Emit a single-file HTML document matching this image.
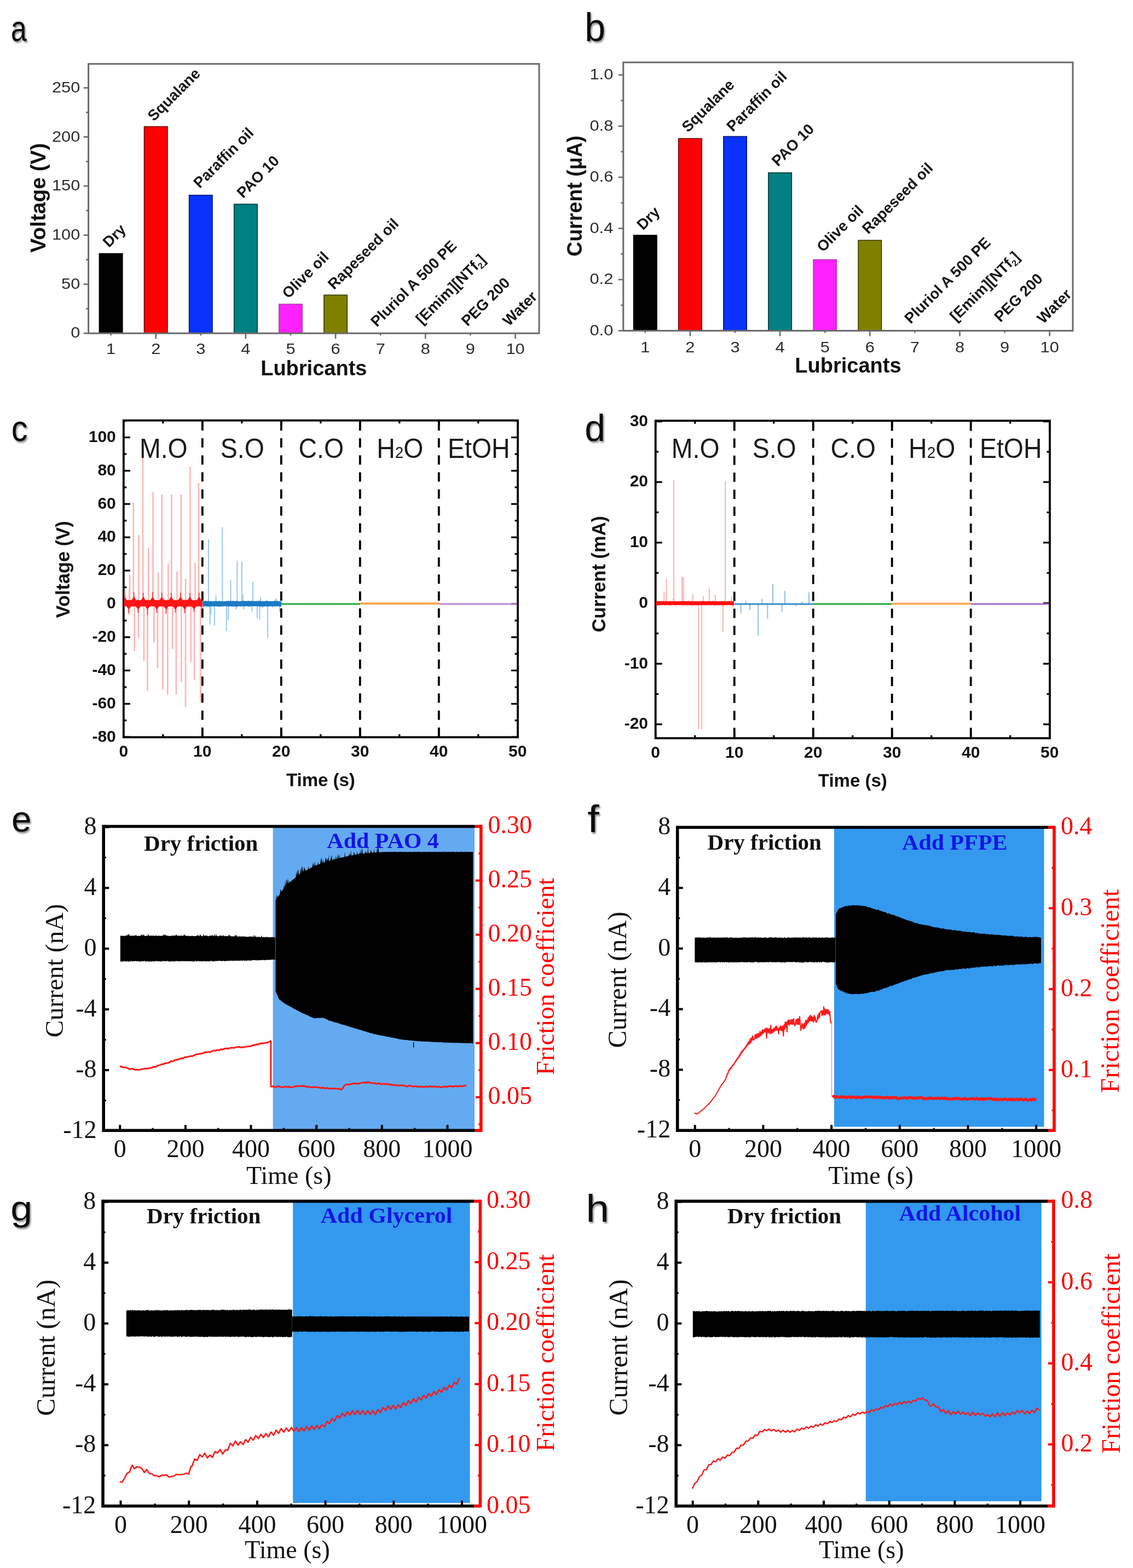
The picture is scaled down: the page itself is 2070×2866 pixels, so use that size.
<!DOCTYPE html>
<html><head><meta charset="utf-8"><title>Figure</title>
<style>html,body{margin:0;padding:0;background:#fff;}svg{display:block;}</style></head>
<body><svg xmlns="http://www.w3.org/2000/svg" width="2070" height="2866" viewBox="0 0 2070 2866">
<defs><filter id="sh" x="-30%" y="-30%" width="160%" height="160%"><feGaussianBlur in="SourceAlpha" stdDeviation="1.6"/><feOffset dx="2" dy="2.5" result="o"/><feComponentTransfer><feFuncA type="linear" slope="0.45"/></feComponentTransfer><feMerge><feMergeNode/><feMergeNode in="SourceGraphic"/></feMerge></filter></defs>
<rect width="2070" height="2866" fill="#fff"/>
<rect x="181.4" y="463.5" width="42.4" height="145.7" fill="#000000" stroke="#000000" stroke-width="1.6"/>
<rect x="263.5" y="231.4" width="42.4" height="377.8" fill="#ff0000" stroke="#720000" stroke-width="1.6"/>
<rect x="345.6" y="356.8" width="42.4" height="252.4" fill="#0a32ff" stroke="#041672" stroke-width="1.6"/>
<rect x="427.7" y="373.2" width="42.4" height="236" fill="#008080" stroke="#003939" stroke-width="1.6"/>
<rect x="509.8" y="555.9" width="42.4" height="53.3" fill="#ff22ff" stroke="#b040b0" stroke-width="1.6"/>
<rect x="591.9" y="539.3" width="42.4" height="69.9" fill="#808000" stroke="#393900" stroke-width="1.6"/>
<rect x="161.6" y="116.8" width="823.4" height="492.4" fill="none" stroke="#6a6a6a" stroke-width="3"/>
<line x1="152.6" y1="609.2" x2="161.6" y2="609.2" stroke="#6a6a6a" stroke-width="2.6"/>
<text transform="translate(146.3,617.4) scale(1.100,1)" font-family="'Liberation Sans', Arial, sans-serif" font-size="28" fill="#2b2b2b" text-anchor="end">0</text>
<line x1="152.6" y1="519.5" x2="161.6" y2="519.5" stroke="#6a6a6a" stroke-width="2.6"/>
<text transform="translate(146.3,527.7) scale(1.100,1)" font-family="'Liberation Sans', Arial, sans-serif" font-size="28" fill="#2b2b2b" text-anchor="end">50</text>
<line x1="152.6" y1="429.8" x2="161.6" y2="429.8" stroke="#6a6a6a" stroke-width="2.6"/>
<text transform="translate(146.3,438) scale(1.100,1)" font-family="'Liberation Sans', Arial, sans-serif" font-size="28" fill="#2b2b2b" text-anchor="end">100</text>
<line x1="152.6" y1="340" x2="161.6" y2="340" stroke="#6a6a6a" stroke-width="2.6"/>
<text transform="translate(146.3,348.2) scale(1.100,1)" font-family="'Liberation Sans', Arial, sans-serif" font-size="28" fill="#2b2b2b" text-anchor="end">150</text>
<line x1="152.6" y1="250.3" x2="161.6" y2="250.3" stroke="#6a6a6a" stroke-width="2.6"/>
<text transform="translate(146.3,258.5) scale(1.100,1)" font-family="'Liberation Sans', Arial, sans-serif" font-size="28" fill="#2b2b2b" text-anchor="end">200</text>
<line x1="152.6" y1="160.6" x2="161.6" y2="160.6" stroke="#6a6a6a" stroke-width="2.6"/>
<text transform="translate(146.3,168.8) scale(1.100,1)" font-family="'Liberation Sans', Arial, sans-serif" font-size="28" fill="#2b2b2b" text-anchor="end">250</text>
<line x1="157.1" y1="564.3" x2="161.6" y2="564.3" stroke="#6a6a6a" stroke-width="2.6"/>
<line x1="157.1" y1="474.6" x2="161.6" y2="474.6" stroke="#6a6a6a" stroke-width="2.6"/>
<line x1="157.1" y1="384.9" x2="161.6" y2="384.9" stroke="#6a6a6a" stroke-width="2.6"/>
<line x1="157.1" y1="295.2" x2="161.6" y2="295.2" stroke="#6a6a6a" stroke-width="2.6"/>
<line x1="157.1" y1="205.5" x2="161.6" y2="205.5" stroke="#6a6a6a" stroke-width="2.6"/>
<line x1="202.6" y1="609.2" x2="202.6" y2="613.2" stroke="#6a6a6a" stroke-width="2.6"/>
<text transform="translate(202.6,647.2) scale(1.100,1)" font-family="'Liberation Sans', Arial, sans-serif" font-size="28" fill="#2b2b2b" text-anchor="middle">1</text>
<line x1="284.7" y1="609.2" x2="284.7" y2="619.2" stroke="#6a6a6a" stroke-width="2.6"/>
<text transform="translate(284.7,647.2) scale(1.100,1)" font-family="'Liberation Sans', Arial, sans-serif" font-size="28" fill="#2b2b2b" text-anchor="middle">2</text>
<line x1="366.8" y1="609.2" x2="366.8" y2="613.2" stroke="#6a6a6a" stroke-width="2.6"/>
<text transform="translate(366.8,647.2) scale(1.100,1)" font-family="'Liberation Sans', Arial, sans-serif" font-size="28" fill="#2b2b2b" text-anchor="middle">3</text>
<line x1="448.9" y1="609.2" x2="448.9" y2="619.2" stroke="#6a6a6a" stroke-width="2.6"/>
<text transform="translate(448.9,647.2) scale(1.100,1)" font-family="'Liberation Sans', Arial, sans-serif" font-size="28" fill="#2b2b2b" text-anchor="middle">4</text>
<line x1="531" y1="609.2" x2="531" y2="613.2" stroke="#6a6a6a" stroke-width="2.6"/>
<text transform="translate(531,647.2) scale(1.100,1)" font-family="'Liberation Sans', Arial, sans-serif" font-size="28" fill="#2b2b2b" text-anchor="middle">5</text>
<line x1="613.1" y1="609.2" x2="613.1" y2="619.2" stroke="#6a6a6a" stroke-width="2.6"/>
<text transform="translate(613.1,647.2) scale(1.100,1)" font-family="'Liberation Sans', Arial, sans-serif" font-size="28" fill="#2b2b2b" text-anchor="middle">6</text>
<line x1="695.2" y1="609.2" x2="695.2" y2="613.2" stroke="#6a6a6a" stroke-width="2.6"/>
<text transform="translate(695.2,647.2) scale(1.100,1)" font-family="'Liberation Sans', Arial, sans-serif" font-size="28" fill="#2b2b2b" text-anchor="middle">7</text>
<line x1="777.3" y1="609.2" x2="777.3" y2="619.2" stroke="#6a6a6a" stroke-width="2.6"/>
<text transform="translate(777.3,647.2) scale(1.100,1)" font-family="'Liberation Sans', Arial, sans-serif" font-size="28" fill="#2b2b2b" text-anchor="middle">8</text>
<line x1="859.4" y1="609.2" x2="859.4" y2="613.2" stroke="#6a6a6a" stroke-width="2.6"/>
<text transform="translate(859.4,647.2) scale(1.100,1)" font-family="'Liberation Sans', Arial, sans-serif" font-size="28" fill="#2b2b2b" text-anchor="middle">9</text>
<line x1="941.5" y1="609.2" x2="941.5" y2="619.2" stroke="#6a6a6a" stroke-width="2.6"/>
<text transform="translate(941.5,647.2) scale(1.100,1)" font-family="'Liberation Sans', Arial, sans-serif" font-size="28" fill="#2b2b2b" text-anchor="middle">10</text>
<text transform="translate(199.1,453.5) rotate(-45)" font-family="'Liberation Sans', Arial, sans-serif" font-size="27.5" font-weight="bold" fill="#151515" text-anchor="start">Dry</text>
<text transform="translate(281.1,222.7) rotate(-45)" font-family="'Liberation Sans', Arial, sans-serif" font-size="27.5" font-weight="bold" fill="#151515" text-anchor="start">Squalane</text>
<text transform="translate(364.7,345.2) rotate(-45)" font-family="'Liberation Sans', Arial, sans-serif" font-size="27.5" font-weight="bold" fill="#151515" text-anchor="start">Paraffin oil</text>
<text transform="translate(444,363.5) rotate(-45)" font-family="'Liberation Sans', Arial, sans-serif" font-size="27.5" font-weight="bold" fill="#151515" text-anchor="start">PAO 10</text>
<text transform="translate(526.8,547.1) rotate(-45)" font-family="'Liberation Sans', Arial, sans-serif" font-size="27.5" font-weight="bold" fill="#151515" text-anchor="start">Olive oil</text>
<text transform="translate(610.3,530.5) rotate(-45)" font-family="'Liberation Sans', Arial, sans-serif" font-size="27.5" font-weight="bold" fill="#151515" text-anchor="start">Rapeseed oil</text>
<text transform="translate(688.4,598.7) rotate(-45)" font-family="'Liberation Sans', Arial, sans-serif" font-size="27.5" font-weight="bold" fill="#151515" text-anchor="start">Pluriol A 500 PE</text>
<text transform="translate(771.1,593.9) rotate(-45)" font-family="'Liberation Sans', Arial, sans-serif" font-size="27.5" font-weight="bold" fill="#151515" text-anchor="start">[Emim][NTf<tspan font-size="16" dy="5">2</tspan><tspan dy="-5">]</tspan></text>
<text transform="translate(854.3,597.6) rotate(-45)" font-family="'Liberation Sans', Arial, sans-serif" font-size="27.5" font-weight="bold" fill="#151515" text-anchor="start">PEG 200</text>
<text transform="translate(929.8,597.2) rotate(-45)" font-family="'Liberation Sans', Arial, sans-serif" font-size="27.5" font-weight="bold" fill="#151515" text-anchor="start">Water</text>
<text transform="translate(573.3,685.6)" font-family="'Liberation Sans', Arial, sans-serif" font-size="38" font-weight="bold" fill="#111" text-anchor="middle">Lubricants</text>
<text transform="translate(83.4,361.6) rotate(-90) scale(0.985,1)" font-family="'Liberation Sans', Arial, sans-serif" font-size="39.5" font-weight="bold" fill="#111" text-anchor="middle">Voltage (V)</text>
<rect x="1157.6" y="430" width="42.4" height="174.5" fill="#000000" stroke="#000000" stroke-width="1.6"/>
<rect x="1239.7" y="253.2" width="42.4" height="351.3" fill="#ff0000" stroke="#720000" stroke-width="1.6"/>
<rect x="1321.8" y="249.5" width="42.4" height="355" fill="#0a32ff" stroke="#041672" stroke-width="1.6"/>
<rect x="1403.9" y="315.8" width="42.4" height="288.7" fill="#008080" stroke="#003939" stroke-width="1.6"/>
<rect x="1486" y="474.6" width="42.4" height="129.9" fill="#ff22ff" stroke="#b040b0" stroke-width="1.6"/>
<rect x="1568.1" y="439.3" width="42.4" height="165.2" fill="#808000" stroke="#393900" stroke-width="1.6"/>
<rect x="1138.8" y="114" width="821.2" height="490.5" fill="none" stroke="#6a6a6a" stroke-width="3"/>
<line x1="1129.8" y1="604.5" x2="1138.8" y2="604.5" stroke="#6a6a6a" stroke-width="2.6"/>
<text transform="translate(1120.3,612.7) scale(1.100,1)" font-family="'Liberation Sans', Arial, sans-serif" font-size="28" fill="#2b2b2b" text-anchor="end">0.0</text>
<line x1="1129.8" y1="511" x2="1138.8" y2="511" stroke="#6a6a6a" stroke-width="2.6"/>
<text transform="translate(1120.3,519.2) scale(1.100,1)" font-family="'Liberation Sans', Arial, sans-serif" font-size="28" fill="#2b2b2b" text-anchor="end">0.2</text>
<line x1="1129.8" y1="417.5" x2="1138.8" y2="417.5" stroke="#6a6a6a" stroke-width="2.6"/>
<text transform="translate(1120.3,425.7) scale(1.100,1)" font-family="'Liberation Sans', Arial, sans-serif" font-size="28" fill="#2b2b2b" text-anchor="end">0.4</text>
<line x1="1129.8" y1="324" x2="1138.8" y2="324" stroke="#6a6a6a" stroke-width="2.6"/>
<text transform="translate(1120.3,332.2) scale(1.100,1)" font-family="'Liberation Sans', Arial, sans-serif" font-size="28" fill="#2b2b2b" text-anchor="end">0.6</text>
<line x1="1129.8" y1="230.5" x2="1138.8" y2="230.5" stroke="#6a6a6a" stroke-width="2.6"/>
<text transform="translate(1120.3,238.7) scale(1.100,1)" font-family="'Liberation Sans', Arial, sans-serif" font-size="28" fill="#2b2b2b" text-anchor="end">0.8</text>
<line x1="1129.8" y1="137" x2="1138.8" y2="137" stroke="#6a6a6a" stroke-width="2.6"/>
<text transform="translate(1120.3,145.2) scale(1.100,1)" font-family="'Liberation Sans', Arial, sans-serif" font-size="28" fill="#2b2b2b" text-anchor="end">1.0</text>
<line x1="1134.3" y1="557.8" x2="1138.8" y2="557.8" stroke="#6a6a6a" stroke-width="2.6"/>
<line x1="1134.3" y1="464.2" x2="1138.8" y2="464.2" stroke="#6a6a6a" stroke-width="2.6"/>
<line x1="1134.3" y1="370.8" x2="1138.8" y2="370.8" stroke="#6a6a6a" stroke-width="2.6"/>
<line x1="1134.3" y1="277.2" x2="1138.8" y2="277.2" stroke="#6a6a6a" stroke-width="2.6"/>
<line x1="1134.3" y1="183.8" x2="1138.8" y2="183.8" stroke="#6a6a6a" stroke-width="2.6"/>
<line x1="1178.8" y1="604.5" x2="1178.8" y2="608.5" stroke="#6a6a6a" stroke-width="2.6"/>
<text transform="translate(1178.8,644) scale(1.100,1)" font-family="'Liberation Sans', Arial, sans-serif" font-size="28" fill="#2b2b2b" text-anchor="middle">1</text>
<line x1="1260.9" y1="604.5" x2="1260.9" y2="614.5" stroke="#6a6a6a" stroke-width="2.6"/>
<text transform="translate(1260.9,644) scale(1.100,1)" font-family="'Liberation Sans', Arial, sans-serif" font-size="28" fill="#2b2b2b" text-anchor="middle">2</text>
<line x1="1343" y1="604.5" x2="1343" y2="608.5" stroke="#6a6a6a" stroke-width="2.6"/>
<text transform="translate(1343,644) scale(1.100,1)" font-family="'Liberation Sans', Arial, sans-serif" font-size="28" fill="#2b2b2b" text-anchor="middle">3</text>
<line x1="1425.1" y1="604.5" x2="1425.1" y2="614.5" stroke="#6a6a6a" stroke-width="2.6"/>
<text transform="translate(1425.1,644) scale(1.100,1)" font-family="'Liberation Sans', Arial, sans-serif" font-size="28" fill="#2b2b2b" text-anchor="middle">4</text>
<line x1="1507.2" y1="604.5" x2="1507.2" y2="608.5" stroke="#6a6a6a" stroke-width="2.6"/>
<text transform="translate(1507.2,644) scale(1.100,1)" font-family="'Liberation Sans', Arial, sans-serif" font-size="28" fill="#2b2b2b" text-anchor="middle">5</text>
<line x1="1589.3" y1="604.5" x2="1589.3" y2="614.5" stroke="#6a6a6a" stroke-width="2.6"/>
<text transform="translate(1589.3,644) scale(1.100,1)" font-family="'Liberation Sans', Arial, sans-serif" font-size="28" fill="#2b2b2b" text-anchor="middle">6</text>
<line x1="1671.4" y1="604.5" x2="1671.4" y2="608.5" stroke="#6a6a6a" stroke-width="2.6"/>
<text transform="translate(1671.4,644) scale(1.100,1)" font-family="'Liberation Sans', Arial, sans-serif" font-size="28" fill="#2b2b2b" text-anchor="middle">7</text>
<line x1="1753.5" y1="604.5" x2="1753.5" y2="614.5" stroke="#6a6a6a" stroke-width="2.6"/>
<text transform="translate(1753.5,644) scale(1.100,1)" font-family="'Liberation Sans', Arial, sans-serif" font-size="28" fill="#2b2b2b" text-anchor="middle">8</text>
<line x1="1835.6" y1="604.5" x2="1835.6" y2="608.5" stroke="#6a6a6a" stroke-width="2.6"/>
<text transform="translate(1835.6,644) scale(1.100,1)" font-family="'Liberation Sans', Arial, sans-serif" font-size="28" fill="#2b2b2b" text-anchor="middle">9</text>
<line x1="1917.7" y1="604.5" x2="1917.7" y2="614.5" stroke="#6a6a6a" stroke-width="2.6"/>
<text transform="translate(1917.7,644) scale(1.100,1)" font-family="'Liberation Sans', Arial, sans-serif" font-size="28" fill="#2b2b2b" text-anchor="middle">10</text>
<text transform="translate(1174.8,421.7) rotate(-45)" font-family="'Liberation Sans', Arial, sans-serif" font-size="27.5" font-weight="bold" fill="#151515" text-anchor="start">Dry</text>
<text transform="translate(1256.9,243.1) rotate(-45)" font-family="'Liberation Sans', Arial, sans-serif" font-size="27.5" font-weight="bold" fill="#151515" text-anchor="start">Squalane</text>
<text transform="translate(1338.8,242.1) rotate(-45)" font-family="'Liberation Sans', Arial, sans-serif" font-size="27.5" font-weight="bold" fill="#151515" text-anchor="start">Paraffin oil</text>
<text transform="translate(1421.3,305.3) rotate(-45)" font-family="'Liberation Sans', Arial, sans-serif" font-size="27.5" font-weight="bold" fill="#151515" text-anchor="start">PAO 10</text>
<text transform="translate(1503.4,462) rotate(-45)" font-family="'Liberation Sans', Arial, sans-serif" font-size="27.5" font-weight="bold" fill="#151515" text-anchor="start">Olive oil</text>
<text transform="translate(1586.3,428.9) rotate(-45)" font-family="'Liberation Sans', Arial, sans-serif" font-size="27.5" font-weight="bold" fill="#151515" text-anchor="start">Rapeseed oil</text>
<text transform="translate(1663.7,592.9) rotate(-45)" font-family="'Liberation Sans', Arial, sans-serif" font-size="27.5" font-weight="bold" fill="#151515" text-anchor="start">Pluriol A 500 PE</text>
<text transform="translate(1746.8,588.9) rotate(-45)" font-family="'Liberation Sans', Arial, sans-serif" font-size="27.5" font-weight="bold" fill="#151515" text-anchor="start">[Emim][NTf<tspan font-size="16" dy="5">2</tspan><tspan dy="-5">]</tspan></text>
<text transform="translate(1827.8,590) rotate(-45)" font-family="'Liberation Sans', Arial, sans-serif" font-size="27.5" font-weight="bold" fill="#151515" text-anchor="start">PEG 200</text>
<text transform="translate(1906,593) rotate(-45)" font-family="'Liberation Sans', Arial, sans-serif" font-size="27.5" font-weight="bold" fill="#151515" text-anchor="start">Water</text>
<text transform="translate(1549.4,681)" font-family="'Liberation Sans', Arial, sans-serif" font-size="38" font-weight="bold" fill="#111" text-anchor="middle">Lubricants</text>
<text transform="translate(1063.1,358.2) rotate(-90) scale(0.950,1)" font-family="'Liberation Sans', Arial, sans-serif" font-size="39.5" font-weight="bold" fill="#111" text-anchor="middle">Current (μA)</text>
<rect x="225.8" y="768.5" width="720.2" height="579" fill="none" stroke="#000" stroke-width="3.8"/>
<line x1="225.8" y1="1347.2" x2="237.8" y2="1347.2" stroke="#000" stroke-width="3.2"/>
<line x1="934" y1="1347.2" x2="946" y2="1347.2" stroke="#000" stroke-width="3.2"/>
<line x1="225.8" y1="1286.4" x2="237.8" y2="1286.4" stroke="#000" stroke-width="3.2"/>
<line x1="934" y1="1286.4" x2="946" y2="1286.4" stroke="#000" stroke-width="3.2"/>
<line x1="225.8" y1="1225.5" x2="237.8" y2="1225.5" stroke="#000" stroke-width="3.2"/>
<line x1="934" y1="1225.5" x2="946" y2="1225.5" stroke="#000" stroke-width="3.2"/>
<line x1="225.8" y1="1164.7" x2="237.8" y2="1164.7" stroke="#000" stroke-width="3.2"/>
<line x1="934" y1="1164.7" x2="946" y2="1164.7" stroke="#000" stroke-width="3.2"/>
<line x1="225.8" y1="1103.8" x2="237.8" y2="1103.8" stroke="#000" stroke-width="3.2"/>
<line x1="934" y1="1103.8" x2="946" y2="1103.8" stroke="#000" stroke-width="3.2"/>
<line x1="225.8" y1="1042.9" x2="237.8" y2="1042.9" stroke="#000" stroke-width="3.2"/>
<line x1="934" y1="1042.9" x2="946" y2="1042.9" stroke="#000" stroke-width="3.2"/>
<line x1="225.8" y1="982.1" x2="237.8" y2="982.1" stroke="#000" stroke-width="3.2"/>
<line x1="934" y1="982.1" x2="946" y2="982.1" stroke="#000" stroke-width="3.2"/>
<line x1="225.8" y1="921.2" x2="237.8" y2="921.2" stroke="#000" stroke-width="3.2"/>
<line x1="934" y1="921.2" x2="946" y2="921.2" stroke="#000" stroke-width="3.2"/>
<line x1="225.8" y1="860.4" x2="237.8" y2="860.4" stroke="#000" stroke-width="3.2"/>
<line x1="934" y1="860.4" x2="946" y2="860.4" stroke="#000" stroke-width="3.2"/>
<line x1="225.8" y1="799.5" x2="237.8" y2="799.5" stroke="#000" stroke-width="3.2"/>
<line x1="934" y1="799.5" x2="946" y2="799.5" stroke="#000" stroke-width="3.2"/>
<line x1="225.8" y1="1316.8" x2="231.3" y2="1316.8" stroke="#000" stroke-width="3.2"/>
<line x1="940.5" y1="1316.8" x2="946" y2="1316.8" stroke="#000" stroke-width="3.2"/>
<line x1="225.8" y1="1256" x2="231.3" y2="1256" stroke="#000" stroke-width="3.2"/>
<line x1="940.5" y1="1256" x2="946" y2="1256" stroke="#000" stroke-width="3.2"/>
<line x1="225.8" y1="1195.1" x2="231.3" y2="1195.1" stroke="#000" stroke-width="3.2"/>
<line x1="940.5" y1="1195.1" x2="946" y2="1195.1" stroke="#000" stroke-width="3.2"/>
<line x1="225.8" y1="1134.2" x2="231.3" y2="1134.2" stroke="#000" stroke-width="3.2"/>
<line x1="940.5" y1="1134.2" x2="946" y2="1134.2" stroke="#000" stroke-width="3.2"/>
<line x1="225.8" y1="1073.4" x2="231.3" y2="1073.4" stroke="#000" stroke-width="3.2"/>
<line x1="940.5" y1="1073.4" x2="946" y2="1073.4" stroke="#000" stroke-width="3.2"/>
<line x1="225.8" y1="1012.5" x2="231.3" y2="1012.5" stroke="#000" stroke-width="3.2"/>
<line x1="940.5" y1="1012.5" x2="946" y2="1012.5" stroke="#000" stroke-width="3.2"/>
<line x1="225.8" y1="951.6" x2="231.3" y2="951.6" stroke="#000" stroke-width="3.2"/>
<line x1="940.5" y1="951.6" x2="946" y2="951.6" stroke="#000" stroke-width="3.2"/>
<line x1="225.8" y1="890.8" x2="231.3" y2="890.8" stroke="#000" stroke-width="3.2"/>
<line x1="940.5" y1="890.8" x2="946" y2="890.8" stroke="#000" stroke-width="3.2"/>
<line x1="225.8" y1="829.9" x2="231.3" y2="829.9" stroke="#000" stroke-width="3.2"/>
<line x1="940.5" y1="829.9" x2="946" y2="829.9" stroke="#000" stroke-width="3.2"/>
<line x1="225.8" y1="769.1" x2="231.3" y2="769.1" stroke="#000" stroke-width="3.2"/>
<line x1="940.5" y1="769.1" x2="946" y2="769.1" stroke="#000" stroke-width="3.2"/>
<text transform="translate(211.8,1355.5)" font-family="'Liberation Sans', Arial, sans-serif" font-size="30" font-weight="bold" fill="#111" text-anchor="end">-80</text>
<text transform="translate(211.8,1294.7)" font-family="'Liberation Sans', Arial, sans-serif" font-size="30" font-weight="bold" fill="#111" text-anchor="end">-60</text>
<text transform="translate(211.8,1233.8)" font-family="'Liberation Sans', Arial, sans-serif" font-size="30" font-weight="bold" fill="#111" text-anchor="end">-40</text>
<text transform="translate(211.8,1173)" font-family="'Liberation Sans', Arial, sans-serif" font-size="30" font-weight="bold" fill="#111" text-anchor="end">-20</text>
<text transform="translate(211.8,1112.1)" font-family="'Liberation Sans', Arial, sans-serif" font-size="30" font-weight="bold" fill="#111" text-anchor="end">0</text>
<text transform="translate(211.8,1051.2)" font-family="'Liberation Sans', Arial, sans-serif" font-size="30" font-weight="bold" fill="#111" text-anchor="end">20</text>
<text transform="translate(211.8,990.4)" font-family="'Liberation Sans', Arial, sans-serif" font-size="30" font-weight="bold" fill="#111" text-anchor="end">40</text>
<text transform="translate(211.8,929.5)" font-family="'Liberation Sans', Arial, sans-serif" font-size="30" font-weight="bold" fill="#111" text-anchor="end">60</text>
<text transform="translate(211.8,868.7)" font-family="'Liberation Sans', Arial, sans-serif" font-size="30" font-weight="bold" fill="#111" text-anchor="end">80</text>
<text transform="translate(211.8,807.8)" font-family="'Liberation Sans', Arial, sans-serif" font-size="30" font-weight="bold" fill="#111" text-anchor="end">100</text>
<line x1="225.8" y1="1347.5" x2="225.8" y2="1335.5" stroke="#000" stroke-width="3.2"/>
<line x1="225.8" y1="768.5" x2="225.8" y2="780.5" stroke="#000" stroke-width="3.2"/>
<text transform="translate(225.8,1383)" font-family="'Liberation Sans', Arial, sans-serif" font-size="30" font-weight="bold" fill="#111" text-anchor="middle">0</text>
<line x1="369.8" y1="1347.5" x2="369.8" y2="1335.5" stroke="#000" stroke-width="3.2"/>
<line x1="369.8" y1="768.5" x2="369.8" y2="780.5" stroke="#000" stroke-width="3.2"/>
<text transform="translate(369.8,1383)" font-family="'Liberation Sans', Arial, sans-serif" font-size="30" font-weight="bold" fill="#111" text-anchor="middle">10</text>
<line x1="513.8" y1="1347.5" x2="513.8" y2="1335.5" stroke="#000" stroke-width="3.2"/>
<line x1="513.8" y1="768.5" x2="513.8" y2="780.5" stroke="#000" stroke-width="3.2"/>
<text transform="translate(513.8,1383)" font-family="'Liberation Sans', Arial, sans-serif" font-size="30" font-weight="bold" fill="#111" text-anchor="middle">20</text>
<line x1="657.8" y1="1347.5" x2="657.8" y2="1335.5" stroke="#000" stroke-width="3.2"/>
<line x1="657.8" y1="768.5" x2="657.8" y2="780.5" stroke="#000" stroke-width="3.2"/>
<text transform="translate(657.8,1383)" font-family="'Liberation Sans', Arial, sans-serif" font-size="30" font-weight="bold" fill="#111" text-anchor="middle">30</text>
<line x1="801.8" y1="1347.5" x2="801.8" y2="1335.5" stroke="#000" stroke-width="3.2"/>
<line x1="801.8" y1="768.5" x2="801.8" y2="780.5" stroke="#000" stroke-width="3.2"/>
<text transform="translate(801.8,1383)" font-family="'Liberation Sans', Arial, sans-serif" font-size="30" font-weight="bold" fill="#111" text-anchor="middle">40</text>
<line x1="945.8" y1="1347.5" x2="945.8" y2="1335.5" stroke="#000" stroke-width="3.2"/>
<line x1="945.8" y1="768.5" x2="945.8" y2="780.5" stroke="#000" stroke-width="3.2"/>
<text transform="translate(945.8,1383)" font-family="'Liberation Sans', Arial, sans-serif" font-size="30" font-weight="bold" fill="#111" text-anchor="middle">50</text>
<line x1="297.8" y1="1347.5" x2="297.8" y2="1342" stroke="#000" stroke-width="3.2"/>
<line x1="297.8" y1="768.5" x2="297.8" y2="774" stroke="#000" stroke-width="3.2"/>
<line x1="441.8" y1="1347.5" x2="441.8" y2="1342" stroke="#000" stroke-width="3.2"/>
<line x1="441.8" y1="768.5" x2="441.8" y2="774" stroke="#000" stroke-width="3.2"/>
<line x1="585.8" y1="1347.5" x2="585.8" y2="1342" stroke="#000" stroke-width="3.2"/>
<line x1="585.8" y1="768.5" x2="585.8" y2="774" stroke="#000" stroke-width="3.2"/>
<line x1="729.8" y1="1347.5" x2="729.8" y2="1342" stroke="#000" stroke-width="3.2"/>
<line x1="729.8" y1="768.5" x2="729.8" y2="774" stroke="#000" stroke-width="3.2"/>
<line x1="873.8" y1="1347.5" x2="873.8" y2="1342" stroke="#000" stroke-width="3.2"/>
<line x1="873.8" y1="768.5" x2="873.8" y2="774" stroke="#000" stroke-width="3.2"/>
<line x1="228.8" y1="1102" x2="228.8" y2="1080.5" stroke="#ffb4b4" stroke-width="2.6"/>
<line x1="236.2" y1="1102" x2="236.2" y2="1075.7" stroke="#ffb4b4" stroke-width="2.6"/>
<line x1="237" y1="1102" x2="237" y2="1050.7" stroke="#ffb4b4" stroke-width="2.6"/>
<line x1="243.8" y1="1102" x2="243.8" y2="918.6" stroke="#ffb4b4" stroke-width="2.6"/>
<line x1="253.3" y1="1102" x2="253.3" y2="978" stroke="#ffb4b4" stroke-width="2.6"/>
<line x1="261" y1="1102" x2="261" y2="812" stroke="#ffb4b4" stroke-width="2.6"/>
<line x1="271.2" y1="1102" x2="271.2" y2="1001.4" stroke="#ffb4b4" stroke-width="2.6"/>
<line x1="279.5" y1="1102" x2="279.5" y2="899.5" stroke="#ffb4b4" stroke-width="2.6"/>
<line x1="289" y1="1102" x2="289" y2="1046" stroke="#ffb4b4" stroke-width="2.6"/>
<line x1="295.7" y1="1102" x2="295.7" y2="904" stroke="#ffb4b4" stroke-width="2.6"/>
<line x1="307.4" y1="1102" x2="307.4" y2="1031.7" stroke="#ffb4b4" stroke-width="2.6"/>
<line x1="313.3" y1="1102" x2="313.3" y2="904" stroke="#ffb4b4" stroke-width="2.6"/>
<line x1="323.6" y1="1102" x2="323.6" y2="1044.8" stroke="#ffb4b4" stroke-width="2.6"/>
<line x1="330.7" y1="1102" x2="330.7" y2="904" stroke="#ffb4b4" stroke-width="2.6"/>
<line x1="339" y1="1102" x2="339" y2="1057.9" stroke="#ffb4b4" stroke-width="2.6"/>
<line x1="347.4" y1="1102" x2="347.4" y2="853" stroke="#ffb4b4" stroke-width="2.6"/>
<line x1="356.4" y1="1102" x2="356.4" y2="1029.3" stroke="#ffb4b4" stroke-width="2.6"/>
<line x1="362.9" y1="1102" x2="362.9" y2="882.9" stroke="#ffb4b4" stroke-width="2.6"/>
<line x1="234.8" y1="1102" x2="234.8" y2="1123.3" stroke="#ffb4b4" stroke-width="2.6"/>
<line x1="245.7" y1="1102" x2="245.7" y2="1190" stroke="#ffb4b4" stroke-width="2.6"/>
<line x1="252.9" y1="1102" x2="252.9" y2="1166.2" stroke="#ffb4b4" stroke-width="2.6"/>
<line x1="262.9" y1="1102" x2="262.9" y2="1207.9" stroke="#ffb4b4" stroke-width="2.6"/>
<line x1="269.5" y1="1102" x2="269.5" y2="1262.6" stroke="#ffb4b4" stroke-width="2.6"/>
<line x1="281.4" y1="1102" x2="281.4" y2="1174.5" stroke="#ffb4b4" stroke-width="2.6"/>
<line x1="287.9" y1="1102" x2="287.9" y2="1221" stroke="#ffb4b4" stroke-width="2.6"/>
<line x1="297.4" y1="1102" x2="297.4" y2="1260.2" stroke="#ffb4b4" stroke-width="2.6"/>
<line x1="306.2" y1="1102" x2="306.2" y2="1269.8" stroke="#ffb4b4" stroke-width="2.6"/>
<line x1="315.2" y1="1102" x2="315.2" y2="1186.4" stroke="#ffb4b4" stroke-width="2.6"/>
<line x1="321.9" y1="1102" x2="321.9" y2="1269.8" stroke="#ffb4b4" stroke-width="2.6"/>
<line x1="331.4" y1="1102" x2="331.4" y2="1247" stroke="#ffb4b4" stroke-width="2.6"/>
<line x1="339" y1="1102" x2="339" y2="1292.4" stroke="#ffb4b4" stroke-width="2.6"/>
<line x1="348.6" y1="1102" x2="348.6" y2="1210.2" stroke="#ffb4b4" stroke-width="2.6"/>
<line x1="355" y1="1102" x2="355" y2="1242.4" stroke="#ffb4b4" stroke-width="2.6"/>
<line x1="366.4" y1="1102" x2="366.4" y2="1284" stroke="#ffb4b4" stroke-width="2.6"/>
<polygon points="226.5,1092.3 227.3,1090.5 228.1,1090.6 228.9,1092.5 229.7,1093.9 230.5,1095.2 231.3,1096 232.1,1097.1 232.9,1096.7 233.7,1096.7 234.5,1096.4 235.3,1096.5 236.1,1097.1 236.9,1097 237.7,1097.1 238.5,1096.7 239.3,1096.8 240.1,1097.2 240.9,1096 241.7,1095.3 242.5,1093.9 243.3,1092.3 244.1,1091.2 244.9,1090.2 245.7,1091.6 246.5,1092.8 247.3,1094.6 248.1,1096 248.9,1097 249.7,1096.6 250.5,1096.5 251.3,1096.6 252.1,1096.7 252.9,1096.5 253.7,1096.8 254.5,1097.2 255.3,1096.7 256.1,1096.5 256.9,1096.9 257.7,1096.8 258.5,1095.7 259.3,1094.6 260.1,1093.1 260.9,1091.5 261.7,1090.1 262.5,1091.3 263.3,1092.6 264.1,1094.4 264.9,1095.5 265.7,1096 266.5,1097.1 267.3,1097 268.1,1096.7 268.9,1097.2 269.7,1096.9 270.5,1096.4 271.3,1096.8 272.1,1096.7 272.9,1096.5 273.7,1096.5 274.5,1096.7 275.3,1096 276.1,1094.9 276.9,1093.4 277.7,1091.9 278.5,1090.6 279.3,1091.3 280.1,1092.9 280.9,1093.8 281.7,1095.3 282.5,1096.3 283.3,1096.5 284.1,1096.8 284.9,1097.1 285.7,1096.9 286.5,1096.5 287.3,1097.2 288.1,1096.8 288.9,1096.8 289.7,1096.8 290.5,1096.5 291.3,1096.9 292.1,1096.2 292.9,1094.8 293.7,1093.7 294.5,1091.9 295.3,1090.3 296.1,1090.3 296.9,1092.3 297.7,1093.7 298.5,1095.2 299.3,1096.1 300.1,1096.4 300.9,1096.5 301.7,1096.4 302.5,1097 303.3,1097 304.1,1096.7 304.9,1096.5 305.7,1096.7 306.5,1097.1 307.3,1096.5 308.1,1096.6 308.9,1096.4 309.7,1095.3 310.5,1093.5 311.3,1092.6 312.1,1090.8 312.9,1090.5 313.7,1091.4 314.5,1093.5 315.3,1094.1 316.1,1095.8 316.9,1096.9 317.7,1096.4 318.5,1096.8 319.3,1096.9 320.1,1096.5 320.9,1097 321.7,1097 322.5,1097 323.3,1097.1 324.1,1096.9 324.9,1096.7 325.7,1096.5 326.5,1095.4 327.3,1094.2 328.1,1092.9 328.9,1091.8 329.7,1090.1 330.5,1091.2 331.3,1093 332.1,1094.2 332.9,1095.7 333.7,1096.6 334.5,1096.6 335.3,1096.8 336.1,1096.5 336.9,1096.7 337.7,1096.8 338.5,1096.8 339.3,1096.8 340.1,1096.6 340.9,1096.4 341.7,1096.8 342.5,1096.3 343.3,1096 344.1,1094.9 344.9,1093.5 345.7,1091.5 346.5,1090.5 347.3,1090.9 348.1,1092.2 348.9,1094.1 349.7,1095.2 350.5,1095.8 351.3,1097.1 352.1,1096.8 352.9,1097 353.7,1096.6 354.5,1096.8 355.3,1097.2 356.1,1096.7 356.9,1097.1 357.7,1096.6 358.5,1097.1 359.3,1097.1 360.1,1096.1 360.9,1094.9 361.7,1093.3 362.5,1092.4 363.3,1090.5 364.1,1090.9 364.9,1092 365.7,1093.9 366.5,1094.7 367.3,1096.3 368.1,1097.1 368.9,1096.8 369.7,1096.8 369.7,1112.2 368.9,1110.5 368.1,1109.9 367.3,1109 366.5,1108.6 365.7,1108.8 364.9,1108.3 364.1,1108 363.3,1108.6 362.5,1108.7 361.7,1108.2 360.9,1108.7 360.1,1108.1 359.3,1108.6 358.5,1108.5 357.7,1109.9 356.9,1111.1 356.1,1111.9 355.3,1113.1 354.5,1114.7 353.7,1113.2 352.9,1112.1 352.1,1110.8 351.3,1109.8 350.5,1109.1 349.7,1108.4 348.9,1108.8 348.1,1108.8 347.3,1108.1 346.5,1108.6 345.7,1108.7 344.9,1108.5 344.1,1108.2 343.3,1108.4 342.5,1108.1 341.7,1108.9 340.9,1109.1 340.1,1110.7 339.3,1111.9 338.5,1112.9 337.7,1114.5 336.9,1114 336.1,1112.5 335.3,1111.5 334.5,1110.1 333.7,1108.9 332.9,1108.4 332.1,1108.6 331.3,1108.4 330.5,1108.4 329.7,1108.4 328.9,1108.6 328.1,1108.1 327.3,1108 326.5,1108.4 325.7,1108.7 324.9,1108.7 324.1,1109.1 323.3,1110.4 322.5,1111.2 321.7,1112.6 320.9,1113.8 320.1,1114.1 319.3,1113.2 318.5,1111.9 317.7,1110.5 316.9,1108.9 316.1,1108.6 315.3,1108.5 314.5,1108.7 313.7,1108.6 312.9,1108.1 312.1,1108.1 311.3,1108.8 310.5,1108.3 309.7,1108.6 308.9,1108.6 308.1,1108.4 307.3,1109.1 306.5,1110 305.7,1111.2 304.9,1112.2 304.1,1113.9 303.3,1114.5 302.5,1113 301.7,1111.8 300.9,1111.1 300.1,1109.5 299.3,1108.8 298.5,1108.2 297.7,1108 296.9,1108.4 296.1,1108.6 295.3,1108.6 294.5,1108.8 293.7,1108.2 292.9,1108.6 292.1,1108.6 291.3,1108.3 290.5,1108.8 289.7,1109.9 288.9,1110.3 288.1,1111.6 287.3,1113.6 286.5,1114.4 285.7,1113.4 284.9,1111.9 284.1,1111 283.3,1110.2 282.5,1108.6 281.7,1108.3 280.9,1108.1 280.1,1108.7 279.3,1108.3 278.5,1108.1 277.7,1108 276.9,1108.1 276.1,1108.1 275.3,1108.5 274.5,1108.3 273.7,1108.8 272.9,1109.5 272.1,1110 271.3,1111.7 270.5,1113.1 269.7,1114.4 268.9,1113.9 268.1,1112.4 267.3,1111.3 266.5,1109.9 265.7,1108.8 264.9,1108.7 264.1,1108.3 263.3,1108.7 262.5,1108.7 261.7,1108.4 260.9,1108.7 260.1,1108.2 259.3,1108.6 258.5,1108.1 257.7,1108.4 256.9,1108.5 256.1,1108.9 255.3,1110.5 254.5,1111.4 253.7,1112.7 252.9,1114.3 252.1,1114.3 251.3,1113 250.5,1111.4 249.7,1110.4 248.9,1109.5 248.1,1108.5 247.3,1108.6 246.5,1108.1 245.7,1108.2 244.9,1108.7 244.1,1108.5 243.3,1108.6 242.5,1108.2 241.7,1108.5 240.9,1108.3 240.1,1108.2 239.3,1108.5 238.5,1109.7 237.7,1111 236.9,1112.5 236.1,1113.3 235.3,1114.5 234.5,1112.9 233.7,1111.8 232.9,1111 232.1,1109.3 231.3,1108.9 230.5,1108.1 229.7,1108.3 228.9,1108.4 228.1,1108.3 227.3,1108.1 226.5,1108.1" fill="#ff1414" stroke="none" stroke-width="1"/>
<line x1="244.7" y1="1092" x2="244.7" y2="1082.9" stroke="#ff3030" stroke-width="1.6"/>
<line x1="261.7" y1="1092" x2="261.7" y2="1083.5" stroke="#ff3030" stroke-width="1.6"/>
<line x1="278.7" y1="1092" x2="278.7" y2="1081.9" stroke="#ff3030" stroke-width="1.6"/>
<line x1="295.7" y1="1092" x2="295.7" y2="1083" stroke="#ff3030" stroke-width="1.6"/>
<line x1="312.7" y1="1092" x2="312.7" y2="1083.6" stroke="#ff3030" stroke-width="1.6"/>
<line x1="329.7" y1="1092" x2="329.7" y2="1083.4" stroke="#ff3030" stroke-width="1.6"/>
<line x1="346.7" y1="1092" x2="346.7" y2="1083.8" stroke="#ff3030" stroke-width="1.6"/>
<line x1="363.7" y1="1092" x2="363.7" y2="1083.2" stroke="#ff3030" stroke-width="1.6"/>
<line x1="235.4" y1="1112" x2="235.4" y2="1120.5" stroke="#ff3030" stroke-width="1.6"/>
<line x1="252.4" y1="1112" x2="252.4" y2="1120.4" stroke="#ff3030" stroke-width="1.6"/>
<line x1="269.4" y1="1112" x2="269.4" y2="1124.1" stroke="#ff3030" stroke-width="1.6"/>
<line x1="286.4" y1="1112" x2="286.4" y2="1120.3" stroke="#ff3030" stroke-width="1.6"/>
<line x1="303.4" y1="1112" x2="303.4" y2="1122" stroke="#ff3030" stroke-width="1.6"/>
<line x1="320.4" y1="1112" x2="320.4" y2="1119.4" stroke="#ff3030" stroke-width="1.6"/>
<line x1="337.4" y1="1112" x2="337.4" y2="1120.8" stroke="#ff3030" stroke-width="1.6"/>
<line x1="354.4" y1="1112" x2="354.4" y2="1118.1" stroke="#ff3030" stroke-width="1.6"/>
<line x1="380.9" y1="1103.5" x2="380.9" y2="985.8" stroke="#9cc8e8" stroke-width="2"/>
<line x1="406.2" y1="1103.5" x2="406.2" y2="963.3" stroke="#9cc8e8" stroke-width="2"/>
<line x1="421.5" y1="1103.5" x2="421.5" y2="1059.5" stroke="#9cc8e8" stroke-width="2"/>
<line x1="433.4" y1="1103.5" x2="433.4" y2="1024.8" stroke="#9cc8e8" stroke-width="2"/>
<line x1="441.9" y1="1103.5" x2="441.9" y2="1026" stroke="#9cc8e8" stroke-width="2"/>
<line x1="462" y1="1103.5" x2="462" y2="1063.8" stroke="#9cc8e8" stroke-width="2"/>
<line x1="394.6" y1="1103.5" x2="394.6" y2="1088" stroke="#9cc8e8" stroke-width="2"/>
<line x1="443.5" y1="1103.5" x2="443.5" y2="1087.5" stroke="#9cc8e8" stroke-width="2"/>
<line x1="476" y1="1103.5" x2="476" y2="1092" stroke="#9cc8e8" stroke-width="2"/>
<line x1="504.5" y1="1103.5" x2="504.5" y2="1093.6" stroke="#9cc8e8" stroke-width="2"/>
<line x1="385.3" y1="1103.5" x2="385.3" y2="1122.6" stroke="#9cc8e8" stroke-width="2"/>
<line x1="383.6" y1="1103.5" x2="383.6" y2="1141.9" stroke="#9cc8e8" stroke-width="2"/>
<line x1="391.9" y1="1103.5" x2="391.9" y2="1143.5" stroke="#9cc8e8" stroke-width="2"/>
<line x1="413.8" y1="1103.5" x2="413.8" y2="1153.4" stroke="#9cc8e8" stroke-width="2"/>
<line x1="417" y1="1103.5" x2="417" y2="1133.6" stroke="#9cc8e8" stroke-width="2"/>
<line x1="431.4" y1="1103.5" x2="431.4" y2="1113.8" stroke="#9cc8e8" stroke-width="2"/>
<line x1="445.2" y1="1103.5" x2="445.2" y2="1113.8" stroke="#9cc8e8" stroke-width="2"/>
<line x1="460.5" y1="1103.5" x2="460.5" y2="1118" stroke="#9cc8e8" stroke-width="2"/>
<line x1="469.9" y1="1103.5" x2="469.9" y2="1130" stroke="#9cc8e8" stroke-width="2"/>
<line x1="474.3" y1="1103.5" x2="474.3" y2="1132.5" stroke="#9cc8e8" stroke-width="2"/>
<line x1="479.2" y1="1103.5" x2="479.2" y2="1111.6" stroke="#9cc8e8" stroke-width="2"/>
<line x1="489.1" y1="1103.5" x2="489.1" y2="1166" stroke="#9cc8e8" stroke-width="2"/>
<line x1="511" y1="1103.5" x2="511" y2="1118" stroke="#9cc8e8" stroke-width="2"/>
<polygon points="370.2,1098.9 371.7,1098.3 373.2,1099 374.7,1098.1 376.2,1098.2 377.7,1098.6 379.2,1098.7 380.7,1098.4 382.2,1098.8 383.7,1098.4 385.2,1098.7 386.7,1099.1 388.2,1099.1 389.7,1098.9 391.2,1099.1 392.7,1098.2 394.2,1098.9 395.7,1098.8 397.2,1099 398.7,1098.9 400.2,1098 401.7,1098.9 403.2,1098.8 404.7,1099.2 406.2,1098.6 407.7,1099 409.2,1099.2 410.7,1099.1 412.2,1099.1 413.7,1098.8 415.2,1098.5 416.7,1098.3 418.2,1098.3 419.7,1098.7 421.2,1098 422.7,1098.3 424.2,1099.1 425.7,1098.1 427.2,1098.3 428.7,1099 430.2,1098.6 431.7,1098.2 433.2,1098.5 434.7,1098.4 436.2,1098.9 437.7,1099 439.2,1099.1 440.7,1098.5 442.2,1098.4 443.7,1098.6 445.2,1098.2 446.7,1098.6 448.2,1098.4 449.7,1098.3 451.2,1099.1 452.7,1098.3 454.2,1098.3 455.7,1098.6 457.2,1098.6 458.7,1098.3 460.2,1098.4 461.7,1099 463.2,1098.3 464.7,1098.5 466.2,1099.1 467.7,1098.4 469.2,1098.4 470.7,1098.6 472.2,1098.6 473.7,1098.1 475.2,1098 476.7,1099.2 478.2,1098.2 479.7,1098.7 481.2,1098.9 482.7,1098.9 484.2,1099 485.7,1098.1 487.2,1098.2 488.7,1098.1 490.2,1098.9 491.7,1098.6 493.2,1099.2 494.7,1098.7 496.2,1099 497.7,1098.8 499.2,1099.2 500.7,1098.2 502.2,1098.1 503.7,1098.1 505.2,1098.8 506.7,1098 508.2,1098.8 509.7,1098.9 511.2,1099.1 512.7,1098.9 514.2,1098.9 514.2,1108.1 512.7,1108.9 511.2,1108.8 509.7,1107.9 508.2,1108.3 506.7,1108.5 505.2,1108.3 503.7,1108.1 502.2,1108.7 500.7,1107.9 499.2,1108.7 497.7,1108.8 496.2,1108.2 494.7,1108.2 493.2,1108.4 491.7,1107.8 490.2,1108.9 488.7,1108.6 487.2,1108.4 485.7,1108 484.2,1108.4 482.7,1108.5 481.2,1108.9 479.7,1108.1 478.2,1109 476.7,1108.4 475.2,1108.9 473.7,1108 472.2,1107.9 470.7,1108.4 469.2,1108.1 467.7,1108.6 466.2,1108.1 464.7,1107.8 463.2,1108.2 461.7,1108.1 460.2,1107.9 458.7,1108.5 457.2,1108.6 455.7,1108.3 454.2,1109 452.7,1108 451.2,1108.1 449.7,1108.1 448.2,1107.9 446.7,1108.4 445.2,1108.7 443.7,1107.8 442.2,1108.6 440.7,1108.6 439.2,1108.8 437.7,1108.2 436.2,1107.8 434.7,1108.6 433.2,1108.9 431.7,1108.8 430.2,1108.8 428.7,1108.4 427.2,1108.8 425.7,1108.6 424.2,1108.8 422.7,1108.6 421.2,1108 419.7,1108.2 418.2,1108.9 416.7,1108.6 415.2,1108.4 413.7,1108.1 412.2,1107.8 410.7,1108.3 409.2,1108.1 407.7,1108.4 406.2,1108.4 404.7,1108.3 403.2,1108.2 401.7,1109 400.2,1108.5 398.7,1109 397.2,1108.3 395.7,1108.4 394.2,1108.1 392.7,1108.6 391.2,1108.8 389.7,1108 388.2,1108.7 386.7,1108 385.2,1108.2 383.7,1108.6 382.2,1108.8 380.7,1109 379.2,1108.4 377.7,1108.8 376.2,1108.3 374.7,1107.9 373.2,1108.4 371.7,1108.5 370.2,1107.8" fill="#1a7ac4" stroke="none" stroke-width="1"/>
<line x1="514.4" y1="1104" x2="658.2" y2="1104" stroke="#26a640" stroke-width="3.2"/>
<line x1="658.2" y1="1103.2" x2="802.2" y2="1103.2" stroke="#ffa54a" stroke-width="3.8"/>
<line x1="802.2" y1="1104" x2="944.5" y2="1104" stroke="#b28ad2" stroke-width="2.8"/>
<line x1="369.8" y1="770" x2="369.8" y2="1347.5" stroke="#000" stroke-width="3.8" stroke-dasharray="17 14.1"/>
<line x1="513.8" y1="770" x2="513.8" y2="1347.5" stroke="#000" stroke-width="3.8" stroke-dasharray="17 14.1"/>
<line x1="657.8" y1="770" x2="657.8" y2="1347.5" stroke="#000" stroke-width="3.8" stroke-dasharray="17 14.1"/>
<line x1="801.8" y1="770" x2="801.8" y2="1347.5" stroke="#000" stroke-width="3.8" stroke-dasharray="17 14.1"/>
<text transform="translate(298.8,837) scale(0.930,1)" font-family="'Liberation Sans', Arial, sans-serif" font-size="50" fill="#1a1a1a" text-anchor="middle">M.O</text>
<text transform="translate(442.8,837) scale(0.930,1)" font-family="'Liberation Sans', Arial, sans-serif" font-size="50" fill="#1a1a1a" text-anchor="middle">S.O</text>
<text transform="translate(586.8,837) scale(0.930,1)" font-family="'Liberation Sans', Arial, sans-serif" font-size="50" fill="#1a1a1a" text-anchor="middle">C.O</text>
<text transform="translate(730.8,837) scale(0.930,1)" font-family="'Liberation Sans', Arial, sans-serif" font-size="50" fill="#1a1a1a" text-anchor="middle">H<tspan font-size="30">2</tspan>O</text>
<text transform="translate(874.8,837) scale(0.930,1)" font-family="'Liberation Sans', Arial, sans-serif" font-size="50" fill="#1a1a1a" text-anchor="middle">EtOH</text>
<text transform="translate(585.9,1436.6)" font-family="'Liberation Sans', Arial, sans-serif" font-size="33" font-weight="bold" fill="#111" text-anchor="middle">Time (s)</text>
<text transform="translate(127,1040.9) rotate(-90) scale(0.970,1)" font-family="'Liberation Sans', Arial, sans-serif" font-size="35.5" font-weight="bold" fill="#111" text-anchor="middle">Voltage (V)</text>
<rect x="1197.7" y="769" width="720.3" height="580.3" fill="none" stroke="#000" stroke-width="3.8"/>
<line x1="1197.7" y1="1323.9" x2="1209.7" y2="1323.9" stroke="#000" stroke-width="3.2"/>
<line x1="1906" y1="1323.9" x2="1918" y2="1323.9" stroke="#000" stroke-width="3.2"/>
<line x1="1197.7" y1="1213.2" x2="1209.7" y2="1213.2" stroke="#000" stroke-width="3.2"/>
<line x1="1906" y1="1213.2" x2="1918" y2="1213.2" stroke="#000" stroke-width="3.2"/>
<line x1="1197.7" y1="1102.5" x2="1209.7" y2="1102.5" stroke="#000" stroke-width="3.2"/>
<line x1="1906" y1="1102.5" x2="1918" y2="1102.5" stroke="#000" stroke-width="3.2"/>
<line x1="1197.7" y1="991.8" x2="1209.7" y2="991.8" stroke="#000" stroke-width="3.2"/>
<line x1="1906" y1="991.8" x2="1918" y2="991.8" stroke="#000" stroke-width="3.2"/>
<line x1="1197.7" y1="881.1" x2="1209.7" y2="881.1" stroke="#000" stroke-width="3.2"/>
<line x1="1906" y1="881.1" x2="1918" y2="881.1" stroke="#000" stroke-width="3.2"/>
<line x1="1197.7" y1="770.4" x2="1209.7" y2="770.4" stroke="#000" stroke-width="3.2"/>
<line x1="1906" y1="770.4" x2="1918" y2="770.4" stroke="#000" stroke-width="3.2"/>
<line x1="1197.7" y1="1268.5" x2="1203.2" y2="1268.5" stroke="#000" stroke-width="3.2"/>
<line x1="1912.5" y1="1268.5" x2="1918" y2="1268.5" stroke="#000" stroke-width="3.2"/>
<line x1="1197.7" y1="1157.8" x2="1203.2" y2="1157.8" stroke="#000" stroke-width="3.2"/>
<line x1="1912.5" y1="1157.8" x2="1918" y2="1157.8" stroke="#000" stroke-width="3.2"/>
<line x1="1197.7" y1="1047.2" x2="1203.2" y2="1047.2" stroke="#000" stroke-width="3.2"/>
<line x1="1912.5" y1="1047.2" x2="1918" y2="1047.2" stroke="#000" stroke-width="3.2"/>
<line x1="1197.7" y1="936.5" x2="1203.2" y2="936.5" stroke="#000" stroke-width="3.2"/>
<line x1="1912.5" y1="936.5" x2="1918" y2="936.5" stroke="#000" stroke-width="3.2"/>
<line x1="1197.7" y1="825.8" x2="1203.2" y2="825.8" stroke="#000" stroke-width="3.2"/>
<line x1="1912.5" y1="825.8" x2="1918" y2="825.8" stroke="#000" stroke-width="3.2"/>
<text transform="translate(1184,1332.2)" font-family="'Liberation Sans', Arial, sans-serif" font-size="30" font-weight="bold" fill="#111" text-anchor="end">-20</text>
<text transform="translate(1184,1221.5)" font-family="'Liberation Sans', Arial, sans-serif" font-size="30" font-weight="bold" fill="#111" text-anchor="end">-10</text>
<text transform="translate(1184,1110.8)" font-family="'Liberation Sans', Arial, sans-serif" font-size="30" font-weight="bold" fill="#111" text-anchor="end">0</text>
<text transform="translate(1184,1000.1)" font-family="'Liberation Sans', Arial, sans-serif" font-size="30" font-weight="bold" fill="#111" text-anchor="end">10</text>
<text transform="translate(1184,889.4)" font-family="'Liberation Sans', Arial, sans-serif" font-size="30" font-weight="bold" fill="#111" text-anchor="end">20</text>
<text transform="translate(1184,778.7)" font-family="'Liberation Sans', Arial, sans-serif" font-size="30" font-weight="bold" fill="#111" text-anchor="end">30</text>
<line x1="1197.7" y1="1349.3" x2="1197.7" y2="1337.3" stroke="#000" stroke-width="3.2"/>
<line x1="1197.7" y1="769" x2="1197.7" y2="781" stroke="#000" stroke-width="3.2"/>
<text transform="translate(1197.7,1384.8)" font-family="'Liberation Sans', Arial, sans-serif" font-size="30" font-weight="bold" fill="#111" text-anchor="middle">0</text>
<line x1="1341.7" y1="1349.3" x2="1341.7" y2="1337.3" stroke="#000" stroke-width="3.2"/>
<line x1="1341.7" y1="769" x2="1341.7" y2="781" stroke="#000" stroke-width="3.2"/>
<text transform="translate(1341.7,1384.8)" font-family="'Liberation Sans', Arial, sans-serif" font-size="30" font-weight="bold" fill="#111" text-anchor="middle">10</text>
<line x1="1485.7" y1="1349.3" x2="1485.7" y2="1337.3" stroke="#000" stroke-width="3.2"/>
<line x1="1485.7" y1="769" x2="1485.7" y2="781" stroke="#000" stroke-width="3.2"/>
<text transform="translate(1485.7,1384.8)" font-family="'Liberation Sans', Arial, sans-serif" font-size="30" font-weight="bold" fill="#111" text-anchor="middle">20</text>
<line x1="1629.7" y1="1349.3" x2="1629.7" y2="1337.3" stroke="#000" stroke-width="3.2"/>
<line x1="1629.7" y1="769" x2="1629.7" y2="781" stroke="#000" stroke-width="3.2"/>
<text transform="translate(1629.7,1384.8)" font-family="'Liberation Sans', Arial, sans-serif" font-size="30" font-weight="bold" fill="#111" text-anchor="middle">30</text>
<line x1="1773.7" y1="1349.3" x2="1773.7" y2="1337.3" stroke="#000" stroke-width="3.2"/>
<line x1="1773.7" y1="769" x2="1773.7" y2="781" stroke="#000" stroke-width="3.2"/>
<text transform="translate(1773.7,1384.8)" font-family="'Liberation Sans', Arial, sans-serif" font-size="30" font-weight="bold" fill="#111" text-anchor="middle">40</text>
<line x1="1917.7" y1="1349.3" x2="1917.7" y2="1337.3" stroke="#000" stroke-width="3.2"/>
<line x1="1917.7" y1="769" x2="1917.7" y2="781" stroke="#000" stroke-width="3.2"/>
<text transform="translate(1917.7,1384.8)" font-family="'Liberation Sans', Arial, sans-serif" font-size="30" font-weight="bold" fill="#111" text-anchor="middle">50</text>
<line x1="1269.7" y1="1349.3" x2="1269.7" y2="1343.8" stroke="#000" stroke-width="3.2"/>
<line x1="1269.7" y1="769" x2="1269.7" y2="774.5" stroke="#000" stroke-width="3.2"/>
<line x1="1413.7" y1="1349.3" x2="1413.7" y2="1343.8" stroke="#000" stroke-width="3.2"/>
<line x1="1413.7" y1="769" x2="1413.7" y2="774.5" stroke="#000" stroke-width="3.2"/>
<line x1="1557.7" y1="1349.3" x2="1557.7" y2="1343.8" stroke="#000" stroke-width="3.2"/>
<line x1="1557.7" y1="769" x2="1557.7" y2="774.5" stroke="#000" stroke-width="3.2"/>
<line x1="1701.7" y1="1349.3" x2="1701.7" y2="1343.8" stroke="#000" stroke-width="3.2"/>
<line x1="1701.7" y1="769" x2="1701.7" y2="774.5" stroke="#000" stroke-width="3.2"/>
<line x1="1845.7" y1="1349.3" x2="1845.7" y2="1343.8" stroke="#000" stroke-width="3.2"/>
<line x1="1845.7" y1="769" x2="1845.7" y2="774.5" stroke="#000" stroke-width="3.2"/>
<line x1="1213.3" y1="1102.5" x2="1213.3" y2="1081.9" stroke="#ffb0b0" stroke-width="2"/>
<line x1="1217.7" y1="1102.5" x2="1217.7" y2="1058.7" stroke="#ffb0b0" stroke-width="2"/>
<line x1="1231" y1="1102.5" x2="1231" y2="878" stroke="#ffb0b0" stroke-width="2"/>
<line x1="1246.2" y1="1102.5" x2="1246.2" y2="1053.8" stroke="#ffb0b0" stroke-width="2"/>
<line x1="1248.5" y1="1102.5" x2="1248.5" y2="1056" stroke="#ffb0b0" stroke-width="2"/>
<line x1="1265.8" y1="1102.5" x2="1265.8" y2="1086" stroke="#ffb0b0" stroke-width="2"/>
<line x1="1295.8" y1="1102.5" x2="1295.8" y2="1074" stroke="#ffb0b0" stroke-width="2"/>
<line x1="1306.8" y1="1102.5" x2="1306.8" y2="1087" stroke="#ffb0b0" stroke-width="2"/>
<line x1="1325.1" y1="1102.5" x2="1325.1" y2="879.2" stroke="#ffb0b0" stroke-width="2"/>
<line x1="1336.5" y1="1102.5" x2="1336.5" y2="1090" stroke="#ffb0b0" stroke-width="2"/>
<line x1="1230" y1="1102.5" x2="1230" y2="1094" stroke="#ffb0b0" stroke-width="2"/>
<line x1="1285" y1="1102.5" x2="1285" y2="1090" stroke="#ffb0b0" stroke-width="2"/>
<line x1="1276.3" y1="1102.5" x2="1276.3" y2="1333" stroke="#ffb0b0" stroke-width="2"/>
<line x1="1282" y1="1102.5" x2="1282" y2="1333" stroke="#ffb0b0" stroke-width="2"/>
<line x1="1321" y1="1102.5" x2="1321" y2="1154.8" stroke="#ffb0b0" stroke-width="2"/>
<line x1="1339" y1="1102.5" x2="1339" y2="1110" stroke="#ffb0b0" stroke-width="2"/>
<polygon points="1198.5,1098.9 1200,1099 1201.5,1098.6 1203,1098.8 1204.5,1098.5 1206,1098.7 1207.5,1098.7 1209,1098.7 1210.5,1099.1 1212,1098.6 1213.5,1098.9 1215,1099.1 1216.5,1098.5 1218,1098.8 1219.5,1098.9 1221,1099.2 1222.5,1099.1 1224,1098.9 1225.5,1098.6 1227,1098.9 1228.5,1099.1 1230,1099 1231.5,1099.1 1233,1098.8 1234.5,1098.7 1236,1099 1237.5,1099 1239,1099.3 1240.5,1098.5 1242,1098.9 1243.5,1098.6 1245,1099.1 1246.5,1099 1248,1098.5 1249.5,1098.6 1251,1099.3 1252.5,1098.6 1254,1098.8 1255.5,1099 1257,1098.6 1258.5,1098.5 1260,1099.2 1261.5,1098.9 1263,1098.5 1264.5,1098.8 1266,1098.9 1267.5,1099.3 1269,1099.1 1270.5,1098.8 1272,1099.2 1273.5,1098.8 1275,1099.2 1276.5,1098.9 1278,1099 1279.5,1098.8 1281,1099.1 1282.5,1098.5 1284,1098.6 1285.5,1099.1 1287,1098.5 1288.5,1099.1 1290,1098.9 1291.5,1099 1293,1098.8 1294.5,1099.1 1296,1099 1297.5,1098.8 1299,1098.7 1300.5,1098.9 1302,1098.5 1303.5,1098.6 1305,1099.1 1306.5,1099.1 1308,1098.9 1309.5,1099.1 1311,1098.8 1312.5,1099.2 1314,1099.1 1315.5,1099.2 1317,1099.3 1318.5,1098.6 1320,1098.7 1321.5,1098.6 1323,1099.2 1324.5,1098.7 1326,1098.8 1327.5,1099 1329,1099.2 1330.5,1099.1 1332,1098.5 1333.5,1098.5 1335,1099 1336.5,1098.6 1338,1099.3 1339.5,1099 1341,1099.1 1341,1106.1 1339.5,1106.5 1338,1106.2 1336.5,1106.1 1335,1106.5 1333.5,1106 1332,1105.9 1330.5,1106.1 1329,1105.8 1327.5,1106.1 1326,1106.1 1324.5,1105.8 1323,1106.5 1321.5,1106.1 1320,1106.6 1318.5,1106.5 1317,1106.1 1315.5,1105.8 1314,1106.6 1312.5,1106.1 1311,1106.6 1309.5,1106.1 1308,1105.9 1306.5,1106.6 1305,1106.4 1303.5,1106 1302,1106 1300.5,1106 1299,1106.4 1297.5,1106 1296,1106.1 1294.5,1105.8 1293,1106.5 1291.5,1106 1290,1106.3 1288.5,1105.8 1287,1106.4 1285.5,1106 1284,1106.2 1282.5,1106.3 1281,1106.2 1279.5,1105.8 1278,1106 1276.5,1106.3 1275,1105.9 1273.5,1106.4 1272,1106 1270.5,1106 1269,1106.5 1267.5,1106.4 1266,1106.2 1264.5,1106.4 1263,1106.4 1261.5,1106.3 1260,1105.9 1258.5,1106 1257,1106.5 1255.5,1106.5 1254,1105.8 1252.5,1106.2 1251,1106.4 1249.5,1105.8 1248,1106.5 1246.5,1106.2 1245,1106 1243.5,1106 1242,1106.3 1240.5,1105.9 1239,1106 1237.5,1106.1 1236,1106.2 1234.5,1106.1 1233,1106.5 1231.5,1106 1230,1105.9 1228.5,1105.9 1227,1105.9 1225.5,1106.6 1224,1106 1222.5,1106.5 1221,1105.9 1219.5,1106.1 1218,1106 1216.5,1106 1215,1106.4 1213.5,1106.1 1212,1105.9 1210.5,1105.8 1209,1106.3 1207.5,1106.2 1206,1105.8 1204.5,1106.2 1203,1106.5 1201.5,1106.4 1200,1106.6 1198.5,1106" fill="#ff1010" stroke="none" stroke-width="1"/>
<line x1="1353.5" y1="1104" x2="1353.5" y2="1120.6" stroke="#8cc0e4" stroke-width="2"/>
<line x1="1385.2" y1="1104" x2="1385.2" y2="1162" stroke="#8cc0e4" stroke-width="2"/>
<line x1="1402.3" y1="1104" x2="1402.3" y2="1130.4" stroke="#8cc0e4" stroke-width="2"/>
<line x1="1428.5" y1="1104" x2="1428.5" y2="1118" stroke="#8cc0e4" stroke-width="2"/>
<line x1="1370" y1="1104" x2="1370" y2="1115" stroke="#8cc0e4" stroke-width="2"/>
<line x1="1412" y1="1104" x2="1412" y2="1066.9" stroke="#8cc0e4" stroke-width="2"/>
<line x1="1434" y1="1104" x2="1434" y2="1080.3" stroke="#8cc0e4" stroke-width="2"/>
<line x1="1478" y1="1104" x2="1478" y2="1082.7" stroke="#8cc0e4" stroke-width="2"/>
<line x1="1362.5" y1="1104" x2="1362.5" y2="1098" stroke="#8cc0e4" stroke-width="2"/>
<line x1="1392" y1="1104" x2="1392" y2="1095" stroke="#8cc0e4" stroke-width="2"/>
<line x1="1465" y1="1104" x2="1465" y2="1100" stroke="#8cc0e4" stroke-width="2"/>
<line x1="1455" y1="1104" x2="1455" y2="1108" stroke="#8cc0e4" stroke-width="2"/>
<line x1="1341.5" y1="1104.2" x2="1485.7" y2="1104.2" stroke="#2a86c8" stroke-width="2.8"/>
<line x1="1485.7" y1="1104" x2="1629.7" y2="1104" stroke="#26a640" stroke-width="2.8"/>
<line x1="1629.7" y1="1103.5" x2="1773.7" y2="1103.5" stroke="#ffa54a" stroke-width="3.4"/>
<line x1="1773.7" y1="1104" x2="1916" y2="1104" stroke="#a46ccc" stroke-width="3"/>
<line x1="1341.7" y1="770.5" x2="1341.7" y2="1349.3" stroke="#000" stroke-width="3.8" stroke-dasharray="17 14.1"/>
<line x1="1485.7" y1="770.5" x2="1485.7" y2="1349.3" stroke="#000" stroke-width="3.8" stroke-dasharray="17 14.1"/>
<line x1="1629.7" y1="770.5" x2="1629.7" y2="1349.3" stroke="#000" stroke-width="3.8" stroke-dasharray="17 14.1"/>
<line x1="1773.7" y1="770.5" x2="1773.7" y2="1349.3" stroke="#000" stroke-width="3.8" stroke-dasharray="17 14.1"/>
<text transform="translate(1270.7,837) scale(0.930,1)" font-family="'Liberation Sans', Arial, sans-serif" font-size="50" fill="#1a1a1a" text-anchor="middle">M.O</text>
<text transform="translate(1414.7,837) scale(0.930,1)" font-family="'Liberation Sans', Arial, sans-serif" font-size="50" fill="#1a1a1a" text-anchor="middle">S.O</text>
<text transform="translate(1558.7,837) scale(0.930,1)" font-family="'Liberation Sans', Arial, sans-serif" font-size="50" fill="#1a1a1a" text-anchor="middle">C.O</text>
<text transform="translate(1702.7,837) scale(0.930,1)" font-family="'Liberation Sans', Arial, sans-serif" font-size="50" fill="#1a1a1a" text-anchor="middle">H<tspan font-size="30">2</tspan>O</text>
<text transform="translate(1846.7,837) scale(0.930,1)" font-family="'Liberation Sans', Arial, sans-serif" font-size="50" fill="#1a1a1a" text-anchor="middle">EtOH</text>
<text transform="translate(1557.8,1438)" font-family="'Liberation Sans', Arial, sans-serif" font-size="33" font-weight="bold" fill="#111" text-anchor="middle">Time (s)</text>
<text transform="translate(1105.7,1049.3) rotate(-90)" font-family="'Liberation Sans', Arial, sans-serif" font-size="34.5" font-weight="bold" fill="#111" text-anchor="middle">Current (mA)</text>
<rect x="498.6" y="1510.5" width="368.4" height="555.7" fill="#64aaf0"/>
<polygon points="219.8,1710.3 220.8,1710.3 221.8,1710.7 222.8,1709.8 223.8,1710.9 224.8,1711 225.8,1710 226.8,1711 227.8,1710.7 228.8,1710.3 229.8,1710.2 230.8,1710 231.8,1709.5 232.8,1710 233.8,1706.8 234.8,1709.8 235.8,1706.6 236.8,1710.3 237.8,1710.9 238.8,1710.6 239.8,1709.6 240.8,1710.7 241.8,1709.9 242.8,1710.4 243.8,1710.9 244.8,1710.4 245.8,1709.6 246.8,1709.7 247.8,1709.8 248.8,1709.6 249.8,1709.9 250.8,1711 251.8,1710.7 252.8,1710.4 253.8,1710.2 254.8,1710.9 255.8,1710.7 256.8,1709.7 257.8,1709.8 258.8,1707 259.8,1710.1 260.8,1710.2 261.8,1706.8 262.8,1709.8 263.8,1709.7 264.8,1710.7 265.8,1710.9 266.8,1710.9 267.8,1709.7 268.8,1710.3 269.8,1711.1 270.8,1706.1 271.8,1710 272.8,1711 273.8,1709.8 274.8,1710 275.8,1710.1 276.8,1710.5 277.8,1710.3 278.8,1710.3 279.8,1710.2 280.8,1710.1 281.8,1710.3 282.8,1711 283.8,1710.3 284.8,1710.1 285.8,1709.8 286.8,1710.7 287.8,1710.9 288.8,1710.5 289.8,1710.2 290.8,1710 291.8,1710.6 292.8,1711 293.8,1709.9 294.8,1710.8 295.8,1710.8 296.8,1710.3 297.8,1710 298.8,1707.2 299.8,1710.2 300.8,1706.9 301.8,1711.2 302.8,1707.4 303.8,1710.3 304.8,1709.8 305.8,1710.5 306.8,1710.5 307.8,1710.8 308.8,1710.5 309.8,1710.7 310.8,1711.1 311.8,1711.1 312.8,1709.9 313.8,1709.9 314.8,1710.6 315.8,1710.2 316.8,1710.2 317.8,1709.8 318.8,1710.1 319.8,1710 320.8,1710.6 321.8,1706.7 322.8,1710.1 323.8,1710.1 324.8,1710.5 325.8,1710.3 326.8,1709.9 327.8,1710.5 328.8,1710.3 329.8,1710.5 330.8,1710 331.8,1710 332.8,1710.5 333.8,1710.6 334.8,1709.9 335.8,1710.1 336.8,1706.7 337.8,1709.9 338.8,1710.6 339.8,1710.1 340.8,1710.9 341.8,1710 342.8,1711.3 343.8,1710.3 344.8,1710.4 345.8,1711.2 346.8,1711.1 347.8,1710.8 348.8,1711.1 349.8,1710.4 350.8,1710.4 351.8,1710.3 352.8,1710.9 353.8,1711 354.8,1711.2 355.8,1711 356.8,1710.7 357.8,1710.8 358.8,1711.1 359.8,1709.9 360.8,1710.3 361.8,1708 362.8,1710.6 363.8,1711.2 364.8,1710.1 365.8,1707.3 366.8,1710.3 367.8,1710.6 368.8,1711.4 369.8,1711.1 370.8,1710.8 371.8,1706.8 372.8,1710.4 373.8,1710.8 374.8,1710 375.8,1710.1 376.8,1710.2 377.8,1710.1 378.8,1710.3 379.8,1711.3 380.8,1711.4 381.8,1710.5 382.8,1710.5 383.8,1710.6 384.8,1710 385.8,1710.3 386.8,1710.5 387.8,1707.7 388.8,1711.3 389.8,1710.6 390.8,1710.6 391.8,1706.7 392.8,1711.4 393.8,1710.8 394.8,1706.6 395.8,1710.7 396.8,1711.1 397.8,1711.1 398.8,1711.5 399.8,1711.3 400.8,1710.2 401.8,1710.1 402.8,1710.2 403.8,1710.1 404.8,1710.2 405.8,1710.2 406.8,1711.5 407.8,1707.9 408.8,1711.1 409.8,1711.4 410.8,1710.6 411.8,1710.4 412.8,1711.6 413.8,1710.9 414.8,1710.8 415.8,1710.9 416.8,1711.5 417.8,1707.6 418.8,1711.3 419.8,1708.1 420.8,1711.2 421.8,1711.3 422.8,1711 423.8,1711.9 424.8,1711 425.8,1711.8 426.8,1711.2 427.8,1711.4 428.8,1711.6 429.8,1707.8 430.8,1711.5 431.8,1707.9 432.8,1712.2 433.8,1711.3 434.8,1711.8 435.8,1712.2 436.8,1711 437.8,1711.8 438.8,1712 439.8,1711.2 440.8,1712 441.8,1712 442.8,1711.4 443.8,1711.8 444.8,1711.3 445.8,1711.9 446.8,1711.2 447.8,1712.6 448.8,1712.6 449.8,1711.4 450.8,1712.6 451.8,1712.4 452.8,1712 453.8,1712.3 454.8,1712.1 455.8,1711.8 456.8,1711.7 457.8,1711.7 458.8,1711.5 459.8,1711.9 460.8,1712.4 461.8,1711.6 462.8,1712.8 463.8,1708.3 464.8,1712.1 465.8,1713.1 466.8,1708.7 467.8,1712.9 468.8,1712.3 469.8,1712.8 470.8,1712.8 471.8,1712.6 472.8,1711.9 473.8,1711.9 474.8,1713.3 475.8,1712.8 476.8,1713 477.8,1709.6 478.8,1712.3 479.8,1713.3 480.8,1713.1 481.8,1712.6 482.8,1712.8 483.8,1713.6 484.8,1712.4 485.8,1712.5 486.8,1712.9 487.8,1712.4 488.8,1713.1 489.8,1712.5 490.8,1712.9 491.8,1713.3 492.8,1713.3 493.8,1713.3 494.8,1713.2 495.8,1712.6 496.8,1713.3 497.8,1713 498.8,1712.4 499.8,1713 500.8,1713.1 501.8,1713.4 502.8,1713.7 502.8,1754 501.8,1753.9 500.8,1754.1 499.8,1754.2 498.8,1753.9 497.8,1753.7 496.8,1754 495.8,1753.7 494.8,1755.2 493.8,1753.9 492.8,1754.8 491.8,1753.9 490.8,1755.1 489.8,1754.6 488.8,1754 487.8,1755.1 486.8,1754.8 485.8,1754.6 484.8,1754.4 483.8,1755.2 482.8,1755.2 481.8,1754.4 480.8,1754.8 479.8,1754.6 478.8,1755 477.8,1754.7 476.8,1755.1 475.8,1754.9 474.8,1755.4 473.8,1754.5 472.8,1755.1 471.8,1755.6 470.8,1755.5 469.8,1755.5 468.8,1754.6 467.8,1755.4 466.8,1754.7 465.8,1755.3 464.8,1754.7 463.8,1754.6 462.8,1754.9 461.8,1754.8 460.8,1755.6 459.8,1755.2 458.8,1755.4 457.8,1755.9 456.8,1755.9 455.8,1755.3 454.8,1755.8 453.8,1755.7 452.8,1755.3 451.8,1755.9 450.8,1755.7 449.8,1755.7 448.8,1755.9 447.8,1756 446.8,1756.1 445.8,1755.7 444.8,1755 443.8,1756.1 442.8,1756.2 441.8,1755.8 440.8,1755.6 439.8,1755.6 438.8,1756.5 437.8,1755.5 436.8,1756.5 435.8,1756 434.8,1755.7 433.8,1755.4 432.8,1756.3 431.8,1756.2 430.8,1755.7 429.8,1756.1 428.8,1755.4 427.8,1756.7 426.8,1755.8 425.8,1755.9 424.8,1756 423.8,1756.4 422.8,1755.6 421.8,1756 420.8,1756.1 419.8,1756.5 418.8,1755.7 417.8,1756 416.8,1757 415.8,1755.9 414.8,1756.5 413.8,1756.1 412.8,1756.9 411.8,1756.1 410.8,1757.2 409.8,1756.4 408.8,1756.5 407.8,1756 406.8,1756.5 405.8,1756.8 404.8,1756.6 403.8,1756.7 402.8,1756.6 401.8,1756.1 400.8,1756.1 399.8,1756.6 398.8,1756.1 397.8,1756.5 396.8,1756.8 395.8,1756.6 394.8,1756.6 393.8,1756.8 392.8,1756.3 391.8,1757.2 390.8,1757 389.8,1757.5 388.8,1757.4 387.8,1756.6 386.8,1756.4 385.8,1756.1 384.8,1757.1 383.8,1756.6 382.8,1757 381.8,1757.5 380.8,1757 379.8,1756.8 378.8,1757.1 377.8,1757.2 376.8,1757.4 375.8,1757.2 374.8,1756.5 373.8,1756.8 372.8,1757 371.8,1757.3 370.8,1756.3 369.8,1757.2 368.8,1757.4 367.8,1757 366.8,1756.8 365.8,1756.8 364.8,1757.5 363.8,1756.4 362.8,1757 361.8,1756.2 360.8,1757.1 359.8,1756.9 358.8,1757.5 357.8,1756.1 356.8,1756.3 355.8,1757.4 354.8,1757.2 353.8,1757.5 352.8,1757.5 351.8,1757.5 350.8,1756.5 349.8,1757.4 348.8,1757.1 347.8,1756.9 346.8,1756.8 345.8,1756.5 344.8,1757.2 343.8,1756.7 342.8,1756.5 341.8,1757.3 340.8,1757.1 339.8,1756.9 338.8,1756.8 337.8,1756.6 336.8,1756.8 335.8,1756.9 334.8,1756.8 333.8,1756.2 332.8,1757 331.8,1757 330.8,1756.5 329.8,1756.8 328.8,1757.5 327.8,1757.3 326.8,1756.5 325.8,1756.9 324.8,1757.5 323.8,1756.4 322.8,1756.7 321.8,1756.3 320.8,1757.4 319.8,1756.3 318.8,1757.6 317.8,1757 316.8,1757.6 315.8,1757.2 314.8,1756.5 313.8,1757.7 312.8,1757.1 311.8,1757.2 310.8,1757.3 309.8,1757.6 308.8,1757.4 307.8,1757.3 306.8,1756.5 305.8,1756.3 304.8,1756.6 303.8,1757.5 302.8,1756.9 301.8,1756.6 300.8,1757 299.8,1756.7 298.8,1756.3 297.8,1757 296.8,1756.8 295.8,1756.9 294.8,1757 293.8,1757.7 292.8,1757.6 291.8,1756.8 290.8,1757.6 289.8,1757 288.8,1756.8 287.8,1757.3 286.8,1756.6 285.8,1756.3 284.8,1757.2 283.8,1756.7 282.8,1756.4 281.8,1757.6 280.8,1757.4 279.8,1757.7 278.8,1756.5 277.8,1756.9 276.8,1757.6 275.8,1757.7 274.8,1756.9 273.8,1757.4 272.8,1757.5 271.8,1757.9 270.8,1757.1 269.8,1757.4 268.8,1756.4 267.8,1757.4 266.8,1757.7 265.8,1757.2 264.8,1756.5 263.8,1756.4 262.8,1756.8 261.8,1757.2 260.8,1756.6 259.8,1757.6 258.8,1756.7 257.8,1757 256.8,1757.8 255.8,1757.5 254.8,1757.6 253.8,1756.7 252.8,1757.1 251.8,1757 250.8,1757.3 249.8,1756.9 248.8,1756.8 247.8,1756.6 246.8,1757 245.8,1756.9 244.8,1756.8 243.8,1756.6 242.8,1757.5 241.8,1757.3 240.8,1756.5 239.8,1756.6 238.8,1756.9 237.8,1757.6 236.8,1757 235.8,1757.8 234.8,1757.9 233.8,1757.1 232.8,1756.8 231.8,1757.7 230.8,1756.9 229.8,1757.2 228.8,1757.7 227.8,1756.5 226.8,1756.6 225.8,1756.7 224.8,1757.9 223.8,1757.5 222.8,1756.9 221.8,1757.4 220.8,1757.4 219.8,1757.9" fill="#000" stroke="none" stroke-width="1"/>
<polygon points="503.5,1645.2 504.3,1644.8 505.1,1634.7 505.9,1642.6 506.7,1636 507.5,1640.2 508.3,1638.4 509.1,1637.4 509.9,1636.4 510.7,1635.5 511.5,1633.5 512.3,1626.6 513.1,1625 513.9,1630 514.7,1629.3 515.5,1627.8 516.3,1626.9 517.1,1625.4 517.9,1624.5 518.7,1618.1 519.5,1621.7 520.3,1620.8 521.1,1608.3 521.9,1619 522.7,1618.1 523.5,1607.2 524.3,1608.6 525.1,1616.6 525.9,1604.2 526.7,1614.9 527.5,1614.1 528.3,1608.6 529.1,1613.3 529.9,1612.5 530.7,1611.6 531.5,1611.3 532.3,1609.9 533.1,1609.6 533.9,1608.7 534.7,1607.8 535.5,1607.6 536.3,1606.5 537.1,1606.2 537.9,1605.8 538.7,1604.6 539.5,1604.3 540.3,1603.7 541.1,1593.6 541.9,1602.3 542.7,1590.4 543.5,1600.6 544.3,1590.1 545.1,1588.9 545.9,1598.6 546.7,1598.2 547.5,1597.7 548.3,1597 549.1,1585.7 549.9,1596 550.7,1589.9 551.5,1584.3 552.3,1583.8 553.1,1594.5 553.9,1589.6 554.7,1593.5 555.5,1583.5 556.3,1587.5 557.1,1587.3 557.9,1591.5 558.7,1591.1 559.5,1591 560.3,1590.2 561.1,1590.2 561.9,1589.4 562.7,1588.9 563.5,1582.7 564.3,1588.3 565.1,1587.9 565.9,1587.6 566.7,1586.9 567.5,1586.6 568.3,1586 569.1,1585.4 569.9,1584.9 570.7,1584.8 571.5,1577.1 572.3,1583.5 573.1,1575 573.9,1583.2 574.7,1582.4 575.5,1575 576.3,1581.9 577.1,1582 577.9,1581.3 578.7,1581.3 579.5,1580.9 580.3,1580.7 581.1,1574.7 581.9,1579.8 582.7,1580 583.5,1579.6 584.3,1579.1 585.1,1579.1 585.9,1567.9 586.7,1578.4 587.5,1566.4 588.3,1572.2 589.1,1577.6 589.9,1577.3 590.7,1570.2 591.5,1576.9 592.3,1576 593.1,1576.1 593.9,1575.8 594.7,1567.6 595.5,1568.2 596.3,1575 597.1,1567.9 597.9,1574.2 598.7,1569.1 599.5,1573.5 600.3,1562.2 601.1,1573 601.9,1573.4 602.7,1573.2 603.5,1572.4 604.3,1569.1 605.1,1566.3 605.9,1562.6 606.7,1571.6 607.5,1571.9 608.3,1571.5 609.1,1571.4 609.9,1568 610.7,1570.8 611.5,1570.8 612.3,1570.7 613.1,1569.9 613.9,1563.1 614.7,1570.2 615.5,1569.6 616.3,1569.5 617.1,1565.3 617.9,1560.8 618.7,1568.8 619.5,1568.7 620.3,1561 621.1,1568.2 621.9,1568.4 622.7,1567.8 623.5,1567.9 624.3,1567.1 625.1,1566.9 625.9,1566.9 626.7,1567 627.5,1566.7 628.3,1566.7 629.1,1566.4 629.9,1557.2 630.7,1566.4 631.5,1566 632.3,1565.6 633.1,1565.2 633.9,1565.4 634.7,1565 635.5,1564.6 636.3,1564.7 637.1,1564.8 637.9,1559.2 638.7,1564.6 639.5,1560.6 640.3,1564.3 641.1,1553.1 641.9,1564.1 642.7,1563.3 643.5,1563.6 644.3,1563.4 645.1,1562.8 645.9,1562.7 646.7,1556.1 647.5,1559.7 648.3,1562.1 649.1,1562.1 649.9,1562.2 650.7,1562.3 651.5,1562.1 652.3,1555.3 653.1,1561.4 653.9,1561.5 654.7,1561.3 655.5,1560.8 656.3,1560.8 657.1,1557.2 657.9,1561 658.7,1552.8 659.5,1560.5 660.3,1560.6 661.1,1549.8 661.9,1553.4 662.7,1560.6 663.5,1560.3 664.3,1560.5 665.1,1560 665.9,1559.7 666.7,1559.6 667.5,1556.1 668.3,1559.9 669.1,1554.8 669.9,1560 670.7,1559.3 671.5,1559.2 672.3,1547.4 673.1,1559.1 673.9,1559.6 674.7,1559.2 675.5,1558.8 676.3,1559.1 677.1,1553 677.9,1559 678.7,1554.6 679.5,1558.8 680.3,1558.5 681.1,1558.4 681.9,1558.1 682.7,1558.7 683.5,1551.3 684.3,1558.5 685.1,1557.9 685.9,1558.3 686.7,1558.1 687.5,1558.4 688.3,1557.8 689.1,1547.5 689.9,1558 690.7,1549.7 691.5,1549.3 692.3,1557.8 693.1,1558.1 693.9,1557.6 694.7,1557.4 695.5,1558 696.3,1557.9 697.1,1557.3 697.9,1557.6 698.7,1557.3 699.5,1557.3 700.3,1557.2 701.1,1557.3 701.9,1557.2 702.7,1557.1 703.5,1557.3 704.3,1557.6 705.1,1557.6 705.9,1557 706.7,1557.3 707.5,1556.8 708.3,1557.3 709.1,1556.9 709.9,1557.2 710.7,1557.2 711.5,1557 712.3,1557.4 713.1,1557.4 713.9,1557 714.7,1556.7 715.5,1557.2 716.3,1557.4 717.1,1556.8 717.9,1557.1 718.7,1556.9 719.5,1557.3 720.3,1556.8 721.1,1556.8 721.9,1557 722.7,1557.2 723.5,1556.7 724.3,1557 725.1,1557.4 725.9,1557.2 726.7,1556.8 727.5,1557.4 728.3,1557.2 729.1,1557 729.9,1556.7 730.7,1557.1 731.5,1557.2 732.3,1556.7 733.1,1557.2 733.9,1556.9 734.7,1557.1 735.5,1557.3 736.3,1557.2 737.1,1556.9 737.9,1557 738.7,1557.3 739.5,1556.9 740.3,1557.5 741.1,1556.8 741.9,1557.1 742.7,1556.9 743.5,1557.4 744.3,1557.4 745.1,1556.9 745.9,1557.5 746.7,1557.1 747.5,1557.4 748.3,1556.7 749.1,1557 749.9,1557.2 750.7,1556.8 751.5,1557.4 752.3,1557.4 753.1,1557 753.9,1557.2 754.7,1557.4 755.5,1557.1 756.3,1556.7 757.1,1556.8 757.9,1556.9 758.7,1557.2 759.5,1557.2 760.3,1556.8 761.1,1557.1 761.9,1557.4 762.7,1557.1 763.5,1557.1 764.3,1556.7 765.1,1556.7 765.9,1557.2 766.7,1557 767.5,1557.1 768.3,1557.4 769.1,1556.9 769.9,1557.2 770.7,1557.4 771.5,1557.2 772.3,1556.9 773.1,1556.9 773.9,1557.1 774.7,1557.5 775.5,1557 776.3,1557.2 777.1,1556.8 777.9,1557.1 778.7,1557.1 779.5,1557.2 780.3,1557.4 781.1,1557.1 781.9,1557.3 782.7,1556.8 783.5,1557.1 784.3,1556.8 785.1,1557.2 785.9,1556.8 786.7,1557.2 787.5,1556.9 788.3,1557.3 789.1,1557.2 789.9,1557.2 790.7,1557.2 791.5,1556.7 792.3,1557.3 793.1,1557 793.9,1556.8 794.7,1557.2 795.5,1556.7 796.3,1557.1 797.1,1557.4 797.9,1557.5 798.7,1557.1 799.5,1556.7 800.3,1557.4 801.1,1557.3 801.9,1557.4 802.7,1556.8 803.5,1557.2 804.3,1557.3 805.1,1557.3 805.9,1557.1 806.7,1557.3 807.5,1557.3 808.3,1557.1 809.1,1556.8 809.9,1557.1 810.7,1557 811.5,1557.3 812.3,1557.2 813.1,1557.1 813.9,1556.7 814.7,1557.2 815.5,1557.4 816.3,1557.4 817.1,1557 817.9,1557.3 818.7,1557 819.5,1557 820.3,1556.8 821.1,1557.4 821.9,1557.1 822.7,1557.3 823.5,1557.1 824.3,1557.1 825.1,1557.4 825.9,1556.9 826.7,1556.7 827.5,1556.8 828.3,1557 829.1,1557 829.9,1557.1 830.7,1557.4 831.5,1557.5 832.3,1556.9 833.1,1556.9 833.9,1557.4 834.7,1556.8 835.5,1557.2 836.3,1557.3 837.1,1557.2 837.9,1557.3 838.7,1557.4 839.5,1556.9 840.3,1557 841.1,1557.3 841.9,1557.3 842.7,1556.9 843.5,1557.1 844.3,1557.3 845.1,1556.7 845.9,1556.8 846.7,1557.4 847.5,1557.2 848.3,1557.3 849.1,1557.1 849.9,1557.1 850.7,1556.8 851.5,1556.8 852.3,1557.2 853.1,1556.9 853.9,1557.4 854.7,1556.9 855.5,1557.2 856.3,1556.7 857.1,1557.2 857.9,1557.4 858.7,1557.1 859.5,1557.1 860.3,1557.3 861.1,1556.9 861.9,1557.4 862.7,1557.3 863.5,1557.1 864.3,1557.1 864.3,1907.4 863.5,1907.3 862.7,1907.4 861.9,1907.1 861.1,1907 860.3,1906.8 859.5,1906.6 858.7,1907.1 857.9,1906.9 857.1,1906.7 856.3,1906.6 855.5,1906.6 854.7,1906.8 853.9,1907.1 853.1,1906.5 852.3,1906.5 851.5,1907.1 850.7,1906.5 849.9,1906.3 849.1,1906.3 848.3,1906.8 847.5,1906.5 846.7,1906.8 845.9,1906.5 845.1,1906.4 844.3,1906.4 843.5,1906.7 842.7,1906.7 841.9,1906.3 841.1,1906.2 840.3,1906.4 839.5,1906.2 838.7,1906.3 837.9,1906.1 837.1,1906.3 836.3,1906.3 835.5,1906.5 834.7,1906.1 833.9,1906.6 833.1,1905.8 832.3,1906.2 831.5,1906.4 830.7,1906.5 829.9,1905.7 829.1,1905.7 828.3,1906.1 827.5,1906 826.7,1906.3 825.9,1906.4 825.1,1905.8 824.3,1906 823.5,1905.9 822.7,1905.8 821.9,1905.9 821.1,1905.6 820.3,1905.8 819.5,1905.9 818.7,1905.4 817.9,1905.4 817.1,1906.1 816.3,1905.4 815.5,1905.8 814.7,1906 813.9,1905.7 813.1,1905.7 812.3,1905.3 811.5,1905.8 810.7,1905.7 809.9,1905.4 809.1,1905.5 808.3,1905.1 807.5,1905.1 806.7,1905.2 805.9,1905 805.1,1904.8 804.3,1905.3 803.5,1905.3 802.7,1905.2 801.9,1905.1 801.1,1905.1 800.3,1904.7 799.5,1905.1 798.7,1904.6 797.9,1904.9 797.1,1905.1 796.3,1904.9 795.5,1904.7 794.7,1904.7 793.9,1904.8 793.1,1904.2 792.3,1904.7 791.5,1904.7 790.7,1904.5 789.9,1904.7 789.1,1904.4 788.3,1904.1 787.5,1904.4 786.7,1904 785.9,1904.4 785.1,1904.3 784.3,1903.8 783.5,1903.8 782.7,1904 781.9,1904.1 781.1,1903.7 780.3,1904.1 779.5,1903.6 778.7,1903.5 777.9,1903.7 777.1,1904 776.3,1904.1 775.5,1903.9 774.7,1903.8 773.9,1903.7 773.1,1903.7 772.3,1903.2 771.5,1903.7 770.7,1903.7 769.9,1903.5 769.1,1903.6 768.3,1903.1 767.5,1902.9 766.7,1903.2 765.9,1903.3 765.1,1903.2 764.3,1903.2 763.5,1903 762.7,1903.2 761.9,1902.8 761.1,1902.7 760.3,1902.8 759.5,1902.4 758.7,1902.5 757.9,1902.5 757.1,1902.3 756.3,1902.4 755.5,1902.6 754.7,1902.1 753.9,1902 753.1,1901.7 752.3,1902.4 751.5,1901.6 750.7,1902 749.9,1901.5 749.1,1902.1 748.3,1901.6 747.5,1901.3 746.7,1901.8 745.9,1901.4 745.1,1901.3 744.3,1901.1 743.5,1900.9 742.7,1901.1 741.9,1900.7 741.1,1900.8 740.3,1901.2 739.5,1900.8 738.7,1900.9 737.9,1900.8 737.1,1900.3 736.3,1900.4 735.5,1900.2 734.7,1900.4 733.9,1899.7 733.1,1900 732.3,1900.2 731.5,1899.7 730.7,1899.4 729.9,1899.4 729.1,1899.4 728.3,1899.1 727.5,1898.5 726.7,1898.7 725.9,1898.7 725.1,1898.1 724.3,1898.1 723.5,1898.1 722.7,1897.8 721.9,1897.3 721.1,1897.7 720.3,1897.3 719.5,1897 718.7,1897.1 717.9,1896.7 717.1,1896.7 716.3,1896.5 715.5,1896.3 714.7,1896.4 713.9,1895.8 713.1,1896.3 712.3,1895.7 711.5,1895.3 710.7,1895.2 709.9,1895.1 709.1,1895.2 708.3,1895.2 707.5,1895.2 706.7,1894.7 705.9,1894.2 705.1,1894.6 704.3,1893.8 703.5,1894.2 702.7,1894 701.9,1893.4 701.1,1893.5 700.3,1893.2 699.5,1893.2 698.7,1892.8 697.9,1892.5 697.1,1892.9 696.3,1892.6 695.5,1892.4 694.7,1892.5 693.9,1892.2 693.1,1892.3 692.3,1892.1 691.5,1891.5 690.7,1891.5 689.9,1891.2 689.1,1891.2 688.3,1890.9 687.5,1891.1 686.7,1890.7 685.9,1890.1 685.1,1890 684.3,1890.2 683.5,1890.1 682.7,1889.7 681.9,1889.8 681.1,1889.2 680.3,1889 679.5,1888.5 678.7,1888.4 677.9,1888.5 677.1,1888.4 676.3,1888.3 675.5,1887.8 674.7,1887.6 673.9,1887 673.1,1887.3 672.3,1886.7 671.5,1886.7 670.7,1886.2 669.9,1886.3 669.1,1886.1 668.3,1885.4 667.5,1885 666.7,1884.8 665.9,1884.8 665.1,1884.9 664.3,1884.5 663.5,1884 662.7,1883.8 661.9,1884 661.1,1883.2 660.3,1882.9 659.5,1882.7 658.7,1882.4 657.9,1882.1 657.1,1882.5 656.3,1882.2 655.5,1881.6 654.7,1881.5 653.9,1881.5 653.1,1880.9 652.3,1880.3 651.5,1880.7 650.7,1879.9 649.9,1880.4 649.1,1879.9 648.3,1879.2 647.5,1879.3 646.7,1879.2 645.9,1879.1 645.1,1878.5 644.3,1878.6 643.5,1877.9 642.7,1878 641.9,1877.6 641.1,1877.6 640.3,1877.3 639.5,1877 638.7,1876.3 637.9,1876.2 637.1,1876.3 636.3,1876 635.5,1875.4 634.7,1875.6 633.9,1875 633.1,1874.8 632.3,1874.7 631.5,1874.6 630.7,1874.1 629.9,1873.8 629.1,1873.5 628.3,1873.3 627.5,1872.9 626.7,1873.3 625.9,1872.7 625.1,1872.6 624.3,1872.4 623.5,1872.1 622.7,1872 621.9,1871.9 621.1,1871.1 620.3,1871.2 619.5,1870.5 618.7,1870.2 617.9,1870.5 617.1,1870 616.3,1869.6 615.5,1869.4 614.7,1869.3 613.9,1869.1 613.1,1868.7 612.3,1868.8 611.5,1868.8 610.7,1868.6 609.9,1868.1 609.1,1867.6 608.3,1867.8 607.5,1867.5 606.7,1866.8 605.9,1866.6 605.1,1866.5 604.3,1866 603.5,1865.7 602.7,1865.7 601.9,1865.5 601.1,1865.7 600.3,1864.8 599.5,1864.4 598.7,1864.1 597.9,1863.6 597.1,1863 596.3,1863.1 595.5,1862.4 594.7,1861.9 593.9,1861.6 593.1,1861.7 592.3,1861.3 591.5,1860.8 590.7,1860.4 589.9,1860.5 589.1,1860.6 588.3,1860.3 587.5,1860.5 586.7,1860.3 585.9,1860.2 585.1,1860.7 584.3,1861 583.5,1860.3 582.7,1860.6 581.9,1861 581.1,1860.6 580.3,1860.6 579.5,1861 578.7,1860.7 577.9,1860.9 577.1,1861.2 576.3,1861.5 575.5,1861.3 574.7,1861.1 573.9,1861.4 573.1,1860.9 572.3,1860.3 571.5,1860.4 570.7,1859.5 569.9,1859.8 569.1,1859.3 568.3,1858.9 567.5,1858.5 566.7,1858 565.9,1857.8 565.1,1857.7 564.3,1856.9 563.5,1856.7 562.7,1856 561.9,1855.5 561.1,1855.4 560.3,1855.2 559.5,1855.1 558.7,1854.5 557.9,1853.9 557.1,1853.5 556.3,1853.1 555.5,1853.3 554.7,1852.9 553.9,1852.4 553.1,1851.6 552.3,1851.9 551.5,1851 550.7,1851.1 549.9,1850.8 549.1,1849.9 548.3,1849.8 547.5,1849.6 546.7,1848.8 545.9,1848.1 545.1,1847.7 544.3,1847.6 543.5,1847.1 542.7,1847.1 541.9,1846.2 541.1,1845.8 540.3,1845.4 539.5,1844.6 538.7,1844.7 537.9,1844.4 537.1,1843.5 536.3,1843.2 535.5,1842.8 534.7,1842.6 533.9,1841.8 533.1,1841.6 532.3,1840.9 531.5,1840.2 530.7,1840.2 529.9,1839.4 529.1,1839.2 528.3,1838.7 527.5,1838.4 526.7,1838 525.9,1837.8 525.1,1836.6 524.3,1836.8 523.5,1835.9 522.7,1835.9 521.9,1835 521.1,1834.8 520.3,1834 519.5,1834 518.7,1833.1 517.9,1832.6 517.1,1832.1 516.3,1831.7 515.5,1830.7 514.7,1830.4 513.9,1829.6 513.1,1828.9 512.3,1828.1 511.5,1827.8 510.7,1827.2 509.9,1826.4 509.1,1825.1 508.3,1823 507.5,1820.9 506.7,1819.1 505.9,1817.8 505.1,1815.9 504.3,1813.7 503.5,1812.6" fill="#000" stroke="none" stroke-width="1"/>
<line x1="755.6" y1="1905" x2="755.6" y2="1914.5" stroke="#000" stroke-width="1.5"/>
<polyline points="219.2,1950.1 221.7,1948.8 224.2,1951 226.7,1951 229.2,1951 231.7,1951.9 234.2,1952.6 236.7,1954.4 239.2,1953.6 241.7,1953.4 244.2,1954.1 246.7,1955.4 249.2,1955 251.7,1955.6 254.2,1955.4 256.7,1954.8 259.2,1954 261.7,1954.1 264.2,1953.1 266.7,1953.1 269.2,1953.4 271.7,1952.4 274.2,1952.2 276.7,1952 279.2,1950.6 281.7,1949.8 284.2,1950.1 286.7,1948.6 289.2,1947.4 291.7,1946.9 294.2,1945.9 296.7,1944.8 299.2,1945.1 301.7,1943 304.2,1943.6 306.7,1942.7 309.2,1942 311.7,1939.8 314.2,1939.7 316.7,1939.9 319.2,1937.8 321.7,1936.8 324.2,1937.2 326.7,1935.4 329.2,1935.4 331.7,1933.9 334.2,1934.9 336.7,1932.9 339.2,1931.9 341.7,1932.5 344.2,1931.2 346.7,1931 349.2,1930.2 351.7,1930.5 354.2,1929 356.7,1928.1 359.2,1926.8 361.7,1927.1 364.2,1926 366.7,1926 369.2,1925.5 371.7,1924.6 374.2,1923.3 376.7,1923.6 379.2,1923.1 381.7,1922.9 384.2,1923.1 386.7,1921.2 389.2,1921 391.7,1919.8 394.2,1920.7 396.7,1919.1 399.2,1919.8 401.7,1919.2 404.2,1917.6 406.7,1918.4 409.2,1917.1 411.7,1916.5 414.2,1916.3 416.7,1916.8 419.2,1915.6 421.7,1915.4 424.2,1914.7 426.7,1915.6 429.2,1914.7 431.7,1914.1 434.2,1913.6 436.7,1913.4 439.2,1914.4 441.7,1914.1 444.2,1914.2 446.7,1913.8 449.2,1913.1 451.7,1913.1 454.2,1912.6 456.7,1912.6 459.2,1912 461.7,1910.2 464.2,1910.9 466.7,1909.4 469.2,1908.7 471.7,1909.5 474.2,1907.2 476.7,1907.6 479.2,1906.7 481.7,1907 484.2,1906.1 486.7,1906.1 489.2,1905.5 491.7,1904.4 494.2,1902.6 494.9,1903.4 494.9,1985.9 497,1986.3 499.5,1985.2 502,1987 504.5,1986.9 507,1985.8 509.5,1985.6 512,1986.7 514.5,1986.9 517,1987.4 519.5,1986.7 522,1985.8 524.5,1987 527,1985.8 529.5,1987.4 532,1987.3 534.5,1987.1 537,1986.6 539.5,1985.4 542,1985.5 544.5,1985.1 547,1985 549.5,1985 552,1985.2 554.5,1984.7 557,1985.2 559.5,1986.7 562,1985.8 564.5,1986.8 567,1987.3 569.5,1987.3 572,1987.2 574.5,1986.9 577,1987 579.5,1986.9 582,1988 584.5,1988.2 587,1988.9 589.5,1987.8 592,1989.2 594.5,1989.3 597,1988.2 599.5,1989.7 602,1989.2 604.5,1990.1 607,1989.9 609.5,1989.3 612,1989.4 614.5,1990.1 617,1990.2 619.5,1989.6 622,1991.4 624.5,1991 627,1987.7 629.5,1983.8 632,1982.5 634.5,1982.1 637,1982.5 639.5,1981.5 642,1981.4 644.5,1980.6 647,1980.2 649.5,1980.5 652,1980.5 654.5,1981 657,1980.1 659.5,1979.4 662,1979 664.5,1978.4 667,1978.5 669.5,1979.2 672,1977.6 674.5,1978.5 677,1979.3 679.5,1979.7 682,1979.5 684.5,1979.9 687,1980.8 689.5,1981 692,1979.9 694.5,1980.7 697,1981.9 699.5,1981.2 702,1980.8 704.5,1982.2 707,1981 709.5,1981.5 712,1982.5 714.5,1982.2 717,1983.3 719.5,1983.5 722,1982.9 724.5,1984 727,1983.9 729.5,1984.2 732,1983.9 734.5,1984.1 737,1983.6 739.5,1984.6 742,1985.7 744.5,1985.8 747,1984.3 749.5,1984.6 752,1985.2 754.5,1986.2 757,1985.8 759.5,1985.2 762,1985.9 764.5,1986.2 767,1986.6 769.5,1986 772,1986.5 774.5,1986.7 777,1986.6 779.5,1985.5 782,1986.9 784.5,1985.8 787,1985.7 789.5,1986.6 792,1985.7 794.5,1985.9 797,1986.6 799.5,1986.7 802,1985.9 804.5,1987.5 807,1987.2 809.5,1986.3 812,1986.4 814.5,1985.8 817,1987 819.5,1985.2 822,1985.5 824.5,1985.2 827,1986.4 829.5,1985.6 832,1985.3 834.5,1985.2 837,1986 839.5,1984.7 842,1985.7 844.5,1985.4 847,1984.8 849.5,1984.5 852,1984.5" fill="none" stroke="#ff1a1a" stroke-width="3" stroke-linejoin="round"/>
<line x1="189.2" y1="2067" x2="199.2" y2="2067" stroke="#000" stroke-width="4"/>
<line x1="189.2" y1="1956" x2="199.2" y2="1956" stroke="#000" stroke-width="4"/>
<line x1="189.2" y1="1844.9" x2="199.2" y2="1844.9" stroke="#000" stroke-width="4"/>
<line x1="189.2" y1="1733.9" x2="199.2" y2="1733.9" stroke="#000" stroke-width="4"/>
<line x1="189.2" y1="1622.9" x2="199.2" y2="1622.9" stroke="#000" stroke-width="4"/>
<line x1="189.2" y1="1511.8" x2="199.2" y2="1511.8" stroke="#000" stroke-width="4"/>
<line x1="189.2" y1="2011.5" x2="193.7" y2="2011.5" stroke="#000" stroke-width="3.2"/>
<line x1="189.2" y1="1900.5" x2="193.7" y2="1900.5" stroke="#000" stroke-width="3.2"/>
<line x1="189.2" y1="1789.4" x2="193.7" y2="1789.4" stroke="#000" stroke-width="3.2"/>
<line x1="189.2" y1="1678.4" x2="193.7" y2="1678.4" stroke="#000" stroke-width="3.2"/>
<line x1="189.2" y1="1567.3" x2="193.7" y2="1567.3" stroke="#000" stroke-width="3.2"/>
<line x1="219.2" y1="2066.2" x2="219.2" y2="2056.2" stroke="#000" stroke-width="4"/>
<line x1="338.9" y1="2066.2" x2="338.9" y2="2056.2" stroke="#000" stroke-width="4"/>
<line x1="458.5" y1="2066.2" x2="458.5" y2="2056.2" stroke="#000" stroke-width="4"/>
<line x1="578.2" y1="2066.2" x2="578.2" y2="2056.2" stroke="#000" stroke-width="4"/>
<line x1="697.8" y1="2066.2" x2="697.8" y2="2056.2" stroke="#000" stroke-width="4"/>
<line x1="817.5" y1="2066.2" x2="817.5" y2="2056.2" stroke="#000" stroke-width="4"/>
<line x1="279" y1="2066.2" x2="279" y2="2061.7" stroke="#000" stroke-width="3.2"/>
<line x1="398.7" y1="2066.2" x2="398.7" y2="2061.7" stroke="#000" stroke-width="3.2"/>
<line x1="518.4" y1="2066.2" x2="518.4" y2="2061.7" stroke="#000" stroke-width="3.2"/>
<line x1="638" y1="2066.2" x2="638" y2="2061.7" stroke="#000" stroke-width="3.2"/>
<line x1="757.7" y1="2066.2" x2="757.7" y2="2061.7" stroke="#000" stroke-width="3.2"/>
<line x1="878.8" y1="2005.5" x2="868.8" y2="2005.5" stroke="#ff0000" stroke-width="4"/>
<line x1="878.8" y1="1906.5" x2="868.8" y2="1906.5" stroke="#ff0000" stroke-width="4"/>
<line x1="878.8" y1="1807.5" x2="868.8" y2="1807.5" stroke="#ff0000" stroke-width="4"/>
<line x1="878.8" y1="1708.5" x2="868.8" y2="1708.5" stroke="#ff0000" stroke-width="4"/>
<line x1="878.8" y1="1609.5" x2="868.8" y2="1609.5" stroke="#ff0000" stroke-width="4"/>
<line x1="878.8" y1="1510.5" x2="868.8" y2="1510.5" stroke="#ff0000" stroke-width="4"/>
<line x1="878.8" y1="1956" x2="874.3" y2="1956" stroke="#ff0000" stroke-width="3.2"/>
<line x1="878.8" y1="1857" x2="874.3" y2="1857" stroke="#ff0000" stroke-width="3.2"/>
<line x1="878.8" y1="1758" x2="874.3" y2="1758" stroke="#ff0000" stroke-width="3.2"/>
<line x1="878.8" y1="1659" x2="874.3" y2="1659" stroke="#ff0000" stroke-width="3.2"/>
<line x1="878.8" y1="1560" x2="874.3" y2="1560" stroke="#ff0000" stroke-width="3.2"/>
<line x1="878.8" y1="2055" x2="874.3" y2="2055" stroke="#ff0000" stroke-width="3.2"/>
<line x1="189.2" y1="1510.5" x2="867.8" y2="1510.5" stroke="#000" stroke-width="5.6"/>
<line x1="189.2" y1="2066.2" x2="867.8" y2="2066.2" stroke="#000" stroke-width="5.6"/>
<line x1="867.8" y1="1510.5" x2="878.8" y2="1510.5" stroke="#ff0000" stroke-width="5.6"/>
<line x1="867.8" y1="2066.2" x2="878.8" y2="2066.2" stroke="#ff0000" stroke-width="5.6"/>
<line x1="189.2" y1="1507.7" x2="189.2" y2="2069" stroke="#000" stroke-width="5.6"/>
<line x1="878.8" y1="1507.7" x2="878.8" y2="2069" stroke="#ff0000" stroke-width="5.6"/>
<text transform="translate(176.5,2079.8)" font-family="'Liberation Serif', 'Times New Roman', serif" font-size="46" fill="#111" text-anchor="end">-12</text>
<text transform="translate(176.5,1968.8)" font-family="'Liberation Serif', 'Times New Roman', serif" font-size="46" fill="#111" text-anchor="end">-8</text>
<text transform="translate(176.5,1857.7)" font-family="'Liberation Serif', 'Times New Roman', serif" font-size="46" fill="#111" text-anchor="end">-4</text>
<text transform="translate(176.5,1746.7)" font-family="'Liberation Serif', 'Times New Roman', serif" font-size="46" fill="#111" text-anchor="end">0</text>
<text transform="translate(176.5,1635.7)" font-family="'Liberation Serif', 'Times New Roman', serif" font-size="46" fill="#111" text-anchor="end">4</text>
<text transform="translate(176.5,1524.6)" font-family="'Liberation Serif', 'Times New Roman', serif" font-size="46" fill="#111" text-anchor="end">8</text>
<text transform="translate(219.2,2115)" font-family="'Liberation Serif', 'Times New Roman', serif" font-size="46" fill="#111" text-anchor="middle">0</text>
<text transform="translate(338.9,2115)" font-family="'Liberation Serif', 'Times New Roman', serif" font-size="46" fill="#111" text-anchor="middle">200</text>
<text transform="translate(458.5,2115)" font-family="'Liberation Serif', 'Times New Roman', serif" font-size="46" fill="#111" text-anchor="middle">400</text>
<text transform="translate(578.2,2115)" font-family="'Liberation Serif', 'Times New Roman', serif" font-size="46" fill="#111" text-anchor="middle">600</text>
<text transform="translate(697.8,2115)" font-family="'Liberation Serif', 'Times New Roman', serif" font-size="46" fill="#111" text-anchor="middle">800</text>
<text transform="translate(817.5,2115)" font-family="'Liberation Serif', 'Times New Roman', serif" font-size="46" fill="#111" text-anchor="middle">1000</text>
<text transform="translate(891.5,2018.3)" font-family="'Liberation Serif', 'Times New Roman', serif" font-size="46" fill="#ff0000" text-anchor="start">0.05</text>
<text transform="translate(891.5,1919.3)" font-family="'Liberation Serif', 'Times New Roman', serif" font-size="46" fill="#ff0000" text-anchor="start">0.10</text>
<text transform="translate(891.5,1820.3)" font-family="'Liberation Serif', 'Times New Roman', serif" font-size="46" fill="#ff0000" text-anchor="start">0.15</text>
<text transform="translate(891.5,1721.3)" font-family="'Liberation Serif', 'Times New Roman', serif" font-size="46" fill="#ff0000" text-anchor="start">0.20</text>
<text transform="translate(891.5,1622.3)" font-family="'Liberation Serif', 'Times New Roman', serif" font-size="46" fill="#ff0000" text-anchor="start">0.25</text>
<text transform="translate(891.5,1523.3)" font-family="'Liberation Serif', 'Times New Roman', serif" font-size="46" fill="#ff0000" text-anchor="start">0.30</text>
<text transform="translate(367.2,1555)" font-family="'Liberation Serif', 'Times New Roman', serif" font-size="41" font-weight="bold" fill="#111" text-anchor="middle">Dry friction</text>
<text transform="translate(699.6,1549.5) scale(1.050,1)" font-family="'Liberation Serif', 'Times New Roman', serif" font-size="40" font-weight="bold" fill="#1414e6" text-anchor="middle">Add PAO 4</text>
<text transform="translate(527.8,2164.4)" font-family="'Liberation Serif', 'Times New Roman', serif" font-size="46" fill="#111" text-anchor="middle">Time (s)</text>
<text transform="translate(115.2,1774.3) rotate(-90)" font-family="'Liberation Serif', 'Times New Roman', serif" font-size="47" fill="#111" text-anchor="middle">Current (nA)</text>
<text transform="translate(1011.8,1785) rotate(-90)" font-family="'Liberation Serif', 'Times New Roman', serif" font-size="47" fill="#ff0000" text-anchor="middle">Friction coefficient</text>
<rect x="1524" y="1512.3" width="383.5" height="547.2" fill="#3399ee"/>
<polygon points="1269.4,1713.8 1270.4,1713.5 1271.4,1714 1272.4,1713.8 1273.4,1713.1 1274.4,1713.9 1275.4,1712.9 1276.4,1713.9 1277.4,1713.3 1278.4,1713.3 1279.4,1713.5 1280.4,1713.8 1281.4,1714.1 1282.4,1713.6 1283.4,1714 1284.4,1714.5 1285.4,1713.3 1286.4,1713.5 1287.4,1713.9 1288.4,1714.2 1289.4,1714.4 1290.4,1713.2 1291.4,1713.9 1292.4,1713.4 1293.4,1713.3 1294.4,1714.1 1295.4,1713.6 1296.4,1712.9 1297.4,1713.3 1298.4,1713.3 1299.4,1714.1 1300.4,1713.7 1301.4,1714.2 1302.4,1713.1 1303.4,1714 1304.4,1713.8 1305.4,1713.5 1306.4,1713.7 1307.4,1713.6 1308.4,1713.9 1309.4,1714.4 1310.4,1713.4 1311.4,1713.2 1312.4,1714.1 1313.4,1713.6 1314.4,1713.9 1315.4,1714.3 1316.4,1713.1 1317.4,1714.1 1318.4,1714.3 1319.4,1713.2 1320.4,1714.1 1321.4,1713.4 1322.4,1713.2 1323.4,1714.2 1324.4,1713.4 1325.4,1713.1 1326.4,1713.7 1327.4,1713.8 1328.4,1713.6 1329.4,1712.9 1330.4,1714.1 1331.4,1714.3 1332.4,1714 1333.4,1713.8 1334.4,1713 1335.4,1714.2 1336.4,1713.4 1337.4,1713.1 1338.4,1714.1 1339.4,1714.1 1340.4,1714.4 1341.4,1714.4 1342.4,1713.6 1343.4,1714.3 1344.4,1713.9 1345.4,1713.5 1346.4,1714.4 1347.4,1714.5 1348.4,1714.2 1349.4,1713.4 1350.4,1714 1351.4,1714 1352.4,1713.9 1353.4,1714.1 1354.4,1714.1 1355.4,1714 1356.4,1714.1 1357.4,1713.1 1358.4,1713.7 1359.4,1713.1 1360.4,1713.5 1361.4,1713.4 1362.4,1713.8 1363.4,1713.7 1364.4,1713.7 1365.4,1713.2 1366.4,1714.1 1367.4,1714 1368.4,1713.2 1369.4,1714 1370.4,1713.1 1371.4,1713.4 1372.4,1713.3 1373.4,1713.9 1374.4,1713.1 1375.4,1713 1376.4,1714.4 1377.4,1712.9 1378.4,1713.7 1379.4,1713.1 1380.4,1712.9 1381.4,1712.9 1382.4,1714.3 1383.4,1713.5 1384.4,1713.6 1385.4,1713.8 1386.4,1713.6 1387.4,1714.2 1388.4,1713.1 1389.4,1714.2 1390.4,1713.6 1391.4,1713.6 1392.4,1714.5 1393.4,1713.4 1394.4,1714.4 1395.4,1714 1396.4,1713.6 1397.4,1713.5 1398.4,1713.2 1399.4,1713.3 1400.4,1714.4 1401.4,1714.3 1402.4,1714.5 1403.4,1713.7 1404.4,1714 1405.4,1713.2 1406.4,1713.5 1407.4,1713 1408.4,1713.6 1409.4,1713.2 1410.4,1713.4 1411.4,1713.7 1412.4,1714.1 1413.4,1713 1414.4,1714.4 1415.4,1714.1 1416.4,1713.1 1417.4,1712.9 1418.4,1713.5 1419.4,1713.4 1420.4,1714.4 1421.4,1713.9 1422.4,1714.4 1423.4,1712.9 1424.4,1714 1425.4,1713.6 1426.4,1714.2 1427.4,1713.7 1428.4,1713.6 1429.4,1714.2 1430.4,1714.4 1431.4,1714.4 1432.4,1713.8 1433.4,1713.5 1434.4,1713.3 1435.4,1714.4 1436.4,1714.3 1437.4,1714.4 1438.4,1713.1 1439.4,1714.4 1440.4,1713.1 1441.4,1713 1442.4,1714.3 1443.4,1714.2 1444.4,1714.2 1445.4,1714.2 1446.4,1713.6 1447.4,1714.3 1448.4,1713.7 1449.4,1713.7 1450.4,1713.5 1451.4,1714 1452.4,1713.1 1453.4,1713.9 1454.4,1713 1455.4,1713.9 1456.4,1713.9 1457.4,1713 1458.4,1714 1459.4,1713.3 1460.4,1713.4 1461.4,1714.2 1462.4,1713.1 1463.4,1714.3 1464.4,1713.3 1465.4,1713.9 1466.4,1713 1467.4,1713.6 1468.4,1712.9 1469.4,1713.5 1470.4,1714.3 1471.4,1713.6 1472.4,1713.3 1473.4,1713.5 1474.4,1714 1475.4,1714.2 1476.4,1713.1 1477.4,1714.1 1478.4,1713.4 1479.4,1713.1 1480.4,1713.6 1481.4,1714.5 1482.4,1714.5 1483.4,1714.1 1484.4,1713.5 1485.4,1713.4 1486.4,1713.7 1487.4,1713.1 1488.4,1713.8 1489.4,1713.9 1490.4,1713.3 1491.4,1713.4 1492.4,1713.2 1493.4,1714.2 1494.4,1714.2 1495.4,1713.8 1496.4,1713.3 1497.4,1713.4 1498.4,1714.4 1499.4,1714.4 1500.4,1713.2 1501.4,1713.6 1502.4,1713.9 1503.4,1713.5 1504.4,1714.1 1505.4,1714.2 1506.4,1713.6 1507.4,1713.5 1508.4,1713.9 1509.4,1713.4 1510.4,1713.1 1511.4,1713.6 1512.4,1713.4 1513.4,1714 1514.4,1713.5 1515.4,1714.5 1516.4,1714.1 1517.4,1713.7 1518.4,1714.4 1519.4,1713.5 1520.4,1712.9 1521.4,1714 1522.4,1713.7 1523.4,1713.9 1524.4,1713.7 1525.4,1713.7 1526.4,1712.9 1526.4,1758.1 1525.4,1758.6 1524.4,1758.6 1523.4,1759.5 1522.4,1759.3 1521.4,1758.7 1520.4,1759.3 1519.4,1759.1 1518.4,1758.2 1517.4,1758.8 1516.4,1759 1515.4,1758.8 1514.4,1758.7 1513.4,1759.2 1512.4,1759.6 1511.4,1759.4 1510.4,1758.9 1509.4,1759.2 1508.4,1758.2 1507.4,1759.3 1506.4,1758.2 1505.4,1758.1 1504.4,1758 1503.4,1758 1502.4,1758.2 1501.4,1759.4 1500.4,1759.1 1499.4,1758.7 1498.4,1758.2 1497.4,1759.5 1496.4,1758.9 1495.4,1758.3 1494.4,1758.1 1493.4,1759 1492.4,1759.5 1491.4,1758.2 1490.4,1758.7 1489.4,1758.5 1488.4,1758.5 1487.4,1759.5 1486.4,1759.2 1485.4,1758.4 1484.4,1758.1 1483.4,1759.6 1482.4,1758.5 1481.4,1758 1480.4,1758.5 1479.4,1758.3 1478.4,1758.3 1477.4,1758.6 1476.4,1759.6 1475.4,1758.7 1474.4,1759 1473.4,1758.4 1472.4,1758.1 1471.4,1758.2 1470.4,1758.6 1469.4,1759.5 1468.4,1759.3 1467.4,1759.4 1466.4,1759.4 1465.4,1759 1464.4,1759.4 1463.4,1759.6 1462.4,1759.2 1461.4,1758.6 1460.4,1759.5 1459.4,1759.3 1458.4,1758.5 1457.4,1758.1 1456.4,1759.1 1455.4,1759.1 1454.4,1758.2 1453.4,1758.9 1452.4,1758.9 1451.4,1758 1450.4,1758.3 1449.4,1758.1 1448.4,1758.6 1447.4,1758.9 1446.4,1758.6 1445.4,1758.3 1444.4,1759 1443.4,1758.2 1442.4,1758.5 1441.4,1758.1 1440.4,1759 1439.4,1758.1 1438.4,1758.6 1437.4,1758 1436.4,1758.3 1435.4,1759.3 1434.4,1759.2 1433.4,1759.2 1432.4,1759.4 1431.4,1758.3 1430.4,1759.4 1429.4,1759.2 1428.4,1758.4 1427.4,1759.2 1426.4,1758.8 1425.4,1759.5 1424.4,1758.2 1423.4,1758.6 1422.4,1758 1421.4,1758.8 1420.4,1758.8 1419.4,1758.8 1418.4,1758.6 1417.4,1759.1 1416.4,1759.1 1415.4,1758.5 1414.4,1758.3 1413.4,1759.1 1412.4,1758.4 1411.4,1759.5 1410.4,1758.3 1409.4,1758.4 1408.4,1758.6 1407.4,1758.1 1406.4,1759 1405.4,1758.3 1404.4,1758.4 1403.4,1759.5 1402.4,1758.3 1401.4,1758.3 1400.4,1759.3 1399.4,1758.1 1398.4,1759.2 1397.4,1758.4 1396.4,1758.2 1395.4,1759.5 1394.4,1759.2 1393.4,1758.3 1392.4,1758.4 1391.4,1759 1390.4,1758.5 1389.4,1758.7 1388.4,1759.1 1387.4,1758.7 1386.4,1758.9 1385.4,1759.2 1384.4,1759.5 1383.4,1758.2 1382.4,1758.6 1381.4,1758 1380.4,1758.1 1379.4,1758.8 1378.4,1758.5 1377.4,1758.9 1376.4,1758.4 1375.4,1759.3 1374.4,1759.6 1373.4,1758.9 1372.4,1758.7 1371.4,1759.1 1370.4,1759.3 1369.4,1758.3 1368.4,1759 1367.4,1758.1 1366.4,1758 1365.4,1759.4 1364.4,1758.9 1363.4,1758.7 1362.4,1758.6 1361.4,1758.8 1360.4,1759.1 1359.4,1759.2 1358.4,1758.5 1357.4,1758.8 1356.4,1758.2 1355.4,1758.9 1354.4,1758 1353.4,1758.5 1352.4,1758.6 1351.4,1758.9 1350.4,1758.7 1349.4,1759.1 1348.4,1758.4 1347.4,1759.1 1346.4,1758.2 1345.4,1759.4 1344.4,1759.6 1343.4,1758.1 1342.4,1758.9 1341.4,1759.3 1340.4,1759.1 1339.4,1759.1 1338.4,1758.6 1337.4,1759.4 1336.4,1758.3 1335.4,1758.6 1334.4,1759.1 1333.4,1759.3 1332.4,1758.7 1331.4,1759.5 1330.4,1759 1329.4,1758.4 1328.4,1759 1327.4,1759.3 1326.4,1758.5 1325.4,1758.3 1324.4,1758.5 1323.4,1759.1 1322.4,1759.4 1321.4,1758 1320.4,1758.8 1319.4,1759.2 1318.4,1758.1 1317.4,1758.3 1316.4,1759.5 1315.4,1758.5 1314.4,1759.1 1313.4,1758 1312.4,1758.6 1311.4,1758.6 1310.4,1759.1 1309.4,1758.5 1308.4,1759.2 1307.4,1759.5 1306.4,1759.6 1305.4,1758.7 1304.4,1758.2 1303.4,1759.3 1302.4,1759.1 1301.4,1759 1300.4,1758.8 1299.4,1758.9 1298.4,1759.5 1297.4,1758.5 1296.4,1758.2 1295.4,1758.9 1294.4,1759.1 1293.4,1758.9 1292.4,1759.2 1291.4,1758.9 1290.4,1759.3 1289.4,1758.9 1288.4,1759.5 1287.4,1759.6 1286.4,1758.4 1285.4,1758.4 1284.4,1758.7 1283.4,1759.1 1282.4,1759.6 1281.4,1759.2 1280.4,1759 1279.4,1759.1 1278.4,1759.5 1277.4,1758.5 1276.4,1759.1 1275.4,1759.3 1274.4,1759.4 1273.4,1758.7 1272.4,1758.8 1271.4,1759.2 1270.4,1758.7 1269.4,1758.5" fill="#000" stroke="none" stroke-width="1"/>
<polygon points="1527,1671.3 1528,1668.8 1529,1667.7 1530,1664.9 1531,1663.2 1532,1661.3 1533,1661.2 1534,1659.6 1535,1660.6 1536,1658.9 1537,1660 1538,1659.3 1539,1658.2 1540,1657.2 1541,1658.3 1542,1658 1543,1656.6 1544,1655.8 1545,1656.6 1546,1655.8 1547,1656.2 1548,1656.3 1549,1656.4 1550,1654.7 1551,1655.8 1552,1654.6 1553,1656 1554,1655.8 1555,1654.2 1556,1655.3 1557,1655.1 1558,1654.2 1559,1654.8 1560,1654.2 1561,1654.7 1562,1655.4 1563,1654.2 1564,1654.6 1565,1655.2 1566,1654.2 1567,1655.8 1568,1655 1569,1654.8 1570,1654.6 1571,1655.6 1572,1655.7 1573,1655.8 1574,1655.9 1575,1655.1 1576,1655.5 1577,1656.1 1578,1656.4 1579,1656.7 1580,1655.3 1581,1656.6 1582,1657.3 1583,1656.3 1584,1657.7 1585,1658.1 1586,1658.1 1587,1658.7 1588,1658.6 1589,1658.3 1590,1658.8 1591,1659.7 1592,1660.3 1593,1659.4 1594,1661.1 1595,1660.4 1596,1661.7 1597,1661.4 1598,1661.7 1599,1661 1600,1662.7 1601,1663 1602,1663.3 1603,1663.1 1604,1662.3 1605,1662.8 1606,1663.4 1607,1664.2 1608,1664.2 1609,1664.8 1610,1665.2 1611,1665.2 1612,1665.3 1613,1666.9 1614,1667.3 1615,1666 1616,1667.3 1617,1667.4 1618,1667.3 1619,1667.5 1620,1669.4 1621,1669.6 1622,1669.9 1623,1669 1624,1669.5 1625,1670.1 1626,1670.5 1627,1670.5 1628,1671.8 1629,1671.4 1630,1672.7 1631,1671.5 1632,1673.1 1633,1671.9 1634,1672.7 1635,1672.7 1636,1674.5 1637,1674.6 1638,1673.7 1639,1675.4 1640,1675.6 1641,1675.1 1642,1676 1643,1676.3 1644,1676.7 1645,1676.6 1646,1677.2 1647,1678.6 1648,1678.4 1649,1679.2 1650,1678.1 1651,1680.1 1652,1679.9 1653,1680.6 1654,1679.8 1655,1681.3 1656,1682 1657,1682 1658,1681.4 1659,1682.8 1660,1682.1 1661,1683.4 1662,1683.6 1663,1683.2 1664,1683.6 1665,1684.3 1666,1684.1 1667,1684.4 1668,1685.1 1669,1686.4 1670,1685.8 1671,1687.2 1672,1686.2 1673,1687.9 1674,1687.7 1675,1686.7 1676,1687.2 1677,1688.4 1678,1688.5 1679,1689.2 1680,1688.8 1681,1689 1682,1689.5 1683,1689 1684,1689.5 1685,1690.2 1686,1690.3 1687,1690.9 1688,1690.5 1689,1690 1690,1691 1691,1691.9 1692,1690.8 1693,1691.5 1694,1691.3 1695,1691.5 1696,1691.5 1697,1692.1 1698,1692.6 1699,1692.8 1700,1692.5 1701,1692.8 1702,1693.3 1703,1694.5 1704,1694.1 1705,1694.6 1706,1694.9 1707,1694.4 1708,1694.9 1709,1695.7 1710,1694.5 1711,1694.7 1712,1696.1 1713,1695.1 1714,1694.9 1715,1696.7 1716,1696.4 1717,1695.6 1718,1697.1 1719,1697.1 1720,1697.5 1721,1697.2 1722,1697.3 1723,1696.6 1724,1696.8 1725,1698.3 1726,1698 1727,1697.9 1728,1697.4 1729,1699.4 1730,1699.2 1731,1698.2 1732,1699.4 1733,1698.6 1734,1699.6 1735,1698.5 1736,1699.1 1737,1699.1 1738,1699.7 1739,1699.8 1740,1700.3 1741,1700.7 1742,1700.7 1743,1699.5 1744,1699.7 1745,1700 1746,1700.6 1747,1700.4 1748,1700.4 1749,1701.9 1750,1701.3 1751,1700.5 1752,1701.2 1753,1701.3 1754,1701.5 1755,1701.2 1756,1701.5 1757,1702.7 1758,1701.9 1759,1703.1 1760,1702.7 1761,1703.1 1762,1702.9 1763,1702.2 1764,1703.9 1765,1703 1766,1703.1 1767,1703.7 1768,1703.2 1769,1703.3 1770,1703.5 1771,1703.3 1772,1703.4 1773,1704.2 1774,1704 1775,1703.7 1776,1704.7 1777,1703.9 1778,1703.8 1779,1704.1 1780,1704 1781,1704.3 1782,1706 1783,1705.5 1784,1705.5 1785,1705.1 1786,1705.9 1787,1706.3 1788,1705.9 1789,1706.2 1790,1706.5 1791,1706.6 1792,1706.6 1793,1706.7 1794,1706.4 1795,1706.5 1796,1706.9 1797,1706.2 1798,1706.5 1799,1706.3 1800,1707.9 1801,1706.7 1802,1706.4 1803,1707.9 1804,1707.2 1805,1708.1 1806,1707.5 1807,1706.8 1808,1708.5 1809,1708.2 1810,1708.2 1811,1708.3 1812,1707.3 1813,1707.4 1814,1708.6 1815,1709 1816,1709.1 1817,1707.6 1818,1708.1 1819,1709.5 1820,1709.4 1821,1708.1 1822,1708.9 1823,1708.5 1824,1708.9 1825,1708.7 1826,1708.7 1827,1709.5 1828,1709.1 1829,1709.3 1830,1709.8 1831,1709.7 1832,1709.8 1833,1710.5 1834,1709.2 1835,1709.6 1836,1710.5 1837,1709.7 1838,1709.2 1839,1710.6 1840,1710.8 1841,1710.2 1842,1710.5 1843,1710.7 1844,1710.4 1845,1711.4 1846,1709.9 1847,1710.3 1848,1710.4 1849,1710.4 1850,1711.5 1851,1710.3 1852,1711 1853,1711.4 1854,1712 1855,1712.1 1856,1711.6 1857,1711.7 1858,1711.7 1859,1711.3 1860,1711.6 1861,1711.9 1862,1712.3 1863,1712.4 1864,1711.5 1865,1712 1866,1711.7 1867,1711.8 1868,1712.7 1869,1712.6 1870,1713 1871,1712.4 1872,1713 1873,1711.7 1874,1712.6 1875,1713 1876,1711.7 1877,1713.4 1878,1713.3 1879,1712.4 1880,1713.3 1881,1713.3 1882,1712.5 1883,1712.1 1884,1713.4 1885,1713.4 1886,1713.6 1887,1712.5 1888,1712.9 1889,1712.3 1890,1712.4 1891,1713.2 1892,1712.5 1893,1712.1 1894,1713.2 1895,1712.2 1896,1712.4 1897,1713.5 1898,1714 1899,1712.4 1900,1713.9 1901,1714 1902,1714.1 1902,1760.2 1901,1760.3 1900,1760.6 1899,1760.5 1898,1760.9 1897,1760.8 1896,1761.5 1895,1761.2 1894,1761.5 1893,1760.5 1892,1760.9 1891,1760.2 1890,1760.6 1889,1761.7 1888,1762 1887,1761.8 1886,1762 1885,1761.4 1884,1761.1 1883,1762.1 1882,1761.9 1881,1761 1880,1762 1879,1761.8 1878,1762.4 1877,1761.3 1876,1761.5 1875,1762.5 1874,1763 1873,1762.9 1872,1763.1 1871,1761.5 1870,1762.7 1869,1762.6 1868,1762.5 1867,1762.1 1866,1763.5 1865,1762.8 1864,1761.9 1863,1762.6 1862,1763.5 1861,1763.5 1860,1762.2 1859,1762.3 1858,1763.3 1857,1762.6 1856,1762.5 1855,1764 1854,1763 1853,1764.1 1852,1762.7 1851,1764.3 1850,1764.4 1849,1763.2 1848,1764.3 1847,1763.3 1846,1763 1845,1764.1 1844,1763.2 1843,1764.6 1842,1764.8 1841,1763.9 1840,1763.3 1839,1763.7 1838,1763.9 1837,1764.5 1836,1763.6 1835,1763.6 1834,1765.3 1833,1765.4 1832,1764 1831,1765.1 1830,1765.4 1829,1764.4 1828,1764.7 1827,1765.4 1826,1765.3 1825,1764.3 1824,1765.8 1823,1764.3 1822,1764.3 1821,1765.2 1820,1766 1819,1765.9 1818,1765.4 1817,1764.8 1816,1764.8 1815,1765.7 1814,1766.2 1813,1766.4 1812,1766.6 1811,1766.1 1810,1766 1809,1765.4 1808,1766.3 1807,1765.8 1806,1765.6 1805,1767 1804,1766.4 1803,1766.4 1802,1766.8 1801,1767 1800,1765.7 1799,1766.9 1798,1766.8 1797,1767.2 1796,1766.4 1795,1766.2 1794,1766.6 1793,1767.1 1792,1768 1791,1766.5 1790,1767.5 1789,1768.5 1788,1768.2 1787,1768 1786,1767.7 1785,1767.3 1784,1767.7 1783,1769.1 1782,1768 1781,1768.3 1780,1768.5 1779,1769.2 1778,1769 1777,1769.1 1776,1768.1 1775,1769.3 1774,1769.5 1773,1768.5 1772,1770.3 1771,1770.4 1770,1769.8 1769,1770.5 1768,1769.1 1767,1769.2 1766,1769.8 1765,1770.6 1764,1770.9 1763,1770.7 1762,1770.8 1761,1770 1760,1770.2 1759,1769.8 1758,1770.9 1757,1770.8 1756,1770.9 1755,1771.5 1754,1770.4 1753,1771 1752,1771.7 1751,1771.4 1750,1772.3 1749,1772.1 1748,1770.9 1747,1772.4 1746,1771.1 1745,1772.6 1744,1772.7 1743,1773 1742,1771.8 1741,1773.2 1740,1772.7 1739,1772.9 1738,1772.2 1737,1773.2 1736,1772.8 1735,1773.8 1734,1772.3 1733,1773.8 1732,1772.8 1731,1772.5 1730,1773.8 1729,1772.8 1728,1773.4 1727,1773.7 1726,1774.4 1725,1773.9 1724,1775.1 1723,1775.5 1722,1775 1721,1775 1720,1774.9 1719,1775.7 1718,1775.5 1717,1776.6 1716,1775.3 1715,1776.1 1714,1776.4 1713,1775.7 1712,1777.1 1711,1776.5 1710,1777.7 1709,1776.8 1708,1778.1 1707,1778 1706,1778.3 1705,1778.1 1704,1779 1703,1778.3 1702,1779.3 1701,1778.9 1700,1778.1 1699,1779.7 1698,1779.6 1697,1779.7 1696,1780.4 1695,1780.9 1694,1780.5 1693,1780.5 1692,1781.2 1691,1780.6 1690,1781.7 1689,1781.7 1688,1781.3 1687,1781.6 1686,1782.4 1685,1782.2 1684,1783.1 1683,1783.3 1682,1783 1681,1784.2 1680,1784.4 1679,1783.8 1678,1784.4 1677,1785.6 1676,1784.7 1675,1785.9 1674,1785.9 1673,1785.9 1672,1786.6 1671,1787.5 1670,1787.4 1669,1787.4 1668,1787.1 1667,1787.6 1666,1787.9 1665,1789.7 1664,1790 1663,1789.2 1662,1789.9 1661,1790.3 1660,1791.1 1659,1790.7 1658,1790.7 1657,1792.2 1656,1792.6 1655,1791.8 1654,1792.6 1653,1793.4 1652,1793.2 1651,1793.6 1650,1794.9 1649,1794.5 1648,1794.2 1647,1795.2 1646,1795.1 1645,1795.8 1644,1796.8 1643,1796.6 1642,1797.1 1641,1798 1640,1798.2 1639,1798 1638,1798.6 1637,1799.7 1636,1798.7 1635,1799.2 1634,1800.6 1633,1799.8 1632,1801.4 1631,1800.9 1630,1802.4 1629,1802 1628,1801.7 1627,1801.8 1626,1802.5 1625,1802.7 1624,1803.5 1623,1804.2 1622,1803.9 1621,1805.4 1620,1805.1 1619,1806 1618,1805.5 1617,1805.7 1616,1806.4 1615,1806.5 1614,1806.6 1613,1806.9 1612,1808.5 1611,1808.4 1610,1809 1609,1808.8 1608,1808.7 1607,1810.2 1606,1810.3 1605,1811.3 1604,1810.9 1603,1810.4 1602,1810.5 1601,1811.6 1600,1812.2 1599,1812 1598,1812.9 1597,1813.2 1596,1812.4 1595,1812.4 1594,1812.9 1593,1813.3 1592,1812.6 1591,1813 1590,1814.3 1589,1813.2 1588,1813.8 1587,1814 1586,1814.6 1585,1815.5 1584,1815.5 1583,1814.5 1582,1815.7 1581,1815 1580,1815.5 1579,1816.5 1578,1815.7 1577,1816.4 1576,1816.8 1575,1816.8 1574,1816.1 1573,1816.7 1572,1816.3 1571,1816.8 1570,1817.5 1569,1816.9 1568,1817 1567,1817.2 1566,1817.1 1565,1816.4 1564,1816.8 1563,1817.1 1562,1816.6 1561,1816.6 1560,1817.8 1559,1817.2 1558,1817.6 1557,1816.4 1556,1816.9 1555,1817.3 1554,1816.5 1553,1816.3 1552,1816.6 1551,1816.3 1550,1816 1549,1816.4 1548,1815.7 1547,1816 1546,1815 1545,1814.1 1544,1815 1543,1813.9 1542,1812.7 1541,1813.6 1540,1812.3 1539,1811.3 1538,1811.6 1537,1811.5 1536,1811.2 1535,1809.6 1534,1809.8 1533,1808.5 1532,1809.6 1531,1806.5 1530,1805.4 1529,1802.8 1528,1800.3 1527,1798.1" fill="#000" stroke="none" stroke-width="1"/>
<polyline points="1268.5,2034.8 1269.6,2034.6 1270.7,2035.5 1271.8,2035.4 1272.9,2036.1 1274,2035.8 1275.1,2035.4 1276.2,2034 1277.3,2033.5 1278.4,2032.3 1279.5,2031.8 1280.6,2030.6 1281.7,2030 1282.8,2028.9 1283.9,2028.3 1285,2027.1 1286.1,2026.6 1287.2,2025 1288.3,2024.4 1289.4,2022.8 1290.5,2022.1 1291.6,2020.7 1292.7,2020 1293.8,2018.4 1294.9,2017.8 1296,2016.3 1297.1,2015.5 1298.2,2013.9 1299.3,2012.8 1300.4,2010.9 1301.5,2010 1302.6,2008 1303.7,2007 1304.8,2005.2 1305.9,2004.1 1307,2002.2 1308.1,2001.1 1309.2,1998.7 1310.3,1997 1311.4,1994.7 1312.5,1993 1313.6,1990.6 1314.7,1989.2 1315.8,1986.7 1316.9,1985.2 1318,1983.3 1319.1,1982.2 1320.2,1980.3 1321.3,1979.2 1322.4,1977.2 1323.5,1976.1 1324.6,1974.1 1325.7,1973.2 1326.8,1967.6 1327.9,1967.7 1329,1962 1330.1,1962.7 1331.2,1956.4 1332.3,1957.3 1333.4,1952.7 1334.5,1954.7 1335.6,1950.6 1336.7,1951.8 1337.8,1947.6 1338.9,1948.2 1340,1944.9 1341.1,1945.8 1342.2,1941.7 1343.3,1942.1 1344.4,1937.8 1345.5,1938.8 1346.6,1934.5 1347.7,1935.7 1348.8,1931.7 1349.9,1933.2 1351,1927.9 1352.1,1929.8 1353.2,1924.4 1354.3,1926.2 1355.4,1921.1 1356.5,1923.1 1357.6,1918.6 1358.7,1919.8 1359.8,1915.9 1360.9,1917.2 1362,1913.1 1363.1,1914.3 1364.2,1909.5 1365.3,1911.5 1366.4,1905.8 1367.5,1909.2 1368.6,1902.7 1369.7,1907.8 1370.8,1898.7 1371.9,1905.8 1373,1897 1374.1,1901.7 1375.2,1893.2 1376.3,1900.4 1377.4,1901.1 1378.5,1898.4 1379.6,1891.6 1380.7,1898.5 1381.8,1890.3 1382.9,1897.6 1384,1889.3 1385.1,1896.1 1386.2,1888.8 1387.3,1895.3 1388.4,1885.3 1389.5,1893.2 1390.6,1886.3 1391.7,1891.3 1392.8,1882.3 1393.9,1889.3 1395,1882.4 1396.1,1887.1 1397.2,1880.8 1398.3,1885.9 1399.4,1879.4 1400.5,1897.8 1401.6,1879.1 1402.7,1887.4 1403.8,1880.8 1404.9,1887.9 1406,1880 1407.1,1889.4 1408.2,1873.8 1409.3,1888.3 1410.4,1882.3 1411.5,1888.1 1412.6,1880.1 1413.7,1885.5 1414.8,1879 1415.9,1884.6 1417,1876 1418.1,1883.2 1419.2,1875.5 1420.3,1883.2 1421.4,1880 1422.5,1889.7 1423.6,1878.1 1424.7,1881.7 1425.8,1875 1426.9,1883.9 1428,1876.2 1429.1,1884.3 1430.2,1875.2 1431.3,1893.6 1432.4,1873.1 1433.5,1881.3 1434.6,1867.9 1435.7,1877.1 1436.8,1868.2 1437.9,1885.9 1439,1865.8 1440.1,1872.4 1441.2,1864 1442.3,1874.2 1443.4,1865.1 1444.5,1871.6 1445.6,1863.5 1446.7,1872.4 1447.8,1863.6 1448.9,1872.1 1450,1861.7 1451.1,1872.5 1452.2,1875 1453.3,1871.1 1454.4,1863.7 1455.5,1872.2 1456.6,1862.2 1457.7,1872.4 1458.8,1862 1459.9,1872.4 1461,1858.1 1462.1,1869.8 1463.2,1883.5 1464.3,1876.4 1465.4,1870.3 1466.5,1879.7 1467.6,1872.8 1468.7,1881 1469.8,1869.7 1470.9,1878.7 1472,1864.7 1473.1,1874.8 1474.2,1864.9 1475.3,1871.2 1476.4,1860.3 1477.5,1868.3 1478.6,1857.5 1479.7,1866.2 1480.8,1855.5 1481.9,1865.8 1483,1857.8 1484.1,1866.5 1485.2,1859.3 1486.3,1868.4 1487.4,1855.8 1488.5,1865 1489.6,1858.8 1490.7,1868.5 1491.8,1868.2 1492.9,1866 1494,1855.7 1495.1,1862.4 1496.2,1852 1497.3,1859.7 1498.4,1849.8 1499.5,1850 1500.6,1847.5 1501.7,1856.6 1502.8,1847.5 1503.9,1854.6 1505,1840 1506.1,1855.2 1507.2,1844.3 1508.3,1855.1 1509.4,1845.4 1510.5,1852.3 1511.6,1844.9 1512.7,1853 1513.8,1846 1514.9,1855.3 1516,1848.7 1517.1,1865.7 1518.2,1870.6" fill="none" stroke="#ff1a1a" stroke-width="2" stroke-linejoin="round"/>
<line x1="1519.5" y1="1866" x2="1519.5" y2="2004.3" stroke="#ff8080" stroke-width="1.3"/>
<polyline points="1521,2005.3 1523,2003.6 1525,2005.8 1527,2003.9 1529,2004.9 1531,2005.1 1533,2006.1 1535,2005.6 1537,2004.2 1539,2005.7 1541,2004.5 1543,2005.6 1545,2005.1 1547,2006.6 1549,2005.2 1551,2004.8 1553,2004.9 1555,2006.8 1557,2005.1 1559,2004.8 1561,2005.7 1563,2006.1 1565,2006.8 1567,2004.5 1569,2005.2 1571,2006.3 1573,2005.7 1575,2006.3 1577,2006.3 1579,2004.7 1581,2004.6 1583,2005 1585,2005.3 1587,2005 1589,2005.4 1591,2004.9 1593,2004.7 1595,2006.1 1597,2006.8 1599,2005.1 1601,2005 1603,2006.8 1605,2005 1607,2005.2 1609,2006.2 1611,2005.7 1613,2007.1 1615,2006.3 1617,2006.4 1619,2006 1621,2005.1 1623,2007.3 1625,2006.1 1627,2007.4 1629,2005.4 1631,2006.4 1633,2006.7 1635,2005.6 1637,2005.4 1639,2007.9 1641,2007.9 1643,2008.1 1645,2006.9 1647,2007.4 1649,2007.1 1651,2006.8 1653,2005.9 1655,2007.3 1657,2006.7 1659,2007.4 1661,2005.7 1663,2006.4 1665,2005.9 1667,2007.8 1669,2007 1671,2006.5 1673,2007.9 1675,2007.2 1677,2006.6 1679,2006.9 1681,2005.8 1683,2006 1685,2006 1687,2008.6 1689,2008.4 1691,2007.5 1693,2008.6 1695,2007.5 1697,2008 1699,2006.4 1701,2007.3 1703,2007.9 1705,2007.3 1707,2008 1709,2007.2 1711,2008.1 1713,2006.9 1715,2007.7 1717,2007.5 1719,2007.8 1721,2006.6 1723,2007.1 1725,2008.5 1727,2006.9 1729,2007.8 1731,2009.3 1733,2008.3 1735,2008.7 1737,2008.8 1739,2009.4 1741,2007.8 1743,2007.8 1745,2008.8 1747,2006.8 1749,2008.1 1751,2007.6 1753,2008.4 1755,2008.9 1757,2009.3 1759,2008.4 1761,2008.9 1763,2007.2 1765,2008.9 1767,2009.6 1769,2008.8 1771,2008.5 1773,2008.6 1775,2008.3 1777,2007.7 1779,2007.8 1781,2009.5 1783,2008.7 1785,2007.4 1787,2009 1789,2009.7 1791,2009.2 1793,2007.9 1795,2010.1 1797,2008 1799,2008.9 1801,2008.8 1803,2008 1805,2008.3 1807,2008.1 1809,2008.1 1811,2007.8 1813,2009.5 1815,2009.6 1817,2008.4 1819,2010.4 1821,2009 1823,2009.1 1825,2010.5 1827,2009.7 1829,2009.2 1831,2010 1833,2010 1835,2008.9 1837,2008.2 1839,2010.1 1841,2010.2 1843,2009.8 1845,2008.5 1847,2010.2 1849,2008.7 1851,2010.5 1853,2010 1855,2010.1 1857,2008.5 1859,2009.4 1861,2010.4 1863,2008.7 1865,2008.5 1867,2009.6 1869,2010.9 1871,2010.3 1873,2009.2 1875,2008.8 1877,2010.9 1879,2011 1881,2010.6 1883,2009.2 1885,2010.8 1887,2008.8 1889,2009.2 1891,2009.7 1893,2011.5" fill="none" stroke="#ff1a1a" stroke-width="5" stroke-linejoin="round"/>
<line x1="1237.7" y1="2066.1" x2="1247.7" y2="2066.1" stroke="#000" stroke-width="4"/>
<line x1="1237.7" y1="1955.3" x2="1247.7" y2="1955.3" stroke="#000" stroke-width="4"/>
<line x1="1237.7" y1="1844.5" x2="1247.7" y2="1844.5" stroke="#000" stroke-width="4"/>
<line x1="1237.7" y1="1733.7" x2="1247.7" y2="1733.7" stroke="#000" stroke-width="4"/>
<line x1="1237.7" y1="1622.9" x2="1247.7" y2="1622.9" stroke="#000" stroke-width="4"/>
<line x1="1237.7" y1="1512.1" x2="1247.7" y2="1512.1" stroke="#000" stroke-width="4"/>
<line x1="1237.7" y1="2010.7" x2="1242.2" y2="2010.7" stroke="#000" stroke-width="3.2"/>
<line x1="1237.7" y1="1899.9" x2="1242.2" y2="1899.9" stroke="#000" stroke-width="3.2"/>
<line x1="1237.7" y1="1789.1" x2="1242.2" y2="1789.1" stroke="#000" stroke-width="3.2"/>
<line x1="1237.7" y1="1678.3" x2="1242.2" y2="1678.3" stroke="#000" stroke-width="3.2"/>
<line x1="1237.7" y1="1567.5" x2="1242.2" y2="1567.5" stroke="#000" stroke-width="3.2"/>
<line x1="1269.7" y1="2066.2" x2="1269.7" y2="2056.2" stroke="#000" stroke-width="4"/>
<line x1="1394.4" y1="2066.2" x2="1394.4" y2="2056.2" stroke="#000" stroke-width="4"/>
<line x1="1519.1" y1="2066.2" x2="1519.1" y2="2056.2" stroke="#000" stroke-width="4"/>
<line x1="1643.8" y1="2066.2" x2="1643.8" y2="2056.2" stroke="#000" stroke-width="4"/>
<line x1="1768.5" y1="2066.2" x2="1768.5" y2="2056.2" stroke="#000" stroke-width="4"/>
<line x1="1893.2" y1="2066.2" x2="1893.2" y2="2056.2" stroke="#000" stroke-width="4"/>
<line x1="1332" y1="2066.2" x2="1332" y2="2061.7" stroke="#000" stroke-width="3.2"/>
<line x1="1456.8" y1="2066.2" x2="1456.8" y2="2061.7" stroke="#000" stroke-width="3.2"/>
<line x1="1581.5" y1="2066.2" x2="1581.5" y2="2061.7" stroke="#000" stroke-width="3.2"/>
<line x1="1706.2" y1="2066.2" x2="1706.2" y2="2061.7" stroke="#000" stroke-width="3.2"/>
<line x1="1830.9" y1="2066.2" x2="1830.9" y2="2061.7" stroke="#000" stroke-width="3.2"/>
<line x1="1926" y1="1955.7" x2="1916" y2="1955.7" stroke="#ff0000" stroke-width="4"/>
<line x1="1926" y1="1807.9" x2="1916" y2="1807.9" stroke="#ff0000" stroke-width="4"/>
<line x1="1926" y1="1660.1" x2="1916" y2="1660.1" stroke="#ff0000" stroke-width="4"/>
<line x1="1926" y1="1512.3" x2="1916" y2="1512.3" stroke="#ff0000" stroke-width="4"/>
<line x1="1926" y1="2029.6" x2="1921.5" y2="2029.6" stroke="#ff0000" stroke-width="3.2"/>
<line x1="1926" y1="1881.8" x2="1921.5" y2="1881.8" stroke="#ff0000" stroke-width="3.2"/>
<line x1="1926" y1="1734" x2="1921.5" y2="1734" stroke="#ff0000" stroke-width="3.2"/>
<line x1="1926" y1="1586.2" x2="1921.5" y2="1586.2" stroke="#ff0000" stroke-width="3.2"/>
<line x1="1237.7" y1="1512.3" x2="1915" y2="1512.3" stroke="#000" stroke-width="5.6"/>
<line x1="1237.7" y1="2066.2" x2="1915" y2="2066.2" stroke="#000" stroke-width="5.6"/>
<line x1="1915" y1="1512.3" x2="1926" y2="1512.3" stroke="#ff0000" stroke-width="5.6"/>
<line x1="1915" y1="2066.2" x2="1926" y2="2066.2" stroke="#ff0000" stroke-width="5.6"/>
<line x1="1237.7" y1="1509.5" x2="1237.7" y2="2069" stroke="#000" stroke-width="5.6"/>
<line x1="1926" y1="1509.5" x2="1926" y2="2069" stroke="#ff0000" stroke-width="5.6"/>
<text transform="translate(1225.2,2078.9)" font-family="'Liberation Serif', 'Times New Roman', serif" font-size="46" fill="#111" text-anchor="end">-12</text>
<text transform="translate(1225.2,1968.1)" font-family="'Liberation Serif', 'Times New Roman', serif" font-size="46" fill="#111" text-anchor="end">-8</text>
<text transform="translate(1225.2,1857.3)" font-family="'Liberation Serif', 'Times New Roman', serif" font-size="46" fill="#111" text-anchor="end">-4</text>
<text transform="translate(1225.2,1746.5)" font-family="'Liberation Serif', 'Times New Roman', serif" font-size="46" fill="#111" text-anchor="end">0</text>
<text transform="translate(1225.2,1635.7)" font-family="'Liberation Serif', 'Times New Roman', serif" font-size="46" fill="#111" text-anchor="end">4</text>
<text transform="translate(1225.2,1524.9)" font-family="'Liberation Serif', 'Times New Roman', serif" font-size="46" fill="#111" text-anchor="end">8</text>
<text transform="translate(1269.7,2115)" font-family="'Liberation Serif', 'Times New Roman', serif" font-size="46" fill="#111" text-anchor="middle">0</text>
<text transform="translate(1394.4,2115)" font-family="'Liberation Serif', 'Times New Roman', serif" font-size="46" fill="#111" text-anchor="middle">200</text>
<text transform="translate(1519.1,2115)" font-family="'Liberation Serif', 'Times New Roman', serif" font-size="46" fill="#111" text-anchor="middle">400</text>
<text transform="translate(1643.8,2115)" font-family="'Liberation Serif', 'Times New Roman', serif" font-size="46" fill="#111" text-anchor="middle">600</text>
<text transform="translate(1768.5,2115)" font-family="'Liberation Serif', 'Times New Roman', serif" font-size="46" fill="#111" text-anchor="middle">800</text>
<text transform="translate(1893.2,2115)" font-family="'Liberation Serif', 'Times New Roman', serif" font-size="46" fill="#111" text-anchor="middle">1000</text>
<text transform="translate(1938,1968.5)" font-family="'Liberation Serif', 'Times New Roman', serif" font-size="46" fill="#ff0000" text-anchor="start">0.1</text>
<text transform="translate(1938,1820.7)" font-family="'Liberation Serif', 'Times New Roman', serif" font-size="46" fill="#ff0000" text-anchor="start">0.2</text>
<text transform="translate(1938,1672.9)" font-family="'Liberation Serif', 'Times New Roman', serif" font-size="46" fill="#ff0000" text-anchor="start">0.3</text>
<text transform="translate(1938,1525.1)" font-family="'Liberation Serif', 'Times New Roman', serif" font-size="46" fill="#ff0000" text-anchor="start">0.4</text>
<text transform="translate(1396.7,1553)" font-family="'Liberation Serif', 'Times New Roman', serif" font-size="41" font-weight="bold" fill="#111" text-anchor="middle">Dry friction</text>
<text transform="translate(1744.3,1553) scale(1.050,1)" font-family="'Liberation Serif', 'Times New Roman', serif" font-size="40" font-weight="bold" fill="#1414e6" text-anchor="middle">Add PFPE</text>
<text transform="translate(1591,2164.4)" font-family="'Liberation Serif', 'Times New Roman', serif" font-size="46" fill="#111" text-anchor="middle">Time (s)</text>
<text transform="translate(1143.8,1790.8) rotate(-90)" font-family="'Liberation Serif', 'Times New Roman', serif" font-size="48" fill="#111" text-anchor="middle">Current (nA)</text>
<text transform="translate(2043.8,1811.6) rotate(-90)" font-family="'Liberation Serif', 'Times New Roman', serif" font-size="48.5" fill="#ff0000" text-anchor="middle">Friction coefficient</text>
<rect x="535.2" y="2195.6" width="323.4" height="551.4" fill="#3399ee"/>
<polygon points="230.8,2395.9 231.8,2394.8 232.8,2395.6 233.8,2394.6 234.8,2394.5 235.8,2395.8 236.8,2394.9 237.8,2394.8 238.8,2394.4 239.8,2395.2 240.8,2394.7 241.8,2394.4 242.8,2394.5 243.8,2395.4 244.8,2395 245.8,2394.4 246.8,2394.8 247.8,2395.6 248.8,2395.2 249.8,2395.5 250.8,2394.7 251.8,2395.4 252.8,2394.6 253.8,2394.5 254.8,2395.8 255.8,2395.1 256.8,2394.6 257.8,2395.8 258.8,2395.8 259.8,2394.9 260.8,2395 261.8,2394.9 262.8,2395.4 263.8,2395.6 264.8,2395.2 265.8,2394.7 266.8,2394.9 267.8,2394.6 268.8,2394.9 269.8,2394.5 270.8,2394.3 271.8,2394.5 272.8,2395.4 273.8,2395.6 274.8,2395.6 275.8,2395.2 276.8,2394.5 277.8,2395.2 278.8,2395.7 279.8,2394.4 280.8,2395.7 281.8,2395.1 282.8,2395 283.8,2395.6 284.8,2394.7 285.8,2394.3 286.8,2394.6 287.8,2395.6 288.8,2394.5 289.8,2394.2 290.8,2395.6 291.8,2394.9 292.8,2394.7 293.8,2395.4 294.8,2395.6 295.8,2395.2 296.8,2395.6 297.8,2395.5 298.8,2394.2 299.8,2394.7 300.8,2395 301.8,2395.4 302.8,2395 303.8,2394.3 304.8,2395 305.8,2394.1 306.8,2395.3 307.8,2395.6 308.8,2395.5 309.8,2394.8 310.8,2395.3 311.8,2395.1 312.8,2395.5 313.8,2394.9 314.8,2395.1 315.8,2395.4 316.8,2395.2 317.8,2395.5 318.8,2394 319.8,2395.3 320.8,2394.5 321.8,2395.2 322.8,2395.2 323.8,2394.4 324.8,2394.2 325.8,2395.2 326.8,2394.6 327.8,2394.5 328.8,2395.1 329.8,2395.4 330.8,2394.6 331.8,2394.1 332.8,2395.3 333.8,2394.5 334.8,2394.9 335.8,2395 336.8,2395.1 337.8,2394.8 338.8,2395.1 339.8,2394 340.8,2394.2 341.8,2394.2 342.8,2394.9 343.8,2394.9 344.8,2394.8 345.8,2394.3 346.8,2394.6 347.8,2394.5 348.8,2394.3 349.8,2394.2 350.8,2393.9 351.8,2394.3 352.8,2394.5 353.8,2394.9 354.8,2394.6 355.8,2394.2 356.8,2395.4 357.8,2394.4 358.8,2394.3 359.8,2395.2 360.8,2393.8 361.8,2394.4 362.8,2394.4 363.8,2394.5 364.8,2393.9 365.8,2394 366.8,2394 367.8,2395.2 368.8,2394.9 369.8,2393.8 370.8,2394.5 371.8,2394.1 372.8,2393.9 373.8,2395.1 374.8,2394.8 375.8,2394.1 376.8,2394.8 377.8,2394 378.8,2395.1 379.8,2394.1 380.8,2394.1 381.8,2395.1 382.8,2394.8 383.8,2394.7 384.8,2395.1 385.8,2393.9 386.8,2394.4 387.8,2394.6 388.8,2393.9 389.8,2393.8 390.8,2394 391.8,2394.4 392.8,2395.1 393.8,2394.2 394.8,2395 395.8,2394.4 396.8,2394.3 397.8,2395.1 398.8,2394.2 399.8,2395 400.8,2394.7 401.8,2394.6 402.8,2395 403.8,2393.6 404.8,2393.7 405.8,2394.1 406.8,2393.8 407.8,2394.1 408.8,2393.6 409.8,2394.4 410.8,2394.2 411.8,2394 412.8,2395.1 413.8,2394.9 414.8,2394.3 415.8,2393.8 416.8,2394.9 417.8,2394.9 418.8,2394.9 419.8,2394.3 420.8,2394 421.8,2394.5 422.8,2394.7 423.8,2394.5 424.8,2394.7 425.8,2393.7 426.8,2393.7 427.8,2394.1 428.8,2394.4 429.8,2394.9 430.8,2394.6 431.8,2394.5 432.8,2394.1 433.8,2394.6 434.8,2394.7 435.8,2393.9 436.8,2394.8 437.8,2394.5 438.8,2393.6 439.8,2393.6 440.8,2394.9 441.8,2394.3 442.8,2394.4 443.8,2393.5 444.8,2394.4 445.8,2393.6 446.8,2394.2 447.8,2394.5 448.8,2393.8 449.8,2394.3 450.8,2393.4 451.8,2394.5 452.8,2394 453.8,2393.5 454.8,2393.6 455.8,2393.3 456.8,2394.8 457.8,2393.3 458.8,2393.7 459.8,2394.8 460.8,2394.4 461.8,2394 462.8,2394 463.8,2393.5 464.8,2393.5 465.8,2394.3 466.8,2394.8 467.8,2394.8 468.8,2393.5 469.8,2394.7 470.8,2393.6 471.8,2394.7 472.8,2393.9 473.8,2394.2 474.8,2393.6 475.8,2393.2 476.8,2393.6 477.8,2393.3 478.8,2394.5 479.8,2393.4 480.8,2393.4 481.8,2394.2 482.8,2393.6 483.8,2394.1 484.8,2393.4 485.8,2393.2 486.8,2393.8 487.8,2394.4 488.8,2393.3 489.8,2393.6 490.8,2394 491.8,2394.6 492.8,2393.6 493.8,2393.2 494.8,2393.3 495.8,2394 496.8,2393.9 497.8,2393.1 498.8,2393.3 499.8,2393.5 500.8,2394.5 501.8,2393.9 502.8,2393.2 503.8,2394.3 504.8,2393.8 505.8,2393.1 506.8,2393.9 507.8,2394.6 508.8,2393.6 509.8,2393.8 510.8,2393.2 511.8,2394.2 512.8,2394.1 513.8,2393.9 514.8,2393.4 515.8,2393.7 516.8,2394 517.8,2394 518.8,2394.4 519.8,2393.7 520.8,2393.8 521.8,2393.7 522.8,2394.1 523.8,2393.6 524.8,2394.4 525.8,2393.5 526.8,2393.3 527.8,2393.1 528.8,2394.1 529.8,2393 530.8,2393.5 531.8,2394 532.8,2394 533.8,2393.5 533.8,2444 532.8,2443.4 531.8,2443.1 530.8,2444 529.8,2444.5 528.8,2443.6 527.8,2444.3 526.8,2443.9 525.8,2444.4 524.8,2443.1 523.8,2443.3 522.8,2443.3 521.8,2444.3 520.8,2443 519.8,2443.9 518.8,2443.5 517.8,2443.9 516.8,2444.1 515.8,2444.1 514.8,2443.1 513.8,2443.4 512.8,2443.5 511.8,2444.2 510.8,2443 509.8,2443.6 508.8,2443.7 507.8,2444 506.8,2443.2 505.8,2443.9 504.8,2443.4 503.8,2443 502.8,2443.5 501.8,2443.1 500.8,2443.5 499.8,2444.1 498.8,2444.4 497.8,2444.3 496.8,2444.1 495.8,2443.3 494.8,2443.2 493.8,2443.9 492.8,2443.6 491.8,2444 490.8,2444.2 489.8,2443.4 488.8,2444.1 487.8,2442.9 486.8,2444 485.8,2443 484.8,2444.1 483.8,2443.3 482.8,2443.7 481.8,2444.1 480.8,2444.4 479.8,2443 478.8,2444.1 477.8,2443.7 476.8,2442.9 475.8,2443.2 474.8,2443.5 473.8,2443.7 472.8,2443 471.8,2443.5 470.8,2443.3 469.8,2443.2 468.8,2443.6 467.8,2444.3 466.8,2443.4 465.8,2443.3 464.8,2443.1 463.8,2443.4 462.8,2444.2 461.8,2443.5 460.8,2444 459.8,2444.3 458.8,2443.8 457.8,2444 456.8,2443.1 455.8,2443.7 454.8,2443.1 453.8,2444.3 452.8,2443.5 451.8,2442.8 450.8,2443.7 449.8,2444.3 448.8,2443.9 447.8,2444.3 446.8,2443.1 445.8,2442.9 444.8,2443 443.8,2443 442.8,2442.9 441.8,2442.7 440.8,2443.2 439.8,2442.7 438.8,2444 437.8,2443.5 436.8,2443 435.8,2444.1 434.8,2444 433.8,2443.1 432.8,2442.7 431.8,2443 430.8,2443.1 429.8,2443.4 428.8,2443.8 427.8,2443.1 426.8,2443.4 425.8,2443.3 424.8,2443.3 423.8,2443 422.8,2443.8 421.8,2443.2 420.8,2444.1 419.8,2443.5 418.8,2443.1 417.8,2443.5 416.8,2443.6 415.8,2443.8 414.8,2442.7 413.8,2443 412.8,2444 411.8,2443.2 410.8,2443 409.8,2442.7 408.8,2442.8 407.8,2444 406.8,2443.5 405.8,2443.2 404.8,2442.8 403.8,2443.6 402.8,2443.6 401.8,2442.8 400.8,2443.2 399.8,2442.7 398.8,2443.7 397.8,2442.9 396.8,2443.6 395.8,2443.8 394.8,2442.8 393.8,2444.1 392.8,2442.7 391.8,2444 390.8,2443.1 389.8,2443.8 388.8,2442.6 387.8,2443.4 386.8,2444.1 385.8,2442.7 384.8,2443.6 383.8,2442.7 382.8,2443.4 381.8,2442.8 380.8,2442.9 379.8,2444 378.8,2443.5 377.8,2444 376.8,2443.9 375.8,2442.9 374.8,2443.5 373.8,2444 372.8,2443.9 371.8,2443.4 370.8,2443.9 369.8,2442.8 368.8,2443.8 367.8,2442.8 366.8,2444 365.8,2443.5 364.8,2443.1 363.8,2444 362.8,2443.2 361.8,2443.4 360.8,2442.6 359.8,2443.5 358.8,2443.2 357.8,2443.1 356.8,2442.7 355.8,2443.4 354.8,2442.9 353.8,2442.7 352.8,2443.9 351.8,2443.3 350.8,2443.3 349.8,2443.5 348.8,2443.5 347.8,2443.8 346.8,2443.7 345.8,2442.8 344.8,2442.6 343.8,2442.6 342.8,2443.6 341.8,2443.6 340.8,2442.9 339.8,2443.2 338.8,2443.8 337.8,2443.1 336.8,2442.4 335.8,2442.5 334.8,2442.9 333.8,2442.3 332.8,2443.9 331.8,2443.9 330.8,2442.5 329.8,2442.4 328.8,2442.7 327.8,2443.2 326.8,2443.3 325.8,2442.8 324.8,2443.7 323.8,2443.7 322.8,2442.3 321.8,2443.3 320.8,2442.5 319.8,2443.2 318.8,2442.6 317.8,2443 316.8,2442.9 315.8,2443.7 314.8,2443.3 313.8,2442.6 312.8,2443.6 311.8,2443.4 310.8,2443.2 309.8,2443.1 308.8,2442.5 307.8,2443.1 306.8,2443 305.8,2443.2 304.8,2442.8 303.8,2442.4 302.8,2443.2 301.8,2443.3 300.8,2442.8 299.8,2443.2 298.8,2442.6 297.8,2442.4 296.8,2443.4 295.8,2443.7 294.8,2442.9 293.8,2442.4 292.8,2443.1 291.8,2443.5 290.8,2443.4 289.8,2443 288.8,2443.7 287.8,2442.3 286.8,2442.3 285.8,2442.7 284.8,2442.2 283.8,2442.9 282.8,2443.7 281.8,2443.4 280.8,2443.7 279.8,2442.6 278.8,2442.3 277.8,2442.7 276.8,2443 275.8,2443.6 274.8,2443.2 273.8,2442.4 272.8,2443.1 271.8,2442.7 270.8,2443.7 269.8,2443 268.8,2443.3 267.8,2442.4 266.8,2442.5 265.8,2442.6 264.8,2443 263.8,2442.9 262.8,2442.5 261.8,2442.9 260.8,2442.2 259.8,2443.1 258.8,2442.1 257.8,2442.8 256.8,2442.4 255.8,2442.6 254.8,2442.5 253.8,2443.3 252.8,2443.3 251.8,2442.2 250.8,2442.9 249.8,2442.6 248.8,2442.4 247.8,2443.1 246.8,2443.3 245.8,2442.9 244.8,2443 243.8,2442.1 242.8,2443.4 241.8,2442.5 240.8,2443 239.8,2443 238.8,2442.8 237.8,2442.8 236.8,2443.4 235.8,2443.2 234.8,2442.9 233.8,2443.6 232.8,2442.1 231.8,2443.2 230.8,2442.3" fill="#000" stroke="none" stroke-width="1"/>
<polygon points="534,2405.9 535,2406.5 536,2406.4 537,2405.6 538,2405.7 539,2406.2 540,2406.2 541,2405.9 542,2406.5 543,2405.5 544,2406.2 545,2405.9 546,2406 547,2406.1 548,2406.2 549,2405.8 550,2406.4 551,2405.5 552,2405.9 553,2406.3 554,2406.5 555,2406.5 556,2406.4 557,2406.1 558,2406.5 559,2405.6 560,2405.6 561,2406.3 562,2406.5 563,2405.9 564,2405.6 565,2406.2 566,2405.6 567,2405.6 568,2405.8 569,2406.1 570,2405.6 571,2406.5 572,2405.7 573,2406.1 574,2405.8 575,2405.9 576,2406.6 577,2406.1 578,2406.6 579,2406.3 580,2405.9 581,2405.9 582,2406.5 583,2406.2 584,2405.8 585,2405.7 586,2405.8 587,2406.1 588,2405.7 589,2406.4 590,2405.9 591,2406.4 592,2405.8 593,2406.4 594,2406 595,2405.7 596,2405.8 597,2406.5 598,2406 599,2406.2 600,2406.4 601,2406.3 602,2406.6 603,2406.6 604,2405.7 605,2406 606,2406.5 607,2406.1 608,2406.6 609,2406.4 610,2406.6 611,2406.2 612,2405.8 613,2406.4 614,2406.3 615,2406 616,2406.2 617,2406.2 618,2405.9 619,2406.1 620,2406 621,2406.5 622,2405.7 623,2405.8 624,2405.9 625,2405.9 626,2405.7 627,2406 628,2406 629,2406.1 630,2406 631,2406.4 632,2406.4 633,2406.2 634,2405.7 635,2405.8 636,2406.5 637,2406.6 638,2406.2 639,2405.7 640,2406.5 641,2406 642,2406.3 643,2406.3 644,2406.1 645,2406.2 646,2406.1 647,2405.9 648,2405.9 649,2406.2 650,2405.9 651,2406.3 652,2406.4 653,2406.1 654,2406.7 655,2406.4 656,2406 657,2405.8 658,2406.3 659,2406.1 660,2405.8 661,2406.6 662,2405.8 663,2405.9 664,2406.2 665,2406.5 666,2405.9 667,2405.7 668,2406.2 669,2406.3 670,2405.9 671,2405.8 672,2406.4 673,2406.3 674,2406.2 675,2405.8 676,2406.2 677,2406 678,2406.6 679,2406.4 680,2406.6 681,2406.5 682,2406.2 683,2406.1 684,2406 685,2406.3 686,2406.5 687,2405.8 688,2406.7 689,2406.5 690,2406.1 691,2406.6 692,2406.2 693,2406.2 694,2406 695,2406 696,2406.3 697,2406.6 698,2406.3 699,2406.5 700,2406.5 701,2406.3 702,2406.6 703,2406.1 704,2406.4 705,2405.8 706,2406.2 707,2405.8 708,2406.1 709,2406.2 710,2405.8 711,2405.9 712,2406.5 713,2406.4 714,2406.5 715,2406.3 716,2406.5 717,2406.3 718,2406.3 719,2406.2 720,2406.3 721,2405.8 722,2406.5 723,2406.4 724,2405.9 725,2406.2 726,2406.7 727,2406.7 728,2406.1 729,2405.9 730,2406.3 731,2406.4 732,2406.3 733,2406.7 734,2406.1 735,2406.3 736,2406.1 737,2406.1 738,2406.7 739,2406 740,2406.6 741,2406.8 742,2406.5 743,2406.4 744,2406.4 745,2406.2 746,2406.6 747,2406.5 748,2406.3 749,2405.8 750,2406.5 751,2406.8 752,2406.8 753,2406.3 754,2405.8 755,2406.8 756,2406.6 757,2406.1 758,2406 759,2406.6 760,2406.3 761,2406.5 762,2406.2 763,2406.3 764,2406.3 765,2406.8 766,2406.6 767,2406.1 768,2406.7 769,2406 770,2406.8 771,2406 772,2406.4 773,2406.3 774,2406.3 775,2406.4 776,2406.1 777,2406.6 778,2405.9 779,2406.8 780,2406.5 781,2406.6 782,2406.4 783,2406.6 784,2406.3 785,2406.5 786,2406.3 787,2406.5 788,2406.6 789,2406.6 790,2406.5 791,2406.2 792,2406 793,2406.6 794,2406.6 795,2406.6 796,2406.9 797,2406 798,2406.6 799,2406.5 800,2406.6 801,2406.3 802,2406.7 803,2406.3 804,2406.4 805,2406 806,2406.5 807,2406.3 808,2406.1 809,2406.4 810,2406.7 811,2406.9 812,2406.1 813,2406 814,2406.8 815,2406 816,2406.1 817,2406.8 818,2406.2 819,2406.9 820,2406.8 821,2406.4 822,2406.5 823,2406 824,2406.2 825,2406 826,2406.3 827,2406.4 828,2406.7 829,2406.8 830,2406 831,2406.8 832,2406.6 833,2406.6 834,2406.1 835,2406.4 836,2406.8 837,2406.6 838,2406.9 839,2406 840,2406.8 841,2406.5 842,2406.8 843,2406.1 844,2406.2 845,2406.6 846,2406.7 847,2406.6 848,2406.7 849,2406.9 850,2406.8 851,2406.6 852,2406.1 853,2406 854,2406.2 855,2406.7 856,2406.6 857,2406.9 857,2434.2 856,2433.5 855,2434.1 854,2433.9 853,2433.6 852,2433.5 851,2433.9 850,2433.5 849,2433.5 848,2433.9 847,2434.3 846,2434.2 845,2434 844,2434.2 843,2434.1 842,2433.7 841,2434 840,2434.2 839,2434.2 838,2434.5 837,2434.1 836,2434.4 835,2433.9 834,2433.7 833,2434.3 832,2434.3 831,2434.2 830,2433.9 829,2433.9 828,2434.2 827,2433.6 826,2434.3 825,2433.8 824,2433.5 823,2434.4 822,2433.5 821,2433.5 820,2434.4 819,2434 818,2434.2 817,2433.7 816,2434.3 815,2433.6 814,2433.8 813,2434.3 812,2434.2 811,2434.2 810,2433.9 809,2434.2 808,2434.1 807,2434 806,2434.5 805,2433.9 804,2434.4 803,2434.4 802,2434.1 801,2434.3 800,2434 799,2434 798,2434.1 797,2434.2 796,2433.6 795,2434.4 794,2434.2 793,2434 792,2433.8 791,2433.6 790,2433.5 789,2433.6 788,2433.9 787,2434 786,2434 785,2434.4 784,2434 783,2434.4 782,2434.3 781,2434.4 780,2434.1 779,2434 778,2434.1 777,2433.8 776,2434 775,2434.4 774,2434.2 773,2434.4 772,2433.9 771,2434.1 770,2434.1 769,2433.6 768,2434.2 767,2434.1 766,2433.8 765,2433.8 764,2434.4 763,2433.7 762,2434.2 761,2434.4 760,2434.3 759,2434.1 758,2433.7 757,2433.9 756,2434.2 755,2433.6 754,2433.8 753,2433.9 752,2434.1 751,2434.1 750,2434 749,2433.8 748,2434.3 747,2433.9 746,2433.7 745,2433.8 744,2434.3 743,2434 742,2434 741,2434 740,2434.3 739,2434.4 738,2434.4 737,2434 736,2433.9 735,2434.4 734,2434.3 733,2433.9 732,2434.4 731,2434.4 730,2434.2 729,2433.6 728,2434.4 727,2434 726,2433.9 725,2434.1 724,2433.8 723,2433.7 722,2433.9 721,2433.6 720,2433.7 719,2434.2 718,2434.1 717,2433.7 716,2434 715,2433.9 714,2433.9 713,2433.5 712,2434.5 711,2433.5 710,2433.9 709,2433.8 708,2433.6 707,2433.6 706,2433.7 705,2433.9 704,2433.6 703,2433.9 702,2433.8 701,2434.5 700,2434 699,2434.5 698,2434.2 697,2433.6 696,2434.1 695,2434.3 694,2434.2 693,2434.1 692,2434 691,2434.1 690,2433.8 689,2433.6 688,2434.4 687,2434.4 686,2434.3 685,2434.2 684,2433.9 683,2434.1 682,2434.4 681,2433.8 680,2433.8 679,2434.1 678,2434 677,2434.2 676,2433.9 675,2434.4 674,2434.1 673,2434.2 672,2434.2 671,2434.2 670,2433.7 669,2434.4 668,2434.1 667,2434.3 666,2434.1 665,2433.9 664,2433.8 663,2434.1 662,2434.4 661,2434 660,2433.7 659,2433.8 658,2434.2 657,2433.9 656,2434.1 655,2434.1 654,2434 653,2434.5 652,2434.4 651,2434.1 650,2433.7 649,2433.6 648,2434.1 647,2434.5 646,2434 645,2433.8 644,2433.5 643,2434.2 642,2434 641,2434 640,2433.7 639,2434 638,2434 637,2433.9 636,2433.9 635,2434 634,2434.3 633,2433.9 632,2434.5 631,2433.9 630,2434.3 629,2433.9 628,2433.7 627,2434.2 626,2434 625,2434 624,2433.9 623,2434.5 622,2433.9 621,2433.8 620,2433.7 619,2434.3 618,2433.9 617,2434.1 616,2433.9 615,2433.6 614,2434.3 613,2434.2 612,2434.4 611,2433.9 610,2433.5 609,2434.3 608,2433.7 607,2434.3 606,2434.3 605,2433.9 604,2433.8 603,2434.2 602,2434.4 601,2434.4 600,2434.3 599,2433.9 598,2434.4 597,2434.2 596,2434.4 595,2433.7 594,2433.7 593,2434.2 592,2433.7 591,2434.4 590,2434.3 589,2433.5 588,2434.3 587,2434.2 586,2434.3 585,2434 584,2434.5 583,2434.3 582,2433.8 581,2434.4 580,2434.3 579,2433.7 578,2433.8 577,2434.3 576,2434.4 575,2434.4 574,2433.7 573,2434.4 572,2434.2 571,2433.9 570,2434.1 569,2434.1 568,2434.2 567,2434.3 566,2434.4 565,2434.2 564,2434.3 563,2434.5 562,2433.6 561,2434.4 560,2433.6 559,2434.5 558,2433.6 557,2433.7 556,2433.8 555,2433.6 554,2434 553,2434 552,2434.2 551,2434.3 550,2434 549,2433.6 548,2433.7 547,2433.8 546,2434.1 545,2434.2 544,2434.5 543,2433.9 542,2433.9 541,2434.2 540,2434.2 539,2434.3 538,2433.7 537,2434 536,2433.9 535,2433.7 534,2434.4" fill="#000" stroke="none" stroke-width="1"/>
<polyline points="218.7,2708.8 223.2,2708.9 227.7,2701.6 232.2,2693 236.7,2690.5 241.2,2678.1 245.7,2684.4 250.2,2680.9 254.7,2681.7 259.2,2684.3 263.7,2691.5 268.2,2685.9 272.7,2692.9 277.2,2693.7 281.7,2697.1 286.2,2697.5 290.7,2699.3 295.2,2696.3 299.7,2696.4 304.2,2695.9 308.7,2699.8 313.2,2698.8 317.7,2698 322.2,2694.8 326.7,2695.5 331.2,2695 335.7,2694.7 340.2,2692.6 344.7,2694.4 349.2,2679.9 351,2679.8 355.6,2666.7 360.3,2669.4 364.9,2658.7 369.6,2663.1 374.2,2656 378.9,2664.9 383.5,2659.5 388.2,2663.8 392.8,2653 397.5,2655.7 402.1,2649.4 406.8,2657.6 411.4,2650.2 416.1,2650.7 420.7,2638 425.4,2642.8 430,2634 434.7,2641.5 439.3,2635.4 444,2640.3 448.6,2631.3 453.3,2636.1 457.9,2627.3 462.6,2632.3 467.2,2623.9 471.9,2629.2 476.5,2621.7 481.2,2627.4 485.8,2620.2 490.5,2626.2 495.1,2617.6 499.8,2623.3 504.4,2614.2 509.1,2619.9 513.7,2611 518.4,2617.8 523,2610.1 527.7,2616.2 532.3,2609.1 537,2616.1 541.6,2609.5 546.3,2616.5 550.9,2609.6 555.6,2615.3 560.2,2607.7 564.9,2614.1 569.5,2606.3 574.2,2612.6 578.8,2605.5 583.5,2611.3 588.1,2604.1 592.8,2607.8 597.4,2598 602.1,2602 606.7,2592.5 611.4,2597.3 616,2587.6 620.7,2591.8 625.3,2583.3 630,2588.6 634.6,2580.3 639.3,2586.5 643.9,2578.5 648.6,2585.4 653.2,2578.2 657.9,2585.4 662.5,2578.1 667.2,2585.6 671.8,2578.4 676.5,2585.4 681.1,2578.2 685.8,2585.5 690.4,2576.3 695.1,2581.8 699.7,2572.5 704.4,2578.1 709,2569.5 713.7,2576.2 718.3,2568.7 723,2575.3 727.6,2567.9 732.3,2573 736.9,2563.6 741.6,2569.2 746.2,2560.2 750.9,2565.4 755.5,2556.5 760.2,2562.6 764.8,2554 769.5,2559.2 774.1,2550.4 778.8,2555.4 783.4,2547 788.1,2552.3 792.7,2543.3 797.4,2548.7 802,2539.8 806.7,2545 811.3,2535.8 816,2540.5 820.6,2531.8 825.3,2536.2 829.9,2526.6 834.6,2530 839.2,2518.7" fill="none" stroke="#ff1a1a" stroke-width="2.6" stroke-linejoin="round"/>
<line x1="188" y1="2752.7" x2="198" y2="2752.7" stroke="#000" stroke-width="4"/>
<line x1="188" y1="2641.5" x2="198" y2="2641.5" stroke="#000" stroke-width="4"/>
<line x1="188" y1="2530.3" x2="198" y2="2530.3" stroke="#000" stroke-width="4"/>
<line x1="188" y1="2419.1" x2="198" y2="2419.1" stroke="#000" stroke-width="4"/>
<line x1="188" y1="2307.9" x2="198" y2="2307.9" stroke="#000" stroke-width="4"/>
<line x1="188" y1="2196.7" x2="198" y2="2196.7" stroke="#000" stroke-width="4"/>
<line x1="188" y1="2697.1" x2="192.5" y2="2697.1" stroke="#000" stroke-width="3.2"/>
<line x1="188" y1="2585.9" x2="192.5" y2="2585.9" stroke="#000" stroke-width="3.2"/>
<line x1="188" y1="2474.7" x2="192.5" y2="2474.7" stroke="#000" stroke-width="3.2"/>
<line x1="188" y1="2363.5" x2="192.5" y2="2363.5" stroke="#000" stroke-width="3.2"/>
<line x1="188" y1="2252.3" x2="192.5" y2="2252.3" stroke="#000" stroke-width="3.2"/>
<line x1="220.5" y1="2752.7" x2="220.5" y2="2742.7" stroke="#000" stroke-width="4"/>
<line x1="345.2" y1="2752.7" x2="345.2" y2="2742.7" stroke="#000" stroke-width="4"/>
<line x1="469.9" y1="2752.7" x2="469.9" y2="2742.7" stroke="#000" stroke-width="4"/>
<line x1="594.6" y1="2752.7" x2="594.6" y2="2742.7" stroke="#000" stroke-width="4"/>
<line x1="719.3" y1="2752.7" x2="719.3" y2="2742.7" stroke="#000" stroke-width="4"/>
<line x1="844" y1="2752.7" x2="844" y2="2742.7" stroke="#000" stroke-width="4"/>
<line x1="282.9" y1="2752.7" x2="282.9" y2="2748.2" stroke="#000" stroke-width="3.2"/>
<line x1="407.6" y1="2752.7" x2="407.6" y2="2748.2" stroke="#000" stroke-width="3.2"/>
<line x1="532.2" y1="2752.7" x2="532.2" y2="2748.2" stroke="#000" stroke-width="3.2"/>
<line x1="657" y1="2752.7" x2="657" y2="2748.2" stroke="#000" stroke-width="3.2"/>
<line x1="781.7" y1="2752.7" x2="781.7" y2="2748.2" stroke="#000" stroke-width="3.2"/>
<line x1="877.4" y1="2752.7" x2="867.4" y2="2752.7" stroke="#ff0000" stroke-width="4"/>
<line x1="877.4" y1="2641.3" x2="867.4" y2="2641.3" stroke="#ff0000" stroke-width="4"/>
<line x1="877.4" y1="2529.9" x2="867.4" y2="2529.9" stroke="#ff0000" stroke-width="4"/>
<line x1="877.4" y1="2418.4" x2="867.4" y2="2418.4" stroke="#ff0000" stroke-width="4"/>
<line x1="877.4" y1="2307" x2="867.4" y2="2307" stroke="#ff0000" stroke-width="4"/>
<line x1="877.4" y1="2195.6" x2="867.4" y2="2195.6" stroke="#ff0000" stroke-width="4"/>
<line x1="877.4" y1="2697" x2="872.9" y2="2697" stroke="#ff0000" stroke-width="3.2"/>
<line x1="877.4" y1="2585.6" x2="872.9" y2="2585.6" stroke="#ff0000" stroke-width="3.2"/>
<line x1="877.4" y1="2474.1" x2="872.9" y2="2474.1" stroke="#ff0000" stroke-width="3.2"/>
<line x1="877.4" y1="2362.7" x2="872.9" y2="2362.7" stroke="#ff0000" stroke-width="3.2"/>
<line x1="877.4" y1="2251.3" x2="872.9" y2="2251.3" stroke="#ff0000" stroke-width="3.2"/>
<line x1="188" y1="2195.6" x2="866.4" y2="2195.6" stroke="#000" stroke-width="5.6"/>
<line x1="188" y1="2752.7" x2="866.4" y2="2752.7" stroke="#000" stroke-width="5.6"/>
<line x1="866.4" y1="2195.6" x2="877.4" y2="2195.6" stroke="#ff0000" stroke-width="5.6"/>
<line x1="866.4" y1="2752.7" x2="877.4" y2="2752.7" stroke="#ff0000" stroke-width="5.6"/>
<line x1="188" y1="2192.8" x2="188" y2="2755.5" stroke="#000" stroke-width="5.6"/>
<line x1="877.4" y1="2192.8" x2="877.4" y2="2755.5" stroke="#ff0000" stroke-width="5.6"/>
<text transform="translate(175.3,2765.5)" font-family="'Liberation Serif', 'Times New Roman', serif" font-size="46" fill="#111" text-anchor="end">-12</text>
<text transform="translate(175.3,2654.3)" font-family="'Liberation Serif', 'Times New Roman', serif" font-size="46" fill="#111" text-anchor="end">-8</text>
<text transform="translate(175.3,2543.1)" font-family="'Liberation Serif', 'Times New Roman', serif" font-size="46" fill="#111" text-anchor="end">-4</text>
<text transform="translate(175.3,2431.9)" font-family="'Liberation Serif', 'Times New Roman', serif" font-size="46" fill="#111" text-anchor="end">0</text>
<text transform="translate(175.3,2320.7)" font-family="'Liberation Serif', 'Times New Roman', serif" font-size="46" fill="#111" text-anchor="end">4</text>
<text transform="translate(175.3,2209.5)" font-family="'Liberation Serif', 'Times New Roman', serif" font-size="46" fill="#111" text-anchor="end">8</text>
<text transform="translate(220.5,2801.5)" font-family="'Liberation Serif', 'Times New Roman', serif" font-size="46" fill="#111" text-anchor="middle">0</text>
<text transform="translate(345.2,2801.5)" font-family="'Liberation Serif', 'Times New Roman', serif" font-size="46" fill="#111" text-anchor="middle">200</text>
<text transform="translate(469.9,2801.5)" font-family="'Liberation Serif', 'Times New Roman', serif" font-size="46" fill="#111" text-anchor="middle">400</text>
<text transform="translate(594.6,2801.5)" font-family="'Liberation Serif', 'Times New Roman', serif" font-size="46" fill="#111" text-anchor="middle">600</text>
<text transform="translate(719.3,2801.5)" font-family="'Liberation Serif', 'Times New Roman', serif" font-size="46" fill="#111" text-anchor="middle">800</text>
<text transform="translate(844,2801.5)" font-family="'Liberation Serif', 'Times New Roman', serif" font-size="46" fill="#111" text-anchor="middle">1000</text>
<text transform="translate(889,2765.5)" font-family="'Liberation Serif', 'Times New Roman', serif" font-size="46" fill="#ff0000" text-anchor="start">0.05</text>
<text transform="translate(889,2654.1)" font-family="'Liberation Serif', 'Times New Roman', serif" font-size="46" fill="#ff0000" text-anchor="start">0.10</text>
<text transform="translate(889,2542.7)" font-family="'Liberation Serif', 'Times New Roman', serif" font-size="46" fill="#ff0000" text-anchor="start">0.15</text>
<text transform="translate(889,2431.2)" font-family="'Liberation Serif', 'Times New Roman', serif" font-size="46" fill="#ff0000" text-anchor="start">0.20</text>
<text transform="translate(889,2319.8)" font-family="'Liberation Serif', 'Times New Roman', serif" font-size="46" fill="#ff0000" text-anchor="start">0.25</text>
<text transform="translate(889,2208.4)" font-family="'Liberation Serif', 'Times New Roman', serif" font-size="46" fill="#ff0000" text-anchor="start">0.30</text>
<text transform="translate(372.2,2235.8)" font-family="'Liberation Serif', 'Times New Roman', serif" font-size="41" font-weight="bold" fill="#111" text-anchor="middle">Dry friction</text>
<text transform="translate(706.1,2235) scale(1.050,1)" font-family="'Liberation Serif', 'Times New Roman', serif" font-size="40" font-weight="bold" fill="#1414e6" text-anchor="middle">Add Glycerol</text>
<text transform="translate(525,2848)" font-family="'Liberation Serif', 'Times New Roman', serif" font-size="46" fill="#111" text-anchor="middle">Time (s)</text>
<text transform="translate(99.6,2463.4) rotate(-90)" font-family="'Liberation Serif', 'Times New Roman', serif" font-size="48" fill="#111" text-anchor="middle">Current (nA)</text>
<text transform="translate(1012.4,2472.6) rotate(-90)" font-family="'Liberation Serif', 'Times New Roman', serif" font-size="47" fill="#ff0000" text-anchor="middle">Friction coefficient</text>
<rect x="1581.8" y="2195.6" width="320.9" height="548.4" fill="#3399ee"/>
<polygon points="1265.8,2396.7 1266.8,2396.3 1267.8,2396.5 1268.8,2396.2 1269.8,2396.7 1270.8,2396.9 1271.8,2396.8 1272.8,2396.4 1273.8,2396.2 1274.8,2396.7 1275.8,2397 1276.8,2396.5 1277.8,2396.1 1278.8,2397.4 1279.8,2397.3 1280.8,2397.2 1281.8,2397.2 1282.8,2396.9 1283.8,2396.2 1284.8,2396.7 1285.8,2396.7 1286.8,2396.6 1287.8,2396.5 1288.8,2396.7 1289.8,2396.3 1290.8,2395.9 1291.8,2396.2 1292.8,2396.2 1293.8,2397.1 1294.8,2396.8 1295.8,2396.3 1296.8,2397 1297.8,2397.1 1298.8,2397 1299.8,2396.8 1300.8,2396.4 1301.8,2397.1 1302.8,2397.2 1303.8,2396.2 1304.8,2396.8 1305.8,2396.5 1306.8,2396.9 1307.8,2396.7 1308.8,2397.4 1309.8,2397.3 1310.8,2397.2 1311.8,2397.2 1312.8,2396.4 1313.8,2396.9 1314.8,2396.5 1315.8,2397.2 1316.8,2396.4 1317.8,2396.4 1318.8,2397.3 1319.8,2396 1320.8,2397.4 1321.8,2396.4 1322.8,2396.1 1323.8,2396.6 1324.8,2397.1 1325.8,2396.5 1326.8,2396.2 1327.8,2396.3 1328.8,2396.4 1329.8,2397.3 1330.8,2396 1331.8,2395.9 1332.8,2397.2 1333.8,2397.4 1334.8,2397.1 1335.8,2396.6 1336.8,2395.8 1337.8,2396.3 1338.8,2395.9 1339.8,2396.6 1340.8,2396.5 1341.8,2397.1 1342.8,2396.4 1343.8,2395.8 1344.8,2396.2 1345.8,2396.8 1346.8,2397 1347.8,2395.8 1348.8,2396.2 1349.8,2396.1 1350.8,2396.6 1351.8,2396.3 1352.8,2397.3 1353.8,2396.5 1354.8,2396 1355.8,2397.1 1356.8,2397.1 1357.8,2396.6 1358.8,2397.2 1359.8,2396.6 1360.8,2397.1 1361.8,2396.4 1362.8,2395.8 1363.8,2397.2 1364.8,2396.9 1365.8,2397.2 1366.8,2396.3 1367.8,2397 1368.8,2396.5 1369.8,2396.9 1370.8,2396.2 1371.8,2397.2 1372.8,2397.3 1373.8,2396.1 1374.8,2397 1375.8,2395.8 1376.8,2396.7 1377.8,2397.3 1378.8,2397.2 1379.8,2396.8 1380.8,2396.6 1381.8,2396.8 1382.8,2397.1 1383.8,2396.2 1384.8,2396.9 1385.8,2396.1 1386.8,2396.9 1387.8,2395.8 1388.8,2397.2 1389.8,2396.1 1390.8,2396.8 1391.8,2396.5 1392.8,2395.7 1393.8,2397 1394.8,2395.7 1395.8,2397.3 1396.8,2397 1397.8,2395.8 1398.8,2396.2 1399.8,2397.2 1400.8,2396.8 1401.8,2396 1402.8,2396.3 1403.8,2396.3 1404.8,2396 1405.8,2396.2 1406.8,2395.7 1407.8,2396.1 1408.8,2397.3 1409.8,2397.2 1410.8,2396.3 1411.8,2396.6 1412.8,2397.2 1413.8,2396.7 1414.8,2396.8 1415.8,2395.7 1416.8,2396.9 1417.8,2397 1418.8,2396.5 1419.8,2396 1420.8,2396 1421.8,2396.2 1422.8,2397.1 1423.8,2395.7 1424.8,2396.2 1425.8,2395.9 1426.8,2396.9 1427.8,2396.1 1428.8,2396.1 1429.8,2396.2 1430.8,2396.5 1431.8,2395.7 1432.8,2396 1433.8,2397 1434.8,2397.1 1435.8,2395.8 1436.8,2396.1 1437.8,2395.7 1438.8,2396.6 1439.8,2396.8 1440.8,2396.6 1441.8,2395.9 1442.8,2396.9 1443.8,2395.6 1444.8,2396.3 1445.8,2396.1 1446.8,2396.6 1447.8,2396.2 1448.8,2396 1449.8,2396 1450.8,2395.8 1451.8,2396.6 1452.8,2396.9 1453.8,2395.6 1454.8,2397.2 1455.8,2396.3 1456.8,2396.3 1457.8,2395.9 1458.8,2395.6 1459.8,2396.4 1460.8,2396.8 1461.8,2396.7 1462.8,2396.8 1463.8,2397 1464.8,2395.7 1465.8,2396.5 1466.8,2395.6 1467.8,2395.9 1468.8,2396.7 1469.8,2396.5 1470.8,2396.3 1471.8,2397.1 1472.8,2396.7 1473.8,2396.5 1474.8,2397 1475.8,2397.1 1476.8,2395.6 1477.8,2396.8 1478.8,2396.4 1479.8,2395.9 1480.8,2396.7 1481.8,2396.8 1482.8,2396.4 1483.8,2396.4 1484.8,2396.6 1485.8,2396.7 1486.8,2397.1 1487.8,2397 1488.8,2396.3 1489.8,2395.8 1490.8,2396.4 1491.8,2395.8 1492.8,2396.5 1493.8,2395.8 1494.8,2395.7 1495.8,2395.8 1496.8,2396.3 1497.8,2395.8 1498.8,2395.6 1499.8,2396.5 1500.8,2396.4 1501.8,2395.8 1502.8,2396.5 1503.8,2396.1 1504.8,2396.1 1505.8,2396 1506.8,2396.4 1507.8,2396 1508.8,2396.8 1509.8,2395.6 1510.8,2395.8 1511.8,2396.8 1512.8,2396.3 1513.8,2396.5 1514.8,2395.8 1515.8,2397.1 1516.8,2396.3 1517.8,2395.7 1518.8,2397.1 1519.8,2395.6 1520.8,2396 1521.8,2395.6 1522.8,2395.5 1523.8,2396.5 1524.8,2396.3 1525.8,2396.2 1526.8,2396.7 1527.8,2396.7 1528.8,2396.3 1529.8,2396.6 1530.8,2395.9 1531.8,2396.7 1532.8,2396.4 1533.8,2396.9 1534.8,2396.7 1535.8,2395.8 1536.8,2396.2 1537.8,2395.9 1538.8,2395.5 1539.8,2395.9 1540.8,2396.9 1541.8,2396.9 1542.8,2396.7 1543.8,2395.8 1544.8,2396.2 1545.8,2396.1 1546.8,2396.3 1547.8,2396.3 1548.8,2396.7 1549.8,2396.1 1550.8,2396.6 1551.8,2396.3 1552.8,2397 1553.8,2396.2 1554.8,2396.4 1555.8,2397 1556.8,2396 1557.8,2396.2 1558.8,2396.1 1559.8,2396.1 1560.8,2395.5 1561.8,2397 1562.8,2396.4 1563.8,2396.3 1564.8,2395.5 1565.8,2396.6 1566.8,2396.1 1567.8,2395.7 1568.8,2395.5 1569.8,2395.9 1570.8,2395.9 1571.8,2395.7 1572.8,2396.6 1573.8,2396 1574.8,2395.9 1575.8,2396.1 1576.8,2396.1 1577.8,2396.8 1578.8,2396 1579.8,2396.1 1580.8,2396.9 1581.8,2395.9 1582.8,2395.5 1583.8,2396 1584.8,2396.3 1585.8,2396.5 1586.8,2396.1 1587.8,2396.2 1588.8,2395.7 1589.8,2395.9 1590.8,2397 1591.8,2396.9 1592.8,2396.9 1593.8,2395.8 1594.8,2395.6 1595.8,2396.2 1596.8,2396.8 1597.8,2396.8 1598.8,2396.5 1599.8,2395.4 1600.8,2396.6 1601.8,2396 1602.8,2395.4 1603.8,2396.6 1604.8,2395.5 1605.8,2395.4 1606.8,2396.6 1607.8,2396.5 1608.8,2396.3 1609.8,2395.5 1610.8,2396.7 1611.8,2396.7 1612.8,2396.2 1613.8,2395.4 1614.8,2396.9 1615.8,2395.9 1616.8,2395.7 1617.8,2396.4 1618.8,2395.6 1619.8,2396 1620.8,2395.4 1621.8,2396.2 1622.8,2395.4 1623.8,2396.6 1624.8,2396.9 1625.8,2396.1 1626.8,2396.3 1627.8,2395.9 1628.8,2396.5 1629.8,2395.8 1630.8,2396 1631.8,2396 1632.8,2395.5 1633.8,2396.4 1634.8,2396.8 1635.8,2396.1 1636.8,2396.6 1637.8,2396.9 1638.8,2396.5 1639.8,2396.5 1640.8,2396.2 1641.8,2396 1642.8,2395.4 1643.8,2395.8 1644.8,2396.8 1645.8,2396.1 1646.8,2395.7 1647.8,2395.4 1648.8,2396.1 1649.8,2395.4 1650.8,2396.2 1651.8,2395.7 1652.8,2396.2 1653.8,2396 1654.8,2396.5 1655.8,2396.5 1656.8,2396.8 1657.8,2396.6 1658.8,2395.8 1659.8,2396.7 1660.8,2395.7 1661.8,2395.7 1662.8,2396.8 1663.8,2395.5 1664.8,2396.3 1665.8,2395.3 1666.8,2395.5 1667.8,2395.5 1668.8,2396.5 1669.8,2395.6 1670.8,2395.4 1671.8,2396.6 1672.8,2396.6 1673.8,2395.6 1674.8,2396.2 1675.8,2395.7 1676.8,2395.8 1677.8,2396.5 1678.8,2395.9 1679.8,2396.5 1680.8,2395.9 1681.8,2396 1682.8,2396.8 1683.8,2395.8 1684.8,2395.3 1685.8,2396.6 1686.8,2396.2 1687.8,2395.3 1688.8,2396.8 1689.8,2395.8 1690.8,2395.8 1691.8,2395.9 1692.8,2396.5 1693.8,2396.5 1694.8,2395.8 1695.8,2395.3 1696.8,2395.7 1697.8,2396.6 1698.8,2396 1699.8,2396.8 1700.8,2396.7 1701.8,2396.7 1702.8,2395.6 1703.8,2395.5 1704.8,2396.3 1705.8,2395.9 1706.8,2395.9 1707.8,2396.2 1708.8,2395.8 1709.8,2395.3 1710.8,2396.6 1711.8,2396 1712.8,2395.3 1713.8,2396.8 1714.8,2395.2 1715.8,2395.8 1716.8,2396.2 1717.8,2395.7 1718.8,2396.2 1719.8,2396.1 1720.8,2396 1721.8,2395.2 1722.8,2395.5 1723.8,2396 1724.8,2396.7 1725.8,2395.7 1726.8,2395.9 1727.8,2396.5 1728.8,2395.3 1729.8,2395.9 1730.8,2395.4 1731.8,2396.1 1732.8,2396.2 1733.8,2395.3 1734.8,2396.2 1735.8,2396.3 1736.8,2396.7 1737.8,2396 1738.8,2395.5 1739.8,2395.4 1740.8,2395.2 1741.8,2396 1742.8,2396.7 1743.8,2395.2 1744.8,2396.2 1745.8,2395.6 1746.8,2395.8 1747.8,2396.3 1748.8,2396.4 1749.8,2396.7 1750.8,2396.3 1751.8,2396.6 1752.8,2396.6 1753.8,2396.3 1754.8,2396.6 1755.8,2396.4 1756.8,2396.1 1757.8,2395.3 1758.8,2395.8 1759.8,2395.3 1760.8,2396.3 1761.8,2396.5 1762.8,2396.3 1763.8,2396.3 1764.8,2396.3 1765.8,2396.5 1766.8,2396 1767.8,2395.7 1768.8,2396.4 1769.8,2395.5 1770.8,2396 1771.8,2396.3 1772.8,2395.7 1773.8,2396.1 1774.8,2395.6 1775.8,2395.5 1776.8,2395.4 1777.8,2395.9 1778.8,2396 1779.8,2396.6 1780.8,2395.8 1781.8,2395.6 1782.8,2395.5 1783.8,2396.4 1784.8,2396.2 1785.8,2395.9 1786.8,2395.9 1787.8,2395.7 1788.8,2395.8 1789.8,2395.6 1790.8,2395.2 1791.8,2395.2 1792.8,2395.7 1793.8,2395.8 1794.8,2395.3 1795.8,2395.1 1796.8,2396 1797.8,2396.2 1798.8,2396.6 1799.8,2396.5 1800.8,2395.3 1801.8,2395.5 1802.8,2395.7 1803.8,2395.5 1804.8,2396.3 1805.8,2396.5 1806.8,2395.5 1807.8,2395.7 1808.8,2396.4 1809.8,2396.2 1810.8,2396.5 1811.8,2396.3 1812.8,2395.9 1813.8,2395.3 1814.8,2396.4 1815.8,2396.2 1816.8,2395.8 1817.8,2396.5 1818.8,2395.2 1819.8,2395.5 1820.8,2395.7 1821.8,2396.3 1822.8,2395.8 1823.8,2395.1 1824.8,2395.6 1825.8,2396 1826.8,2395 1827.8,2395.9 1828.8,2395.3 1829.8,2395.3 1830.8,2396.2 1831.8,2396 1832.8,2396 1833.8,2395.4 1834.8,2395.4 1835.8,2395.2 1836.8,2395.4 1837.8,2395.3 1838.8,2396.4 1839.8,2395.7 1840.8,2395.4 1841.8,2396 1842.8,2395.2 1843.8,2395.2 1844.8,2395.9 1845.8,2395.9 1846.8,2396 1847.8,2396 1848.8,2395.2 1849.8,2395.1 1850.8,2396.6 1851.8,2395.1 1852.8,2396 1853.8,2395.2 1854.8,2395.6 1855.8,2395.1 1856.8,2395.7 1857.8,2396 1858.8,2395.5 1859.8,2396.4 1860.8,2396.5 1861.8,2396.2 1862.8,2396.2 1863.8,2395.9 1864.8,2396.2 1865.8,2396.4 1866.8,2395.9 1867.8,2395.3 1868.8,2396 1869.8,2396.3 1870.8,2395.8 1871.8,2395.6 1872.8,2396.3 1873.8,2395.5 1874.8,2395.2 1875.8,2395.8 1876.8,2395.2 1877.8,2395 1878.8,2396.1 1879.8,2395.6 1880.8,2395.8 1881.8,2396.1 1882.8,2395.4 1883.8,2396.1 1884.8,2395.8 1885.8,2395.7 1886.8,2396.1 1887.8,2395.1 1888.8,2396 1889.8,2395.6 1890.8,2395.9 1891.8,2395.2 1892.8,2395.6 1893.8,2395.7 1894.8,2395.6 1895.8,2395.4 1896.8,2395.2 1897.8,2396.3 1898.8,2395.4 1899.8,2395.1 1899.8,2444.7 1898.8,2445 1897.8,2444.4 1896.8,2445.2 1895.8,2445.3 1894.8,2444.5 1893.8,2444.5 1892.8,2445.2 1891.8,2444.2 1890.8,2444.4 1889.8,2445.3 1888.8,2444.2 1887.8,2444.8 1886.8,2445.3 1885.8,2445.5 1884.8,2444.4 1883.8,2444.5 1882.8,2445.4 1881.8,2444.7 1880.8,2445.2 1879.8,2444.8 1878.8,2444.8 1877.8,2444.3 1876.8,2444.4 1875.8,2445.2 1874.8,2444.4 1873.8,2444.5 1872.8,2445.3 1871.8,2444.1 1870.8,2444.6 1869.8,2445.5 1868.8,2444 1867.8,2444.6 1866.8,2444.3 1865.8,2445.3 1864.8,2445.1 1863.8,2444.1 1862.8,2444.3 1861.8,2444.6 1860.8,2444.7 1859.8,2445 1858.8,2444.7 1857.8,2445.5 1856.8,2444.6 1855.8,2444.8 1854.8,2444.9 1853.8,2444.8 1852.8,2444.2 1851.8,2444.4 1850.8,2444.9 1849.8,2445.5 1848.8,2444.7 1847.8,2445.3 1846.8,2445.4 1845.8,2444 1844.8,2444.8 1843.8,2444.3 1842.8,2445.5 1841.8,2444.9 1840.8,2444.2 1839.8,2444.7 1838.8,2445 1837.8,2444.8 1836.8,2445.2 1835.8,2444 1834.8,2445.4 1833.8,2444.3 1832.8,2444.4 1831.8,2445.4 1830.8,2444 1829.8,2444.3 1828.8,2444 1827.8,2444 1826.8,2444.5 1825.8,2444.3 1824.8,2444.3 1823.8,2444.2 1822.8,2445.5 1821.8,2444.2 1820.8,2445.1 1819.8,2445.3 1818.8,2444.6 1817.8,2443.9 1816.8,2444.8 1815.8,2444.6 1814.8,2443.9 1813.8,2444.4 1812.8,2444 1811.8,2445.2 1810.8,2445.1 1809.8,2443.9 1808.8,2445.3 1807.8,2445.3 1806.8,2443.9 1805.8,2444.9 1804.8,2444.6 1803.8,2445.1 1802.8,2443.9 1801.8,2444.1 1800.8,2445.1 1799.8,2445.2 1798.8,2445.2 1797.8,2444.8 1796.8,2444.8 1795.8,2444.4 1794.8,2444 1793.8,2444.3 1792.8,2444.6 1791.8,2445.2 1790.8,2444.9 1789.8,2444.3 1788.8,2445.4 1787.8,2443.9 1786.8,2445 1785.8,2445.4 1784.8,2443.8 1783.8,2444.7 1782.8,2444.8 1781.8,2444.9 1780.8,2444.9 1779.8,2444.1 1778.8,2445.2 1777.8,2444 1776.8,2444.3 1775.8,2444.2 1774.8,2444.7 1773.8,2444.7 1772.8,2445.1 1771.8,2445.3 1770.8,2444.8 1769.8,2445 1768.8,2444.4 1767.8,2444.2 1766.8,2444.6 1765.8,2445 1764.8,2443.8 1763.8,2444.7 1762.8,2444.7 1761.8,2444.6 1760.8,2445.1 1759.8,2445 1758.8,2443.9 1757.8,2444.5 1756.8,2445.2 1755.8,2443.9 1754.8,2445.1 1753.8,2444.4 1752.8,2445.3 1751.8,2444.4 1750.8,2443.9 1749.8,2444.3 1748.8,2444.3 1747.8,2444.9 1746.8,2444.1 1745.8,2443.8 1744.8,2445.4 1743.8,2445.3 1742.8,2444.1 1741.8,2444.3 1740.8,2443.8 1739.8,2444 1738.8,2445.2 1737.8,2444.8 1736.8,2444 1735.8,2445.2 1734.8,2445.1 1733.8,2443.9 1732.8,2443.8 1731.8,2444.6 1730.8,2444.9 1729.8,2445 1728.8,2444.7 1727.8,2444.1 1726.8,2444.4 1725.8,2444.3 1724.8,2444.6 1723.8,2444.7 1722.8,2443.9 1721.8,2443.8 1720.8,2445.2 1719.8,2445.3 1718.8,2444.5 1717.8,2445.2 1716.8,2444.7 1715.8,2444.3 1714.8,2444.2 1713.8,2445.1 1712.8,2444 1711.8,2445 1710.8,2444.5 1709.8,2445 1708.8,2445.3 1707.8,2444.9 1706.8,2444.4 1705.8,2444.5 1704.8,2444.7 1703.8,2444.9 1702.8,2445.3 1701.8,2444.5 1700.8,2444.9 1699.8,2444.7 1698.8,2445 1697.8,2444.6 1696.8,2443.7 1695.8,2445.1 1694.8,2445.2 1693.8,2443.9 1692.8,2444.8 1691.8,2443.8 1690.8,2444.2 1689.8,2444.5 1688.8,2443.7 1687.8,2443.8 1686.8,2445.2 1685.8,2445 1684.8,2444.7 1683.8,2445.1 1682.8,2444.5 1681.8,2444.3 1680.8,2444.6 1679.8,2444.8 1678.8,2444.8 1677.8,2443.9 1676.8,2444.2 1675.8,2445.2 1674.8,2444.3 1673.8,2445 1672.8,2444.2 1671.8,2444.9 1670.8,2443.8 1669.8,2445.1 1668.8,2445.1 1667.8,2444.9 1666.8,2443.9 1665.8,2444.9 1664.8,2445.2 1663.8,2443.9 1662.8,2444.9 1661.8,2444.6 1660.8,2444.6 1659.8,2444.7 1658.8,2444.1 1657.8,2444.9 1656.8,2444 1655.8,2445.2 1654.8,2444.1 1653.8,2444.5 1652.8,2444.7 1651.8,2445 1650.8,2444.3 1649.8,2444.8 1648.8,2445 1647.8,2444.3 1646.8,2444.4 1645.8,2443.7 1644.8,2444.9 1643.8,2444.5 1642.8,2444.5 1641.8,2444.7 1640.8,2444.6 1639.8,2444.7 1638.8,2444.2 1637.8,2443.6 1636.8,2444.4 1635.8,2444 1634.8,2444.4 1633.8,2445 1632.8,2443.9 1631.8,2444.1 1630.8,2443.6 1629.8,2443.9 1628.8,2443.7 1627.8,2443.7 1626.8,2443.6 1625.8,2443.9 1624.8,2443.9 1623.8,2444.9 1622.8,2443.8 1621.8,2444 1620.8,2444.4 1619.8,2444.6 1618.8,2445.1 1617.8,2443.8 1616.8,2443.8 1615.8,2444.9 1614.8,2445 1613.8,2444.7 1612.8,2443.7 1611.8,2444.5 1610.8,2444.7 1609.8,2444.1 1608.8,2443.7 1607.8,2444.8 1606.8,2444.3 1605.8,2444.6 1604.8,2443.5 1603.8,2445.1 1602.8,2444.6 1601.8,2444.8 1600.8,2445.1 1599.8,2443.9 1598.8,2444.7 1597.8,2443.8 1596.8,2444.4 1595.8,2443.9 1594.8,2444.1 1593.8,2444.2 1592.8,2444.3 1591.8,2444.3 1590.8,2443.7 1589.8,2443.9 1588.8,2444.8 1587.8,2444.6 1586.8,2444.2 1585.8,2444.8 1584.8,2444.5 1583.8,2444.3 1582.8,2444.5 1581.8,2444.9 1580.8,2444.7 1579.8,2445 1578.8,2443.6 1577.8,2444.2 1576.8,2444.8 1575.8,2444.7 1574.8,2444.5 1573.8,2444.9 1572.8,2443.5 1571.8,2443.6 1570.8,2445 1569.8,2443.7 1568.8,2444.7 1567.8,2444.2 1566.8,2444.1 1565.8,2444.3 1564.8,2444.3 1563.8,2443.6 1562.8,2443.8 1561.8,2444.1 1560.8,2444.1 1559.8,2443.9 1558.8,2444.5 1557.8,2445 1556.8,2444 1555.8,2443.8 1554.8,2444.5 1553.8,2444.9 1552.8,2444.9 1551.8,2444.9 1550.8,2444.1 1549.8,2444.5 1548.8,2444 1547.8,2445 1546.8,2443.8 1545.8,2443.6 1544.8,2444.6 1543.8,2444.2 1542.8,2444.7 1541.8,2443.7 1540.8,2443.8 1539.8,2443.5 1538.8,2443.6 1537.8,2444.9 1536.8,2444.5 1535.8,2444.2 1534.8,2443.8 1533.8,2444.3 1532.8,2443.5 1531.8,2443.9 1530.8,2444.9 1529.8,2443.8 1528.8,2444.9 1527.8,2443.9 1526.8,2443.6 1525.8,2444.3 1524.8,2444.8 1523.8,2443.7 1522.8,2444.5 1521.8,2444.4 1520.8,2443.4 1519.8,2444 1518.8,2444.8 1517.8,2443.9 1516.8,2444.6 1515.8,2445 1514.8,2443.5 1513.8,2444.9 1512.8,2444.8 1511.8,2443.7 1510.8,2443.7 1509.8,2444.4 1508.8,2444.9 1507.8,2444.7 1506.8,2444.5 1505.8,2443.4 1504.8,2444.2 1503.8,2444.4 1502.8,2443.9 1501.8,2444 1500.8,2444.8 1499.8,2444.2 1498.8,2444.8 1497.8,2444.1 1496.8,2444.1 1495.8,2444.5 1494.8,2443.7 1493.8,2444.6 1492.8,2443.5 1491.8,2443.5 1490.8,2443.8 1489.8,2444.8 1488.8,2444.8 1487.8,2444.1 1486.8,2444 1485.8,2444.2 1484.8,2444.2 1483.8,2443.8 1482.8,2444.5 1481.8,2444.8 1480.8,2443.4 1479.8,2443.8 1478.8,2443.8 1477.8,2444.3 1476.8,2444.3 1475.8,2444.4 1474.8,2443.4 1473.8,2443.5 1472.8,2444.1 1471.8,2443.8 1470.8,2444.4 1469.8,2444.4 1468.8,2444.1 1467.8,2443.4 1466.8,2443.3 1465.8,2443.5 1464.8,2444 1463.8,2443.4 1462.8,2443.7 1461.8,2444.2 1460.8,2443.6 1459.8,2443.5 1458.8,2444 1457.8,2443.5 1456.8,2444.6 1455.8,2444 1454.8,2443.3 1453.8,2444.6 1452.8,2443.6 1451.8,2443.5 1450.8,2444.6 1449.8,2443.5 1448.8,2443.4 1447.8,2443.8 1446.8,2443.6 1445.8,2443.9 1444.8,2444.3 1443.8,2443.9 1442.8,2444.3 1441.8,2444.5 1440.8,2443.9 1439.8,2444.7 1438.8,2444.7 1437.8,2444.1 1436.8,2444.3 1435.8,2443.6 1434.8,2444.6 1433.8,2444.4 1432.8,2443.3 1431.8,2443.6 1430.8,2444.2 1429.8,2443.7 1428.8,2443.5 1427.8,2443.8 1426.8,2443.4 1425.8,2443.5 1424.8,2444.5 1423.8,2443.6 1422.8,2444.5 1421.8,2443.4 1420.8,2444.5 1419.8,2443.6 1418.8,2443.7 1417.8,2444 1416.8,2444.4 1415.8,2444.8 1414.8,2444.6 1413.8,2443.8 1412.8,2443.5 1411.8,2443.6 1410.8,2444.8 1409.8,2443.3 1408.8,2444.8 1407.8,2443.8 1406.8,2444.5 1405.8,2444.3 1404.8,2444.5 1403.8,2443.5 1402.8,2443.3 1401.8,2444.1 1400.8,2443.8 1399.8,2444.7 1398.8,2444.3 1397.8,2443.4 1396.8,2444.3 1395.8,2443.2 1394.8,2444.3 1393.8,2444.3 1392.8,2443.5 1391.8,2443.5 1390.8,2444.5 1389.8,2443.2 1388.8,2444.5 1387.8,2444.1 1386.8,2444.5 1385.8,2443.7 1384.8,2443.2 1383.8,2443.7 1382.8,2443.7 1381.8,2443.7 1380.8,2443.7 1379.8,2444.8 1378.8,2443.7 1377.8,2444.1 1376.8,2444 1375.8,2443.4 1374.8,2443.7 1373.8,2443.3 1372.8,2443.5 1371.8,2443.9 1370.8,2444 1369.8,2444.7 1368.8,2444.3 1367.8,2444.7 1366.8,2443.6 1365.8,2444.3 1364.8,2443.6 1363.8,2444 1362.8,2444.2 1361.8,2444.7 1360.8,2444.2 1359.8,2444 1358.8,2443.4 1357.8,2444.2 1356.8,2443.6 1355.8,2443.8 1354.8,2443.6 1353.8,2444.2 1352.8,2443.4 1351.8,2443.5 1350.8,2444 1349.8,2444.5 1348.8,2443.6 1347.8,2444.2 1346.8,2444.7 1345.8,2444.1 1344.8,2443.4 1343.8,2443.9 1342.8,2443.9 1341.8,2444.4 1340.8,2443.8 1339.8,2444.3 1338.8,2444 1337.8,2443.7 1336.8,2443.4 1335.8,2443.2 1334.8,2443.4 1333.8,2443.6 1332.8,2444.5 1331.8,2444.4 1330.8,2443.5 1329.8,2444.4 1328.8,2443.1 1327.8,2444.4 1326.8,2443.1 1325.8,2443.3 1324.8,2444.7 1323.8,2444 1322.8,2443.1 1321.8,2443.4 1320.8,2443.7 1319.8,2443.9 1318.8,2443.2 1317.8,2443.4 1316.8,2443.5 1315.8,2443.3 1314.8,2444 1313.8,2443.5 1312.8,2443.5 1311.8,2444.3 1310.8,2443.4 1309.8,2444.1 1308.8,2443.5 1307.8,2443.9 1306.8,2444.6 1305.8,2443.3 1304.8,2443.2 1303.8,2443.3 1302.8,2443.4 1301.8,2444.1 1300.8,2444.2 1299.8,2444 1298.8,2444.3 1297.8,2444.4 1296.8,2444.5 1295.8,2443.3 1294.8,2443.1 1293.8,2444.4 1292.8,2443.4 1291.8,2444.1 1290.8,2444.6 1289.8,2444.5 1288.8,2444.1 1287.8,2443.8 1286.8,2443.5 1285.8,2444.5 1284.8,2443.1 1283.8,2443.3 1282.8,2443.8 1281.8,2444.4 1280.8,2443.5 1279.8,2443.2 1278.8,2443.1 1277.8,2443.8 1276.8,2444.2 1275.8,2443.4 1274.8,2443.3 1273.8,2443.1 1272.8,2443.1 1271.8,2444.3 1270.8,2443.1 1269.8,2444.1 1268.8,2443.9 1267.8,2444.5 1266.8,2444.5 1265.8,2443.3" fill="#000" stroke="none" stroke-width="1"/>
<polyline points="1265,2721.1 1269.2,2711.3 1273.5,2708.3 1277.8,2699 1282,2696.3 1286.2,2686.7 1290.5,2686.2 1294.8,2677.2 1299,2677.1 1303.2,2670.4 1307.5,2671.9 1311.8,2666.4 1316,2668.8 1320.2,2663.2 1324.5,2665.3 1328.8,2659.4 1333,2660.9 1337.2,2655 1341.5,2653.7 1345.8,2647 1350,2647.3 1354.2,2641.3 1358.5,2641.2 1362.8,2634 1367,2633.9 1371.2,2628.3 1375.5,2628.8 1379.8,2622.8 1384,2623.6 1388.2,2616.2 1392.5,2617.2 1396.8,2612.9 1401,2614.9 1405.2,2612 1409.5,2615.3 1413.8,2612.7 1418,2616.3 1422.2,2613.9 1426.5,2617.7 1430.8,2614.1 1435,2617.8 1439.2,2614.5 1443.5,2617.9 1447.8,2614.6 1452,2617.1 1456.2,2612 1460.5,2614.7 1464.8,2610.3 1469,2612.4 1473.2,2608 1477.5,2610.6 1481.8,2606.7 1486,2608.7 1490.2,2604.3 1494.5,2606.7 1498.8,2602.7 1503,2605.1 1507.2,2600.4 1511.5,2602.4 1515.8,2598.1 1520,2600.1 1524.2,2596.6 1528.5,2598.3 1532.8,2593.8 1537,2595.1 1541.2,2590.2 1545.5,2592 1549.8,2587.4 1554,2589.8 1558.2,2585 1562.5,2586.9 1566.8,2582 1571,2584.4 1575.2,2581.1 1579.5,2583.4 1583.8,2579.8 1588,2582 1592.2,2576.9 1596.5,2579 1600.8,2575.4 1605,2576.6 1609.2,2572.3 1613.5,2574 1617.8,2569.1 1622,2571.1 1626.2,2566.2 1630.5,2569.5 1634.8,2565.4 1639,2567.1 1643.2,2563.1 1647.5,2566.4 1651.8,2561.8 1656,2564.5 1660.2,2561.1 1664.5,2564 1668.8,2559.5 1673,2560.7 1677.2,2555.9 1681.5,2557.9 1685.8,2554.9 1690,2559.4 1694.2,2559.6 1698.5,2570.1 1701,2570.2 1705.5,2565.9 1710,2571.8 1714.5,2571.2 1719,2580 1723.5,2576.6 1728,2583.6 1732.5,2578.3 1737,2585.7 1741.5,2580.5 1746,2584.5 1750.5,2579.2 1755,2585.1 1759.5,2581 1764,2585.7 1768.5,2582.1 1773,2587.8 1777.5,2581 1782,2586.9 1786.5,2582.6 1791,2586.2 1795.5,2583.3 1800,2588.8 1804.5,2585.5 1809,2589.6 1813.5,2584.4 1818,2589.5 1822.5,2582.4 1827,2588.9 1831.5,2582.1 1836,2587.4 1840.5,2582.5 1845,2586.4 1849.5,2581 1854,2584.5 1858.5,2577.9 1863,2582.5 1867.5,2577.8 1872,2584.1 1876.5,2579 1881,2583.9 1885.5,2577.5 1890,2581.8 1894.5,2573.7 1899,2577.6" fill="none" stroke="#ff1a1a" stroke-width="2.5" stroke-linejoin="round"/>
<line x1="1235.2" y1="2752.7" x2="1245.2" y2="2752.7" stroke="#000" stroke-width="4"/>
<line x1="1235.2" y1="2641.5" x2="1245.2" y2="2641.5" stroke="#000" stroke-width="4"/>
<line x1="1235.2" y1="2530.3" x2="1245.2" y2="2530.3" stroke="#000" stroke-width="4"/>
<line x1="1235.2" y1="2419.1" x2="1245.2" y2="2419.1" stroke="#000" stroke-width="4"/>
<line x1="1235.2" y1="2307.9" x2="1245.2" y2="2307.9" stroke="#000" stroke-width="4"/>
<line x1="1235.2" y1="2196.7" x2="1245.2" y2="2196.7" stroke="#000" stroke-width="4"/>
<line x1="1235.2" y1="2697.1" x2="1239.7" y2="2697.1" stroke="#000" stroke-width="3.2"/>
<line x1="1235.2" y1="2585.9" x2="1239.7" y2="2585.9" stroke="#000" stroke-width="3.2"/>
<line x1="1235.2" y1="2474.7" x2="1239.7" y2="2474.7" stroke="#000" stroke-width="3.2"/>
<line x1="1235.2" y1="2363.5" x2="1239.7" y2="2363.5" stroke="#000" stroke-width="3.2"/>
<line x1="1235.2" y1="2252.3" x2="1239.7" y2="2252.3" stroke="#000" stroke-width="3.2"/>
<line x1="1265.6" y1="2752.7" x2="1265.6" y2="2742.7" stroke="#000" stroke-width="4"/>
<line x1="1385.3" y1="2752.7" x2="1385.3" y2="2742.7" stroke="#000" stroke-width="4"/>
<line x1="1505" y1="2752.7" x2="1505" y2="2742.7" stroke="#000" stroke-width="4"/>
<line x1="1624.7" y1="2752.7" x2="1624.7" y2="2742.7" stroke="#000" stroke-width="4"/>
<line x1="1744.4" y1="2752.7" x2="1744.4" y2="2742.7" stroke="#000" stroke-width="4"/>
<line x1="1864.1" y1="2752.7" x2="1864.1" y2="2742.7" stroke="#000" stroke-width="4"/>
<line x1="1325.4" y1="2752.7" x2="1325.4" y2="2748.2" stroke="#000" stroke-width="3.2"/>
<line x1="1445.1" y1="2752.7" x2="1445.1" y2="2748.2" stroke="#000" stroke-width="3.2"/>
<line x1="1564.8" y1="2752.7" x2="1564.8" y2="2748.2" stroke="#000" stroke-width="3.2"/>
<line x1="1684.5" y1="2752.7" x2="1684.5" y2="2748.2" stroke="#000" stroke-width="3.2"/>
<line x1="1804.2" y1="2752.7" x2="1804.2" y2="2748.2" stroke="#000" stroke-width="3.2"/>
<line x1="1925" y1="2640.2" x2="1915" y2="2640.2" stroke="#ff0000" stroke-width="4"/>
<line x1="1925" y1="2492" x2="1915" y2="2492" stroke="#ff0000" stroke-width="4"/>
<line x1="1925" y1="2343.8" x2="1915" y2="2343.8" stroke="#ff0000" stroke-width="4"/>
<line x1="1925" y1="2195.6" x2="1915" y2="2195.6" stroke="#ff0000" stroke-width="4"/>
<line x1="1925" y1="2714.3" x2="1920.5" y2="2714.3" stroke="#ff0000" stroke-width="3.2"/>
<line x1="1925" y1="2566.1" x2="1920.5" y2="2566.1" stroke="#ff0000" stroke-width="3.2"/>
<line x1="1925" y1="2417.9" x2="1920.5" y2="2417.9" stroke="#ff0000" stroke-width="3.2"/>
<line x1="1925" y1="2269.7" x2="1920.5" y2="2269.7" stroke="#ff0000" stroke-width="3.2"/>
<line x1="1235.2" y1="2195.6" x2="1914" y2="2195.6" stroke="#000" stroke-width="5.6"/>
<line x1="1235.2" y1="2752.7" x2="1914" y2="2752.7" stroke="#000" stroke-width="5.6"/>
<line x1="1914" y1="2195.6" x2="1925" y2="2195.6" stroke="#ff0000" stroke-width="5.6"/>
<line x1="1914" y1="2752.7" x2="1925" y2="2752.7" stroke="#ff0000" stroke-width="5.6"/>
<line x1="1235.2" y1="2192.8" x2="1235.2" y2="2755.5" stroke="#000" stroke-width="5.6"/>
<line x1="1925" y1="2192.8" x2="1925" y2="2755.5" stroke="#ff0000" stroke-width="5.6"/>
<text transform="translate(1222.5,2765.5)" font-family="'Liberation Serif', 'Times New Roman', serif" font-size="46" fill="#111" text-anchor="end">-12</text>
<text transform="translate(1222.5,2654.3)" font-family="'Liberation Serif', 'Times New Roman', serif" font-size="46" fill="#111" text-anchor="end">-8</text>
<text transform="translate(1222.5,2543.1)" font-family="'Liberation Serif', 'Times New Roman', serif" font-size="46" fill="#111" text-anchor="end">-4</text>
<text transform="translate(1222.5,2431.9)" font-family="'Liberation Serif', 'Times New Roman', serif" font-size="46" fill="#111" text-anchor="end">0</text>
<text transform="translate(1222.5,2320.7)" font-family="'Liberation Serif', 'Times New Roman', serif" font-size="46" fill="#111" text-anchor="end">4</text>
<text transform="translate(1222.5,2209.5)" font-family="'Liberation Serif', 'Times New Roman', serif" font-size="46" fill="#111" text-anchor="end">8</text>
<text transform="translate(1265.6,2801.5)" font-family="'Liberation Serif', 'Times New Roman', serif" font-size="46" fill="#111" text-anchor="middle">0</text>
<text transform="translate(1385.3,2801.5)" font-family="'Liberation Serif', 'Times New Roman', serif" font-size="46" fill="#111" text-anchor="middle">200</text>
<text transform="translate(1505,2801.5)" font-family="'Liberation Serif', 'Times New Roman', serif" font-size="46" fill="#111" text-anchor="middle">400</text>
<text transform="translate(1624.7,2801.5)" font-family="'Liberation Serif', 'Times New Roman', serif" font-size="46" fill="#111" text-anchor="middle">600</text>
<text transform="translate(1744.4,2801.5)" font-family="'Liberation Serif', 'Times New Roman', serif" font-size="46" fill="#111" text-anchor="middle">800</text>
<text transform="translate(1864.1,2801.5)" font-family="'Liberation Serif', 'Times New Roman', serif" font-size="46" fill="#111" text-anchor="middle">1000</text>
<text transform="translate(1938.5,2653)" font-family="'Liberation Serif', 'Times New Roman', serif" font-size="46" fill="#ff0000" text-anchor="start">0.2</text>
<text transform="translate(1938.5,2504.8)" font-family="'Liberation Serif', 'Times New Roman', serif" font-size="46" fill="#ff0000" text-anchor="start">0.4</text>
<text transform="translate(1938.5,2356.6)" font-family="'Liberation Serif', 'Times New Roman', serif" font-size="46" fill="#ff0000" text-anchor="start">0.6</text>
<text transform="translate(1938.5,2208.4)" font-family="'Liberation Serif', 'Times New Roman', serif" font-size="46" fill="#ff0000" text-anchor="start">0.8</text>
<text transform="translate(1433,2236)" font-family="'Liberation Serif', 'Times New Roman', serif" font-size="41" font-weight="bold" fill="#111" text-anchor="middle">Dry friction</text>
<text transform="translate(1753.8,2231) scale(1.050,1)" font-family="'Liberation Serif', 'Times New Roman', serif" font-size="40" font-weight="bold" fill="#1414e6" text-anchor="middle">Add Alcohol</text>
<text transform="translate(1573.7,2848)" font-family="'Liberation Serif', 'Times New Roman', serif" font-size="46" fill="#111" text-anchor="middle">Time (s)</text>
<text transform="translate(1146.4,2462.8) rotate(-90)" font-family="'Liberation Serif', 'Times New Roman', serif" font-size="48" fill="#111" text-anchor="middle">Current (nA)</text>
<text transform="translate(2046.1,2473.9) rotate(-90)" font-family="'Liberation Serif', 'Times New Roman', serif" font-size="47.7" fill="#ff0000" text-anchor="middle">Friction coefficient</text>
<text transform="translate(19.7,75.3) scale(0.783,1)" font-family="'Liberation Sans', Arial, sans-serif" font-size="66.4" fill="#111" text-anchor="start" filter="url(#sh)">a</text>
<text transform="translate(1068.3,75.2) scale(0.949,1)" font-family="'Liberation Sans', Arial, sans-serif" font-size="71.4" fill="#111" text-anchor="start" filter="url(#sh)">b</text>
<text transform="translate(20.8,805.8) scale(0.882,1)" font-family="'Liberation Sans', Arial, sans-serif" font-size="67.3" fill="#111" text-anchor="start" filter="url(#sh)">c</text>
<text transform="translate(1068.3,805.8) scale(0.977,1)" font-family="'Liberation Sans', Arial, sans-serif" font-size="69.4" fill="#111" text-anchor="start" filter="url(#sh)">d</text>
<text transform="translate(21,1520.3) scale(0.988,1)" font-family="'Liberation Sans', Arial, sans-serif" font-size="66.4" fill="#111" text-anchor="start" filter="url(#sh)">e</text>
<text transform="translate(1073.3,1520.5) scale(1.089,1)" font-family="'Liberation Sans', Arial, sans-serif" font-size="71" fill="#111" text-anchor="start" filter="url(#sh)">f</text>
<text transform="translate(19.3,2230.8) scale(1.092,1)" font-family="'Liberation Sans', Arial, sans-serif" font-size="65.5" fill="#111" text-anchor="start" filter="url(#sh)">g</text>
<text transform="translate(1070.5,2233) scale(1.073,1)" font-family="'Liberation Sans', Arial, sans-serif" font-size="71" fill="#111" text-anchor="start" filter="url(#sh)">h</text>
</svg></body></html>
